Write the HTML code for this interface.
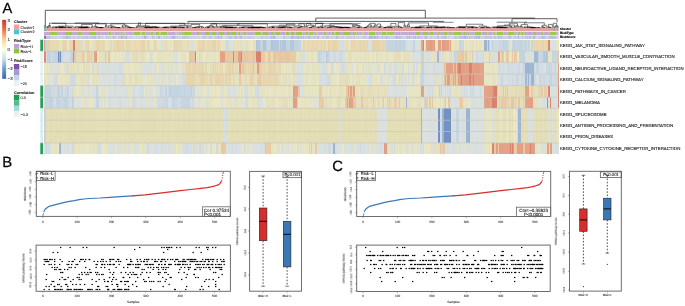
<!DOCTYPE html>
<html><head><meta charset="utf-8"><style>
html,body{margin:0;padding:0;background:#fff;width:685px;height:306px;overflow:hidden;}
svg{display:block;font-family:"Liberation Sans",sans-serif;}
text{will-change:transform;}
text.s{stroke-width:0.1px;stroke-linejoin:round;}
text{text-rendering:geometricPrecision;}
</style></head><body>
<svg width="685" height="306" viewBox="0 0 685 306">
<rect width="685" height="306" fill="#fff"/>
<defs><filter id="hb" x="0" y="0" width="1" height="1"><feGaussianBlur stdDeviation="0.55 0.25" edgeMode="duplicate"/></filter></defs>
<g filter="url(#hb)" shape-rendering="crispEdges"><g transform="translate(0 39.70)"><rect x="44" width="1.35" height="11.50" fill="#e3a286"/><rect x="45" width="1.35" height="11.50" fill="#c4d3e0"/><rect x="46" width="0.85" height="11.50" fill="#c5d4e1"/><rect x="46.5" width="2.35" height="11.50" fill="#e4d3ab"/><rect x="48.5" width="1.85" height="11.50" fill="#e5d4ac"/><rect x="50" width="4.35" height="11.50" fill="#e9d8b0"/><rect x="54" width="1.35" height="11.50" fill="#e6ddba"/><rect x="55" width="2.85" height="11.50" fill="#e9d8b0"/><rect x="57.5" width="1.35" height="11.50" fill="#e5dcb9"/><rect x="58.5" width="1.35" height="11.50" fill="#e7debb"/><rect x="59.5" width="0.85" height="11.50" fill="#e5dcb9"/><rect x="60" width="2.35" height="11.50" fill="#e7e4c3"/><rect x="62" width="1.35" height="11.50" fill="#e9d8b0"/><rect x="63" width="1.35" height="11.50" fill="#e4d3ab"/><rect x="64" width="1.85" height="11.50" fill="#e5d4ac"/><rect x="65.5" width="1.85" height="11.50" fill="#e7d6ae"/><rect x="67" width="2.35" height="11.50" fill="#e9e6c5"/><rect x="69" width="3.35" height="11.50" fill="#e7d6ae"/><rect x="72" width="1.35" height="11.50" fill="#e8d7af"/><rect x="73" width="2.35" height="11.50" fill="#d8816d"/><rect x="75" width="1.35" height="11.50" fill="#e8d7af"/><rect x="76" width="1.35" height="11.50" fill="#e9d8b0"/><rect x="77" width="3.35" height="11.50" fill="#e8d7af"/><rect x="80" width="1.35" height="11.50" fill="#ead9b1"/><rect x="81" width="0.85" height="11.50" fill="#e7d6ae"/><rect x="81.5" width="2.85" height="11.50" fill="#dbe1de"/><rect x="84" width="0.85" height="11.50" fill="#e4e1c0"/><rect x="84.5" width="2.85" height="11.50" fill="#ead9b1"/><rect x="87" width="2.35" height="11.50" fill="#e6d5ad"/><rect x="89" width="1.35" height="11.50" fill="#e4e1c0"/><rect x="90" width="1.85" height="11.50" fill="#e9e6c5"/><rect x="91.5" width="1.35" height="11.50" fill="#e4e1c0"/><rect x="92.5" width="0.85" height="11.50" fill="#e9e6c5"/><rect x="93" width="1.85" height="11.50" fill="#e8dfbc"/><rect x="94.5" width="1.35" height="11.50" fill="#ead9b1"/><rect x="95.5" width="3.35" height="11.50" fill="#e5d4ac"/><rect x="98.5" width="1.85" height="11.50" fill="#e6d5ad"/><rect x="100" width="2.85" height="11.50" fill="#e9d8b0"/><rect x="102.5" width="1.35" height="11.50" fill="#e5d4ac"/><rect x="103.5" width="1.85" height="11.50" fill="#e9d8b0"/><rect x="105" width="1.85" height="11.50" fill="#e7e4c3"/><rect x="106.5" width="2.35" height="11.50" fill="#e6e3c2"/><rect x="108.5" width="2.85" height="11.50" fill="#e5dcb9"/><rect x="111" width="1.35" height="11.50" fill="#e7d6ae"/><rect x="112" width="1.35" height="11.50" fill="#e6e3c2"/><rect x="113" width="1.85" height="11.50" fill="#e8d7af"/><rect x="114.5" width="1.35" height="11.50" fill="#e5dcb9"/><rect x="115.5" width="1.35" height="11.50" fill="#e6d5ad"/><rect x="116.5" width="1.85" height="11.50" fill="#e4d3ab"/><rect x="118" width="2.85" height="11.50" fill="#e6d5ad"/><rect x="120.5" width="2.85" height="11.50" fill="#e8d7af"/><rect x="123" width="1.35" height="11.50" fill="#e5d4ac"/><rect x="124" width="1.35" height="11.50" fill="#e8dfbc"/><rect x="125" width="1.35" height="11.50" fill="#e6ddba"/><rect x="126" width="2.85" height="11.50" fill="#e7d6ae"/><rect x="128.5" width="2.85" height="11.50" fill="#e4dbb8"/><rect x="131" width="1.85" height="11.50" fill="#e7debb"/><rect x="132.5" width="1.35" height="11.50" fill="#e8dfbc"/><rect x="133.5" width="1.35" height="11.50" fill="#e8d7af"/><rect x="134.5" width="1.35" height="11.50" fill="#e4dbb8"/><rect x="135.5" width="1.35" height="11.50" fill="#ead9b1"/><rect x="136.5" width="1.35" height="11.50" fill="#e5e2c1"/><rect x="137.5" width="1.35" height="11.50" fill="#e9d8b0"/><rect x="138.5" width="1.35" height="11.50" fill="#e4dbb8"/><rect x="139.5" width="1.35" height="11.50" fill="#e9d8b0"/><rect x="140.5" width="1.85" height="11.50" fill="#e7d6ae"/><rect x="142" width="3.35" height="11.50" fill="#e4d3ab"/><rect x="145" width="2.35" height="11.50" fill="#e9e0bd"/><rect x="147" width="2.85" height="11.50" fill="#e8d7af"/><rect x="149.5" width="2.85" height="11.50" fill="#e7e4c3"/><rect x="152" width="1.35" height="11.50" fill="#eae7c6"/><rect x="153" width="1.35" height="11.50" fill="#e8dfbc"/><rect x="154" width="2.35" height="11.50" fill="#e5d4ac"/><rect x="156" width="1.85" height="11.50" fill="#e4e1c0"/><rect x="157.5" width="2.85" height="11.50" fill="#e7e4c3"/><rect x="160" width="1.35" height="11.50" fill="#dae0dd"/><rect x="161" width="2.35" height="11.50" fill="#e5e2c1"/><rect x="163" width="1.35" height="11.50" fill="#d2dce2"/><rect x="164" width="1.35" height="11.50" fill="#e5e2c1"/><rect x="165" width="2.35" height="11.50" fill="#e4dbb8"/><rect x="167" width="1.35" height="11.50" fill="#e8dfbc"/><rect x="168" width="1.35" height="11.50" fill="#e7e4c3"/><rect x="169" width="1.85" height="11.50" fill="#e6e3c2"/><rect x="170.5" width="1.35" height="11.50" fill="#e7e4c3"/><rect x="171.5" width="1.35" height="11.50" fill="#e9e6c5"/><rect x="172.5" width="0.85" height="11.50" fill="#e3dab7"/><rect x="173" width="1.35" height="11.50" fill="#ead9b1"/><rect x="174" width="2.85" height="11.50" fill="#e7d6ae"/><rect x="176.5" width="1.35" height="11.50" fill="#e4d3ab"/><rect x="177.5" width="1.85" height="11.50" fill="#e5dcb9"/><rect x="179" width="1.35" height="11.50" fill="#e4dbb8"/><rect x="180" width="1.35" height="11.50" fill="#e3dab7"/><rect x="181" width="1.35" height="11.50" fill="#e7d6ae"/><rect x="182" width="2.85" height="11.50" fill="#e8dfbc"/><rect x="184.5" width="2.35" height="11.50" fill="#e7debb"/><rect x="186.5" width="2.35" height="11.50" fill="#ead9b1"/><rect x="188.5" width="1.85" height="11.50" fill="#d9dfdc"/><rect x="190" width="2.35" height="11.50" fill="#dae0dd"/><rect x="192" width="1.85" height="11.50" fill="#d9dfdc"/><rect x="193.5" width="1.35" height="11.50" fill="#e9e6c5"/><rect x="194.5" width="1.1" height="11.50" fill="#dbe1de"/><rect x="195.25" width="2.85" height="11.50" fill="#e8dfbc"/><rect x="197.75" width="2.85" height="11.50" fill="#e6d5ad"/><rect x="200.25" width="2.35" height="11.50" fill="#e8d7af"/><rect x="202.25" width="2.85" height="11.50" fill="#e5d4ac"/><rect x="204.75" width="2.35" height="11.50" fill="#e8dfbc"/><rect x="206.75" width="2.85" height="11.50" fill="#e8d7af"/><rect x="209.25" width="1.35" height="11.50" fill="#e9d8b0"/><rect x="210.25" width="1.35" height="11.50" fill="#e6ddba"/><rect x="211.25" width="1.35" height="11.50" fill="#e8d7af"/><rect x="212.25" width="2.35" height="11.50" fill="#e6d5ad"/><rect x="214.25" width="2.35" height="11.50" fill="#e4d3ab"/><rect x="216.25" width="1.35" height="11.50" fill="#e7debb"/><rect x="217.25" width="1.85" height="11.50" fill="#e8d7af"/><rect x="218.75" width="2.6" height="11.50" fill="#ead9b1"/><rect x="221" width="1.85" height="11.50" fill="#e9e6c5"/><rect x="222.5" width="1.35" height="11.50" fill="#e6e3c2"/><rect x="223.5" width="1.85" height="11.50" fill="#e9e6c5"/><rect x="225" width="4.35" height="11.50" fill="#d0dae0"/><rect x="229" width="4.35" height="11.50" fill="#dbe1de"/><rect x="233" width="1.35" height="11.50" fill="#e4dbb8"/><rect x="234" width="2.35" height="11.50" fill="#e9e0bd"/><rect x="236" width="4.85" height="11.50" fill="#e8dfbc"/><rect x="240.5" width="2.35" height="11.50" fill="#d9dfdc"/><rect x="242.5" width="1.35" height="11.50" fill="#e6e3c2"/><rect x="243.5" width="1.35" height="11.50" fill="#e5e2c1"/><rect x="244.5" width="1.85" height="11.50" fill="#e9e0bd"/><rect x="246" width="1.85" height="11.50" fill="#e6ddba"/><rect x="247.5" width="2.85" height="11.50" fill="#e7e4c3"/><rect x="250" width="2.85" height="11.50" fill="#eae7c6"/><rect x="252.5" width="2.85" height="11.50" fill="#e8dfbc"/><rect x="255" width="1.35" height="11.50" fill="#d9dfdc"/><rect x="256" width="0.6" height="11.50" fill="#e4dbb8"/><rect x="256.25" width="1.35" height="11.50" fill="#b1c5da"/><rect x="257.25" width="2.1" height="11.50" fill="#b4c8dd"/><rect x="259" width="1.35" height="11.50" fill="#b5c9de"/><rect x="260" width="1.35" height="11.50" fill="#c3d2df"/><rect x="261" width="1.35" height="11.50" fill="#c4d3e0"/><rect x="262" width="1.35" height="11.50" fill="#c5d4e1"/><rect x="263" width="2.85" height="11.50" fill="#b2c6db"/><rect x="265.5" width="1.85" height="11.50" fill="#c2d1de"/><rect x="267" width="2.85" height="11.50" fill="#c8d7e4"/><rect x="269.5" width="1.85" height="11.50" fill="#c4d3e0"/><rect x="271" width="1.35" height="11.50" fill="#b0c4d9"/><rect x="272" width="1.35" height="11.50" fill="#b1c5da"/><rect x="273" width="2.35" height="11.50" fill="#b6cadf"/><rect x="275" width="1.35" height="11.50" fill="#b3c7dc"/><rect x="276" width="2.85" height="11.50" fill="#b5c9de"/><rect x="278.5" width="1.35" height="11.50" fill="#c8d7e4"/><rect x="279.5" width="1.35" height="11.50" fill="#b1c5da"/><rect x="280.5" width="1.85" height="11.50" fill="#c2d1de"/><rect x="282" width="1.35" height="11.50" fill="#b1c5da"/><rect x="283" width="2.85" height="11.50" fill="#b2c6db"/><rect x="285.5" width="2.85" height="11.50" fill="#c3d2df"/><rect x="288" width="2.35" height="11.50" fill="#c4d3e0"/><rect x="290" width="2.85" height="11.50" fill="#b4c8dd"/><rect x="292.5" width="1.85" height="11.50" fill="#b3c7dc"/><rect x="294" width="2.85" height="11.50" fill="#c3d2df"/><rect x="296.5" width="1.85" height="11.50" fill="#c4d3e0"/><rect x="298" width="2.35" height="11.50" fill="#c6d5e2"/><rect x="300" width="1.1" height="11.50" fill="#c5d4e1"/><rect x="300.75" width="2.6" height="11.50" fill="#e6e3c2"/><rect x="303" width="1.35" height="11.50" fill="#e6d5ad"/><rect x="304" width="1.35" height="11.50" fill="#e7d6ae"/><rect x="305" width="1.35" height="11.50" fill="#e8dfbc"/><rect x="306" width="2.85" height="11.50" fill="#e9d8b0"/><rect x="308.5" width="1.35" height="11.50" fill="#e8d7af"/><rect x="309.5" width="2.85" height="11.50" fill="#e9d8b0"/><rect x="312" width="7.35" height="11.50" fill="#e8d7af"/><rect x="319" width="1.85" height="11.50" fill="#e4dbb8"/><rect x="320.5" width="1.35" height="11.50" fill="#e6d5ad"/><rect x="321.5" width="1.35" height="11.50" fill="#e9d8b0"/><rect x="322.5" width="1.85" height="11.50" fill="#e6ddba"/><rect x="324" width="2.35" height="11.50" fill="#e7d6ae"/><rect x="326" width="2.35" height="11.50" fill="#e8dfbc"/><rect x="328" width="1.85" height="11.50" fill="#e5d4ac"/><rect x="329.5" width="2.85" height="11.50" fill="#e9d8b0"/><rect x="332" width="5.35" height="11.50" fill="#e5d4ac"/><rect x="337" width="2.35" height="11.50" fill="#e9d8b0"/><rect x="339" width="0.85" height="11.50" fill="#e5dcb9"/><rect x="339.5" width="2.85" height="11.50" fill="#d4dee4"/><rect x="342" width="2.35" height="11.50" fill="#d3dde3"/><rect x="344" width="1.85" height="11.50" fill="#dae0dd"/><rect x="345.5" width="1.35" height="11.50" fill="#e9d8b0"/><rect x="346.5" width="2.85" height="11.50" fill="#e8dfbc"/><rect x="349" width="1.35" height="11.50" fill="#e6e3c2"/><rect x="350" width="1.35" height="11.50" fill="#e7e4c3"/><rect x="351" width="1.35" height="11.50" fill="#e5d4ac"/><rect x="352" width="1.35" height="11.50" fill="#e9d8b0"/><rect x="353" width="2.85" height="11.50" fill="#e7d6ae"/><rect x="355.5" width="2.85" height="11.50" fill="#e9d8b0"/><rect x="358" width="1.35" height="11.50" fill="#e6ddba"/><rect x="359" width="2.85" height="11.50" fill="#e5d4ac"/><rect x="361.5" width="1.35" height="11.50" fill="#e5dcb9"/><rect x="362.5" width="2.35" height="11.50" fill="#e6d5ad"/><rect x="364.5" width="1.35" height="11.50" fill="#e5dcb9"/><rect x="365.5" width="1.85" height="11.50" fill="#e5d4ac"/><rect x="367" width="1.35" height="11.50" fill="#e6d5ad"/><rect x="368" width="0.6" height="11.50" fill="#e7debb"/><rect x="368" width="1.85" height="11.50" fill="#dae0dd"/><rect x="369.5" width="1.35" height="11.50" fill="#dbe1de"/><rect x="370.5" width="1.85" height="11.50" fill="#dae0dd"/><rect x="372" width="7.35" height="11.50" fill="#e4d3ab"/><rect x="379" width="1.35" height="11.50" fill="#e5d4ac"/><rect x="380" width="1.85" height="11.50" fill="#e7d6ae"/><rect x="381.5" width="2.35" height="11.50" fill="#e6d5ad"/><rect x="383.5" width="1.35" height="11.50" fill="#e8d7af"/><rect x="384.5" width="2.1" height="11.50" fill="#e6d5ad"/><rect x="386.25" width="1.85" height="11.50" fill="#c7d6e3"/><rect x="387.75" width="1.35" height="11.50" fill="#c5d4e1"/><rect x="388.75" width="2.35" height="11.50" fill="#c4d3e0"/><rect x="390.75" width="1.35" height="11.50" fill="#c6d5e2"/><rect x="391.75" width="1.35" height="11.50" fill="#c4d3e0"/><rect x="392.75" width="2.35" height="11.50" fill="#c6d5e2"/><rect x="394.75" width="3.85" height="11.50" fill="#c3d2df"/><rect x="398.25" width="1.35" height="11.50" fill="#c5d4e1"/><rect x="399.25" width="1.85" height="11.50" fill="#c2d1de"/><rect x="400.75" width="2.85" height="11.50" fill="#c5d4e1"/><rect x="403.25" width="1.35" height="11.50" fill="#c3d2df"/><rect x="404.25" width="0.6" height="11.50" fill="#c4d3e0"/><rect x="404.5" width="1.85" height="11.50" fill="#cfd9df"/><rect x="406" width="1.35" height="11.50" fill="#d1dbe1"/><rect x="407" width="3.35" height="11.50" fill="#dae0dd"/><rect x="410" width="2.85" height="11.50" fill="#d4dee4"/><rect x="412.5" width="3.1" height="11.50" fill="#c4d3e0"/><rect x="415.25" width="2.85" height="11.50" fill="#dae0dd"/><rect x="417.75" width="1.85" height="11.50" fill="#dbe1de"/><rect x="419.25" width="2.1" height="11.50" fill="#dae0dd"/><rect x="421" width="2.35" height="11.50" fill="#e5a488"/><rect x="423" width="1.35" height="11.50" fill="#db8470"/><rect x="424" width="2.35" height="11.50" fill="#e9e6c5"/><rect x="426" width="2.85" height="11.50" fill="#e3a286"/><rect x="428.5" width="1.35" height="11.50" fill="#e09f83"/><rect x="429.5" width="2.85" height="11.50" fill="#df9e82"/><rect x="432" width="2.35" height="11.50" fill="#e4a387"/><rect x="434" width="1.35" height="11.50" fill="#e2a185"/><rect x="435" width="2.85" height="11.50" fill="#e8e5c4"/><rect x="437.5" width="0.6" height="11.50" fill="#e4e1c0"/><rect x="437.75" width="1.35" height="11.50" fill="#e5a488"/><rect x="438.75" width="1.35" height="11.50" fill="#e1a084"/><rect x="439.75" width="1.85" height="11.50" fill="#e3a286"/><rect x="441.25" width="1.35" height="11.50" fill="#eacca7"/><rect x="442.25" width="1.35" height="11.50" fill="#df9e82"/><rect x="443.25" width="1.35" height="11.50" fill="#e09f83"/><rect x="444.25" width="2.35" height="11.50" fill="#e2a185"/><rect x="446.25" width="2.35" height="11.50" fill="#e4a387"/><rect x="448.25" width="1.35" height="11.50" fill="#e3a286"/><rect x="449.25" width="1.35" height="11.50" fill="#e4c6a1"/><rect x="450.25" width="0.6" height="11.50" fill="#e4a387"/><rect x="450.5" width="1.85" height="11.50" fill="#d9dfdc"/><rect x="452" width="2.85" height="11.50" fill="#e8e5c4"/><rect x="454.5" width="2.85" height="11.50" fill="#e7debb"/><rect x="457" width="1.85" height="11.50" fill="#e9e0bd"/><rect x="458.5" width="0.85" height="11.50" fill="#e6ddba"/><rect x="459" width="1.85" height="11.50" fill="#c6d5e2"/><rect x="460.5" width="1.35" height="11.50" fill="#c5d4e1"/><rect x="461.5" width="1.35" height="11.50" fill="#d1dbe1"/><rect x="462.5" width="1.85" height="11.50" fill="#c5d4e1"/><rect x="464" width="1.35" height="11.50" fill="#eae7c6"/><rect x="465" width="1.35" height="11.50" fill="#e7e4c3"/><rect x="466" width="1.35" height="11.50" fill="#e5e2c1"/><rect x="467" width="1.35" height="11.50" fill="#e9e0bd"/><rect x="468" width="2.35" height="11.50" fill="#e8e5c4"/><rect x="470" width="1.85" height="11.50" fill="#e5e2c1"/><rect x="471.5" width="2.35" height="11.50" fill="#e8dfbc"/><rect x="473.5" width="1.85" height="11.50" fill="#e8e5c4"/><rect x="475" width="1.35" height="11.50" fill="#eae7c6"/><rect x="476" width="1.35" height="11.50" fill="#e4dbb8"/><rect x="477" width="2.35" height="11.50" fill="#e8e5c4"/><rect x="479" width="1.35" height="11.50" fill="#e5e2c1"/><rect x="480" width="1.85" height="11.50" fill="#e6e3c2"/><rect x="481.5" width="2.85" height="11.50" fill="#e9e6c5"/><rect x="484" width="1.35" height="11.50" fill="#9db5d2"/><rect x="485" width="1.85" height="11.50" fill="#9cb4d1"/><rect x="486.5" width="1.85" height="11.50" fill="#c8d7e4"/><rect x="488" width="1.35" height="11.50" fill="#9cb4d1"/><rect x="489" width="1.35" height="11.50" fill="#c8d7e4"/><rect x="490" width="1.35" height="11.50" fill="#d4dee4"/><rect x="491" width="1.35" height="11.50" fill="#d1dbe1"/><rect x="492" width="1.35" height="11.50" fill="#c3d2df"/><rect x="493" width="2.35" height="11.50" fill="#d0dae0"/><rect x="495" width="2.35" height="11.50" fill="#cfd9df"/><rect x="497" width="1.35" height="11.50" fill="#d5dfe5"/><rect x="498" width="1.85" height="11.50" fill="#c8d7e4"/><rect x="499.5" width="1.35" height="11.50" fill="#d0dae0"/><rect x="500.5" width="2.35" height="11.50" fill="#c7d6e3"/><rect x="502.5" width="1.85" height="11.50" fill="#c3d2df"/><rect x="504" width="1.85" height="11.50" fill="#c4d3e0"/><rect x="505.5" width="1.35" height="11.50" fill="#c2d1de"/><rect x="506.5" width="2.35" height="11.50" fill="#c7d6e3"/><rect x="508.5" width="2.35" height="11.50" fill="#e5e2c1"/><rect x="510.5" width="1.35" height="11.50" fill="#e8e5c4"/><rect x="511.5" width="1.85" height="11.50" fill="#c7d6e3"/><rect x="513" width="2.35" height="11.50" fill="#c2d1de"/><rect x="515" width="2.85" height="11.50" fill="#c6d5e2"/><rect x="517.5" width="2.35" height="11.50" fill="#c4d3e0"/><rect x="519.5" width="2.85" height="11.50" fill="#c3d2df"/><rect x="522" width="2.85" height="11.50" fill="#c7d6e3"/><rect x="524.5" width="2.85" height="11.50" fill="#c4d3e0"/><rect x="527" width="1.35" height="11.50" fill="#d1dbe1"/><rect x="528" width="2.35" height="11.50" fill="#c5d4e1"/><rect x="530" width="1.35" height="11.50" fill="#e8e5c4"/><rect x="531" width="1.35" height="11.50" fill="#c6d5e2"/><rect x="532" width="1.35" height="11.50" fill="#c4d3e0"/><rect x="533" width="0.85" height="11.50" fill="#d2dce2"/><rect x="533.5" width="1.35" height="11.50" fill="#e6d5ad"/><rect x="534.5" width="4.85" height="11.50" fill="#e7d6ae"/><rect x="539" width="1.35" height="11.50" fill="#ead9b1"/><rect x="540" width="1.35" height="11.50" fill="#e8d7af"/><rect x="541" width="1.85" height="11.50" fill="#e6d5ad"/><rect x="542.5" width="1.35" height="11.50" fill="#e5d4ac"/><rect x="543.5" width="1.35" height="11.50" fill="#ead9b1"/><rect x="544.5" width="1.35" height="11.50" fill="#e8d7af"/><rect x="545.5" width="2.35" height="11.50" fill="#e6d5ad"/><rect x="547.5" width="0.85" height="11.50" fill="#e7d6ae"/><rect x="548" width="1.85" height="11.50" fill="#dd8672"/><rect x="549.5" width="0.85" height="11.50" fill="#da836f"/><rect x="550" width="1.35" height="11.50" fill="#d9dfdc"/><rect x="551" width="3.85" height="11.50" fill="#dbe1de"/><rect x="554.5" width="2.85" height="11.50" fill="#e7e4c3"/><rect x="557" width="1.35" height="11.50" fill="#eae7c6"/><rect x="558" width="0.5" height="11.50" fill="#e8e5c4"/></g><g transform="translate(0 51.20)"><rect x="44" width="2.35" height="11.30" fill="#dd8672"/><rect x="46" width="1.35" height="11.30" fill="#dae0dd"/><rect x="47" width="1.35" height="11.30" fill="#c2d1de"/><rect x="48" width="2.85" height="11.30" fill="#c3d2df"/><rect x="50.5" width="1.35" height="11.30" fill="#d5dfe5"/><rect x="51.5" width="2.35" height="11.30" fill="#c7d6e3"/><rect x="53.5" width="1.85" height="11.30" fill="#c8d7e4"/><rect x="55" width="1.35" height="11.30" fill="#c3d2df"/><rect x="56" width="1.35" height="11.30" fill="#c4d3e0"/><rect x="57" width="0.85" height="11.30" fill="#c3d2df"/><rect x="57.5" width="1.35" height="11.30" fill="#708ec0"/><rect x="58.5" width="1.35" height="11.30" fill="#a0b8d5"/><rect x="59.5" width="1.35" height="11.30" fill="#6f8dbf"/><rect x="60.5" width="2.1" height="11.30" fill="#c5d4e1"/><rect x="62.25" width="1.85" height="11.30" fill="#d1dbe1"/><rect x="63.75" width="1.35" height="11.30" fill="#d4dee4"/><rect x="64.75" width="1.35" height="11.30" fill="#dbe1de"/><rect x="65.75" width="2.85" height="11.30" fill="#d5dfe5"/><rect x="68.25" width="1.35" height="11.30" fill="#d4dee4"/><rect x="69.25" width="1.1" height="11.30" fill="#d5dfe5"/><rect x="70" width="1.85" height="11.30" fill="#c6d5e2"/><rect x="71.5" width="1.85" height="11.30" fill="#c3d2df"/><rect x="73" width="1.35" height="11.30" fill="#dc8571"/><rect x="74" width="0.6" height="11.30" fill="#db8470"/><rect x="74.25" width="2.35" height="11.30" fill="#e7c9a4"/><rect x="76.25" width="2.35" height="11.30" fill="#e4dbb8"/><rect x="78.25" width="2.35" height="11.30" fill="#e6ddba"/><rect x="80.25" width="2.35" height="11.30" fill="#e5dcb9"/><rect x="82.25" width="1.35" height="11.30" fill="#e8caa5"/><rect x="83.25" width="1.35" height="11.30" fill="#e6c8a3"/><rect x="84.25" width="1.35" height="11.30" fill="#e4dbb8"/><rect x="85.25" width="2.35" height="11.30" fill="#e9e0bd"/><rect x="87.25" width="2.85" height="11.30" fill="#eacca7"/><rect x="89.75" width="1.85" height="11.30" fill="#e5dcb9"/><rect x="91.25" width="1.35" height="11.30" fill="#e7c9a4"/><rect x="92.25" width="2.1" height="11.30" fill="#e6ddba"/><rect x="94" width="2.35" height="11.30" fill="#e4a387"/><rect x="96" width="1.35" height="11.30" fill="#df9e82"/><rect x="97" width="1.85" height="11.30" fill="#eae7c6"/><rect x="98.5" width="1.35" height="11.30" fill="#e4e1c0"/><rect x="99.5" width="1.85" height="11.30" fill="#e8dfbc"/><rect x="101" width="2.85" height="11.30" fill="#e4e1c0"/><rect x="103.5" width="1.35" height="11.30" fill="#e6e3c2"/><rect x="104.5" width="1.35" height="11.30" fill="#e5c7a2"/><rect x="105.5" width="1.85" height="11.30" fill="#e5e2c1"/><rect x="107" width="1.35" height="11.30" fill="#e4e1c0"/><rect x="108" width="1.35" height="11.30" fill="#e5c7a2"/><rect x="109" width="1.35" height="11.30" fill="#e6c8a3"/><rect x="110" width="1.35" height="11.30" fill="#e4e1c0"/><rect x="111" width="2.85" height="11.30" fill="#eae7c6"/><rect x="113.5" width="2.35" height="11.30" fill="#e7e4c3"/><rect x="115.5" width="1.35" height="11.30" fill="#e9e6c5"/><rect x="116.5" width="1.35" height="11.30" fill="#e7e4c3"/><rect x="117.5" width="2.85" height="11.30" fill="#e8e5c4"/><rect x="120" width="2.35" height="11.30" fill="#e9e6c5"/><rect x="122" width="1.85" height="11.30" fill="#e5e2c1"/><rect x="123.5" width="1.35" height="11.30" fill="#e9e6c5"/><rect x="124.5" width="0.85" height="11.30" fill="#e7e4c3"/><rect x="125" width="3.35" height="11.30" fill="#d4dee4"/><rect x="128" width="1.35" height="11.30" fill="#cfd9df"/><rect x="129" width="1.35" height="11.30" fill="#e7e4c3"/><rect x="130" width="1.35" height="11.30" fill="#e5e2c1"/><rect x="131" width="1.35" height="11.30" fill="#e7e4c3"/><rect x="132" width="2.85" height="11.30" fill="#e5dcb9"/><rect x="134.5" width="2.85" height="11.30" fill="#e4dbb8"/><rect x="137" width="1.85" height="11.30" fill="#e5dcb9"/><rect x="138.5" width="1.35" height="11.30" fill="#e9e6c5"/><rect x="139.5" width="4.35" height="11.30" fill="#e5dcb9"/><rect x="143.5" width="2.85" height="11.30" fill="#e5e2c1"/><rect x="146" width="2.85" height="11.30" fill="#e9e6c5"/><rect x="148.5" width="1.35" height="11.30" fill="#e7e4c3"/><rect x="149.5" width="1.35" height="11.30" fill="#d0dae0"/><rect x="150.5" width="1.35" height="11.30" fill="#d4dee4"/><rect x="151.5" width="2.35" height="11.30" fill="#e6e3c2"/><rect x="153.5" width="3.85" height="11.30" fill="#eae7c6"/><rect x="157" width="1.35" height="11.30" fill="#e5e2c1"/><rect x="158" width="1.35" height="11.30" fill="#e6e3c2"/><rect x="159" width="2.35" height="11.30" fill="#e5e2c1"/><rect x="161" width="4.35" height="11.30" fill="#e6e3c2"/><rect x="165" width="2.35" height="11.30" fill="#e9e6c5"/><rect x="167" width="2.85" height="11.30" fill="#e7e4c3"/><rect x="169.5" width="1.85" height="11.30" fill="#e4e1c0"/><rect x="171" width="1.85" height="11.30" fill="#e9e6c5"/><rect x="172.5" width="0.85" height="11.30" fill="#e5e2c1"/><rect x="173" width="1.35" height="11.30" fill="#d9dfdc"/><rect x="174" width="1.85" height="11.30" fill="#dbe1de"/><rect x="175.5" width="1.85" height="11.30" fill="#d4dee4"/><rect x="177" width="1.35" height="11.30" fill="#e7e4c3"/><rect x="178" width="4.35" height="11.30" fill="#e9e6c5"/><rect x="182" width="1.35" height="11.30" fill="#e5e2c1"/><rect x="183" width="3.35" height="11.30" fill="#e6e3c2"/><rect x="186" width="2.85" height="11.30" fill="#eae7c6"/><rect x="188.5" width="2.85" height="11.30" fill="#e5c7a2"/><rect x="191" width="1.35" height="11.30" fill="#e6c8a3"/><rect x="192" width="2.35" height="11.30" fill="#e7c9a4"/><rect x="194" width="0.85" height="11.30" fill="#e5c7a2"/><rect x="194.5" width="1.85" height="11.30" fill="#d9826e"/><rect x="196" width="1.35" height="11.30" fill="#e9e6c5"/><rect x="197" width="1.85" height="11.30" fill="#e7e4c3"/><rect x="198.5" width="1.35" height="11.30" fill="#e3dab7"/><rect x="199.5" width="2.35" height="11.30" fill="#e6ddba"/><rect x="201.5" width="1.35" height="11.30" fill="#e7e4c3"/><rect x="202.5" width="1.85" height="11.30" fill="#e9e6c5"/><rect x="204" width="1.85" height="11.30" fill="#eae7c6"/><rect x="205.5" width="1.85" height="11.30" fill="#e6ddba"/><rect x="207" width="2.85" height="11.30" fill="#e6e3c2"/><rect x="209.5" width="1.35" height="11.30" fill="#e9e6c5"/><rect x="210.5" width="1.85" height="11.30" fill="#e9e0bd"/><rect x="212" width="1.35" height="11.30" fill="#e7e4c3"/><rect x="213" width="2.85" height="11.30" fill="#e5e2c1"/><rect x="215.5" width="2.35" height="11.30" fill="#e8e5c4"/><rect x="217.5" width="2.85" height="11.30" fill="#e9e0bd"/><rect x="220" width="2.85" height="11.30" fill="#e3a286"/><rect x="222.5" width="1.35" height="11.30" fill="#e2a185"/><rect x="223.5" width="1.85" height="11.30" fill="#e3a286"/><rect x="225" width="2.35" height="11.30" fill="#e7c9a4"/><rect x="227" width="1.35" height="11.30" fill="#e6c8a3"/><rect x="228" width="1.35" height="11.30" fill="#e7c9a4"/><rect x="229" width="1.85" height="11.30" fill="#e8caa5"/><rect x="230.5" width="1.35" height="11.30" fill="#e7c9a4"/><rect x="231.5" width="1.35" height="11.30" fill="#e9cba6"/><rect x="232.5" width="0.85" height="11.30" fill="#e5c7a2"/><rect x="233" width="1.6" height="11.30" fill="#da836f"/><rect x="234.25" width="1.85" height="11.30" fill="#e7c9a4"/><rect x="235.75" width="1.35" height="11.30" fill="#e5c7a2"/><rect x="236.75" width="1.35" height="11.30" fill="#e8caa5"/><rect x="237.75" width="0.6" height="11.30" fill="#e5c7a2"/><rect x="238" width="3.35" height="11.30" fill="#e2a185"/><rect x="241" width="1.35" height="11.30" fill="#da836f"/><rect x="242" width="2.85" height="11.30" fill="#e6c8a3"/><rect x="244.5" width="1.35" height="11.30" fill="#e5c7a2"/><rect x="245.5" width="1.35" height="11.30" fill="#e7c9a4"/><rect x="246.5" width="1.85" height="11.30" fill="#e5c7a2"/><rect x="248" width="1.35" height="11.30" fill="#eacca7"/><rect x="249" width="1.35" height="11.30" fill="#e6c8a3"/><rect x="250" width="2.35" height="11.30" fill="#eacca7"/><rect x="252" width="2.85" height="11.30" fill="#e5c7a2"/><rect x="254.5" width="1.35" height="11.30" fill="#e9cba6"/><rect x="255.5" width="1.1" height="11.30" fill="#e6c8a3"/><rect x="256.25" width="4.85" height="11.30" fill="#d8816d"/><rect x="260.75" width="0.6" height="11.30" fill="#d9826e"/><rect x="261" width="1.35" height="11.30" fill="#e9cba6"/><rect x="262" width="1.35" height="11.30" fill="#e7c9a4"/><rect x="263" width="2.35" height="11.30" fill="#e9cba6"/><rect x="265" width="1.85" height="11.30" fill="#e7debb"/><rect x="266.5" width="1.85" height="11.30" fill="#e5dcb9"/><rect x="268" width="1.35" height="11.30" fill="#e6c8a3"/><rect x="269" width="1.35" height="11.30" fill="#e7c9a4"/><rect x="270" width="1.35" height="11.30" fill="#e9cba6"/><rect x="271" width="2.35" height="11.30" fill="#e7debb"/><rect x="273" width="2.85" height="11.30" fill="#e4c6a1"/><rect x="275.5" width="2.35" height="11.30" fill="#eacca7"/><rect x="277.5" width="1.35" height="11.30" fill="#e5c7a2"/><rect x="278.5" width="1.35" height="11.30" fill="#e7c9a4"/><rect x="279.5" width="1.35" height="11.30" fill="#e5c7a2"/><rect x="280.5" width="2.35" height="11.30" fill="#e6c8a3"/><rect x="282.5" width="2.35" height="11.30" fill="#e8caa5"/><rect x="284.5" width="1.35" height="11.30" fill="#e5c7a2"/><rect x="285.5" width="2.35" height="11.30" fill="#e4c6a1"/><rect x="287.5" width="2.85" height="11.30" fill="#e5c7a2"/><rect x="290" width="1.35" height="11.30" fill="#e8caa5"/><rect x="291" width="2.85" height="11.30" fill="#e9cba6"/><rect x="293.5" width="1.85" height="11.30" fill="#e8caa5"/><rect x="295" width="1.35" height="11.30" fill="#eacca7"/><rect x="296" width="2.35" height="11.30" fill="#e5e2c1"/><rect x="298" width="1.35" height="11.30" fill="#e8e5c4"/><rect x="299" width="1.85" height="11.30" fill="#e4e1c0"/><rect x="300.5" width="2.35" height="11.30" fill="#dae0dd"/><rect x="302.5" width="0.85" height="11.30" fill="#dbe1de"/><rect x="303" width="1.85" height="11.30" fill="#d3dde3"/><rect x="304.5" width="1.85" height="11.30" fill="#e9e6c5"/><rect x="306" width="1.35" height="11.30" fill="#e5e2c1"/><rect x="307" width="1.85" height="11.30" fill="#e6e3c2"/><rect x="308.5" width="2.35" height="11.30" fill="#e8e5c4"/><rect x="310.5" width="1.35" height="11.30" fill="#e4e1c0"/><rect x="311.5" width="1.35" height="11.30" fill="#e5e2c1"/><rect x="312.5" width="1.85" height="11.30" fill="#e6e3c2"/><rect x="314" width="2.35" height="11.30" fill="#e9e6c5"/><rect x="316" width="1.35" height="11.30" fill="#e7e4c3"/><rect x="317" width="0.85" height="11.30" fill="#dae0dd"/><rect x="317.5" width="2.35" height="11.30" fill="#c3d2df"/><rect x="319.5" width="1.35" height="11.30" fill="#c8d7e4"/><rect x="320.5" width="1.35" height="11.30" fill="#d0dae0"/><rect x="321.5" width="2.35" height="11.30" fill="#d1dbe1"/><rect x="323.5" width="1.35" height="11.30" fill="#d2dce2"/><rect x="324.5" width="1.85" height="11.30" fill="#dbe1de"/><rect x="326" width="0.6" height="11.30" fill="#d2dce2"/><rect x="326" width="1.35" height="11.30" fill="#b3c7dc"/><rect x="327" width="1.85" height="11.30" fill="#c6d5e2"/><rect x="328.5" width="1.35" height="11.30" fill="#c7d6e3"/><rect x="329.5" width="0.85" height="11.30" fill="#b3c7dc"/><rect x="330" width="1.85" height="11.30" fill="#dbe1de"/><rect x="331.5" width="1.35" height="11.30" fill="#d0dae0"/><rect x="332.5" width="1.85" height="11.30" fill="#d4dee4"/><rect x="334" width="2.35" height="11.30" fill="#d0dae0"/><rect x="336" width="2.85" height="11.30" fill="#d4dee4"/><rect x="338.5" width="2.35" height="11.30" fill="#cfd9df"/><rect x="340.5" width="2.85" height="11.30" fill="#d0dae0"/><rect x="343" width="2.85" height="11.30" fill="#dae0dd"/><rect x="345.5" width="1.85" height="11.30" fill="#eae7c6"/><rect x="347" width="1.35" height="11.30" fill="#e8e5c4"/><rect x="348" width="1.35" height="11.30" fill="#e4dbb8"/><rect x="349" width="1.35" height="11.30" fill="#e9e0bd"/><rect x="350" width="1.85" height="11.30" fill="#e7debb"/><rect x="351.5" width="2.85" height="11.30" fill="#e8e5c4"/><rect x="354" width="2.35" height="11.30" fill="#e6e3c2"/><rect x="356" width="1.35" height="11.30" fill="#e5e2c1"/><rect x="357" width="2.35" height="11.30" fill="#e7e4c3"/><rect x="359" width="1.85" height="11.30" fill="#e6e3c2"/><rect x="360.5" width="1.85" height="11.30" fill="#e8dfbc"/><rect x="362" width="1.85" height="11.30" fill="#e8e5c4"/><rect x="363.5" width="1.35" height="11.30" fill="#e5e2c1"/><rect x="364.5" width="1.35" height="11.30" fill="#e5dcb9"/><rect x="365.5" width="1.35" height="11.30" fill="#e6e3c2"/><rect x="366.5" width="1.85" height="11.30" fill="#e7e4c3"/><rect x="368" width="1.35" height="11.30" fill="#e8dfbc"/><rect x="369" width="1.35" height="11.30" fill="#e8e5c4"/><rect x="370" width="2.85" height="11.30" fill="#e9e6c5"/><rect x="372.5" width="1.85" height="11.30" fill="#e4dbb8"/><rect x="374" width="2.35" height="11.30" fill="#eae7c6"/><rect x="376" width="2.35" height="11.30" fill="#e6ddba"/><rect x="378" width="1.35" height="11.30" fill="#e8e5c4"/><rect x="379" width="2.85" height="11.30" fill="#e6e3c2"/><rect x="381.5" width="1.85" height="11.30" fill="#e4e1c0"/><rect x="383" width="2.35" height="11.30" fill="#eae7c6"/><rect x="385" width="3.85" height="11.30" fill="#e5e2c1"/><rect x="388.5" width="2.35" height="11.30" fill="#e9e6c5"/><rect x="390.5" width="2.35" height="11.30" fill="#e8e5c4"/><rect x="392.5" width="1.35" height="11.30" fill="#e6e3c2"/><rect x="393.5" width="1.35" height="11.30" fill="#e8dfbc"/><rect x="394.5" width="1.35" height="11.30" fill="#e5dcb9"/><rect x="395.5" width="1.35" height="11.30" fill="#e8dfbc"/><rect x="396.5" width="4.35" height="11.30" fill="#e5dcb9"/><rect x="400.5" width="2.35" height="11.30" fill="#eae7c6"/><rect x="402.5" width="1.35" height="11.30" fill="#e5e2c1"/><rect x="403.5" width="1.85" height="11.30" fill="#e5dcb9"/><rect x="405" width="2.85" height="11.30" fill="#e7debb"/><rect x="407.5" width="2.35" height="11.30" fill="#e4e1c0"/><rect x="409.5" width="1.35" height="11.30" fill="#e5e2c1"/><rect x="410.5" width="1.35" height="11.30" fill="#e9e6c5"/><rect x="411.5" width="0.85" height="11.30" fill="#e6e3c2"/><rect x="412" width="5.85" height="11.30" fill="#dae0dd"/><rect x="417.5" width="2.35" height="11.30" fill="#dbe1de"/><rect x="419.5" width="1.85" height="11.30" fill="#d9dfdc"/><rect x="421" width="2.35" height="11.30" fill="#c5d4e1"/><rect x="423" width="1.35" height="11.30" fill="#c4d3e0"/><rect x="424" width="1.35" height="11.30" fill="#e7e4c3"/><rect x="425" width="2.35" height="11.30" fill="#dae0dd"/><rect x="427" width="2.85" height="11.30" fill="#d9dfdc"/><rect x="429.5" width="2.35" height="11.30" fill="#dbe1de"/><rect x="431.5" width="1.35" height="11.30" fill="#e6e3c2"/><rect x="432.5" width="1.35" height="11.30" fill="#dbe1de"/><rect x="433.5" width="1.35" height="11.30" fill="#e4e1c0"/><rect x="434.5" width="1.85" height="11.30" fill="#dae0dd"/><rect x="436" width="1.35" height="11.30" fill="#dbe1de"/><rect x="437" width="1.35" height="11.30" fill="#a1b9d6"/><rect x="438" width="1.35" height="11.30" fill="#9eb6d3"/><rect x="439" width="2.85" height="11.30" fill="#e4e1c0"/><rect x="441.5" width="2.35" height="11.30" fill="#d9dfdc"/><rect x="443.5" width="2.85" height="11.30" fill="#e5e2c1"/><rect x="446" width="2.85" height="11.30" fill="#e8e5c4"/><rect x="448.5" width="2.85" height="11.30" fill="#d9dfdc"/><rect x="451" width="1.35" height="11.30" fill="#d3dde3"/><rect x="452" width="1.35" height="11.30" fill="#e8e5c4"/><rect x="453" width="1.35" height="11.30" fill="#dae0dd"/><rect x="454" width="2.85" height="11.30" fill="#c6d5e2"/><rect x="456.5" width="1.35" height="11.30" fill="#c7d6e3"/><rect x="457.5" width="0.85" height="11.30" fill="#c2d1de"/><rect x="458" width="1.35" height="11.30" fill="#e6c8a3"/><rect x="459" width="1.85" height="11.30" fill="#e9cba6"/><rect x="460.5" width="2.35" height="11.30" fill="#e6c8a3"/><rect x="462.5" width="1.35" height="11.30" fill="#e4c6a1"/><rect x="463.5" width="1.85" height="11.30" fill="#e5dcb9"/><rect x="465" width="2.35" height="11.30" fill="#e5c7a2"/><rect x="467" width="1.35" height="11.30" fill="#e7debb"/><rect x="468" width="1.85" height="11.30" fill="#e6ddba"/><rect x="469.5" width="2.85" height="11.30" fill="#e8dfbc"/><rect x="472" width="0.85" height="11.30" fill="#e7c9a4"/><rect x="472.5" width="3.85" height="11.30" fill="#dbe1de"/><rect x="476" width="1.85" height="11.30" fill="#d0dae0"/><rect x="477.5" width="1.35" height="11.30" fill="#d4dee4"/><rect x="478.5" width="1.35" height="11.30" fill="#d9dfdc"/><rect x="479.5" width="1.35" height="11.30" fill="#d3dde3"/><rect x="480.5" width="1.35" height="11.30" fill="#dae0dd"/><rect x="481.5" width="2.35" height="11.30" fill="#d2dce2"/><rect x="483.5" width="0.85" height="11.30" fill="#dbe1de"/><rect x="484" width="2.85" height="11.30" fill="#e6e3c2"/><rect x="486.5" width="2.85" height="11.30" fill="#e7e4c3"/><rect x="489" width="1.35" height="11.30" fill="#e6c8a3"/><rect x="490" width="1.35" height="11.30" fill="#e4e1c0"/><rect x="491" width="5.85" height="11.30" fill="#d9dfdc"/><rect x="496.5" width="1.85" height="11.30" fill="#dae0dd"/><rect x="498" width="2.35" height="11.30" fill="#e3a286"/><rect x="500" width="1.35" height="11.30" fill="#e7e4c3"/><rect x="501" width="2.85" height="11.30" fill="#e6c8a3"/><rect x="503.5" width="1.35" height="11.30" fill="#e9e6c5"/><rect x="504.5" width="1.35" height="11.30" fill="#e5e2c1"/><rect x="505.5" width="1.85" height="11.30" fill="#e7c9a4"/><rect x="507" width="1.85" height="11.30" fill="#e8caa5"/><rect x="508.5" width="2.35" height="11.30" fill="#eae7c6"/><rect x="510.5" width="1.85" height="11.30" fill="#e5e2c1"/><rect x="512" width="1.35" height="11.30" fill="#e6c8a3"/><rect x="513" width="1.35" height="11.30" fill="#e9e6c5"/><rect x="514" width="1.35" height="11.30" fill="#e4c6a1"/><rect x="515" width="1.35" height="11.30" fill="#e9cba6"/><rect x="516" width="1.35" height="11.30" fill="#eacca7"/><rect x="517" width="2.35" height="11.30" fill="#eae7c6"/><rect x="519" width="1.35" height="11.30" fill="#c6d5e2"/><rect x="520" width="2.85" height="11.30" fill="#c4d3e0"/><rect x="522.5" width="1.35" height="11.30" fill="#c3d2df"/><rect x="523.5" width="1.85" height="11.30" fill="#c2d1de"/><rect x="525" width="3.85" height="11.30" fill="#d9dfdc"/><rect x="528.5" width="2.35" height="11.30" fill="#dbe1de"/><rect x="530.5" width="2.35" height="11.30" fill="#dae0dd"/><rect x="532.5" width="1.35" height="11.30" fill="#dbe1de"/><rect x="533.5" width="4.35" height="11.30" fill="#a0b8d5"/><rect x="537.5" width="1.85" height="11.30" fill="#c4d3e0"/><rect x="539" width="4.35" height="11.30" fill="#c7d6e3"/><rect x="543" width="2.85" height="11.30" fill="#b5c9de"/><rect x="545.5" width="2.35" height="11.30" fill="#b2c6db"/><rect x="547.5" width="0.85" height="11.30" fill="#c6d5e2"/><rect x="548" width="2.85" height="11.30" fill="#e8e5c4"/><rect x="550.5" width="1.35" height="11.30" fill="#e7e4c3"/><rect x="551.5" width="0.85" height="11.30" fill="#e9e6c5"/><rect x="552" width="1.35" height="11.30" fill="#c5d4e1"/><rect x="553" width="2.85" height="11.30" fill="#c7d6e3"/><rect x="555.5" width="1.35" height="11.30" fill="#c8d7e4"/><rect x="556.5" width="1.35" height="11.30" fill="#c5d4e1"/><rect x="557.5" width="0.6" height="11.30" fill="#c6d5e2"/><rect x="557.5" width="1" height="11.30" fill="#e6c8a3"/></g><g transform="translate(0 62.50)"><rect x="44" width="3.35" height="11.50" fill="#eae7c6"/><rect x="47" width="1.35" height="11.50" fill="#e5e2c1"/><rect x="48" width="2.35" height="11.50" fill="#e9e6c5"/><rect x="50" width="1.35" height="11.50" fill="#d4dee4"/><rect x="51" width="1.85" height="11.50" fill="#e5e2c1"/><rect x="52.5" width="2.85" height="11.50" fill="#dbe1de"/><rect x="55" width="1.35" height="11.50" fill="#e6e3c2"/><rect x="56" width="2.35" height="11.50" fill="#dae0dd"/><rect x="58" width="1.85" height="11.50" fill="#d9dfdc"/><rect x="59.5" width="1.35" height="11.50" fill="#e9e6c5"/><rect x="60.5" width="0.85" height="11.50" fill="#d0dae0"/><rect x="61" width="2.85" height="11.50" fill="#e9e6c5"/><rect x="63.5" width="1.35" height="11.50" fill="#e4e1c0"/><rect x="64.5" width="1.35" height="11.50" fill="#e6e3c2"/><rect x="65.5" width="2.85" height="11.50" fill="#d3dde3"/><rect x="68" width="1.35" height="11.50" fill="#e3dab7"/><rect x="69" width="2.35" height="11.50" fill="#e5e2c1"/><rect x="71" width="1.35" height="11.50" fill="#e5dcb9"/><rect x="72" width="2.35" height="11.50" fill="#e9e0bd"/><rect x="74" width="1.85" height="11.50" fill="#e5e2c1"/><rect x="75.5" width="1.35" height="11.50" fill="#e9e6c5"/><rect x="76.5" width="1.85" height="11.50" fill="#e4dbb8"/><rect x="78" width="1.35" height="11.50" fill="#e6e3c2"/><rect x="79" width="1.35" height="11.50" fill="#e5e2c1"/><rect x="80" width="2.85" height="11.50" fill="#e9e6c5"/><rect x="82.5" width="2.35" height="11.50" fill="#e4dbb8"/><rect x="84.5" width="1.85" height="11.50" fill="#e9e6c5"/><rect x="86" width="1.35" height="11.50" fill="#e5dcb9"/><rect x="87" width="2.85" height="11.50" fill="#e4e1c0"/><rect x="89.5" width="1.35" height="11.50" fill="#e8e5c4"/><rect x="90.5" width="1.85" height="11.50" fill="#e9e6c5"/><rect x="92" width="2.35" height="11.50" fill="#d2dce2"/><rect x="94" width="1.35" height="11.50" fill="#e7e4c3"/><rect x="95" width="2.35" height="11.50" fill="#e5e2c1"/><rect x="97" width="2.35" height="11.50" fill="#d0dae0"/><rect x="99" width="2.85" height="11.50" fill="#dbe1de"/><rect x="101.5" width="2.35" height="11.50" fill="#d9dfdc"/><rect x="103.5" width="1.35" height="11.50" fill="#dae0dd"/><rect x="104.5" width="3.35" height="11.50" fill="#d9dfdc"/><rect x="107.5" width="0.85" height="11.50" fill="#dae0dd"/><rect x="108" width="2.85" height="11.50" fill="#d9dfdc"/><rect x="110.5" width="1.85" height="11.50" fill="#dbe1de"/><rect x="112" width="1.35" height="11.50" fill="#dae0dd"/><rect x="113" width="2.35" height="11.50" fill="#dbe1de"/><rect x="115" width="2.35" height="11.50" fill="#d9dfdc"/><rect x="117" width="1.35" height="11.50" fill="#dbe1de"/><rect x="118" width="2.85" height="11.50" fill="#d3dde3"/><rect x="120.5" width="1.85" height="11.50" fill="#d1dbe1"/><rect x="122" width="0.85" height="11.50" fill="#d3dde3"/><rect x="122.5" width="3.35" height="11.50" fill="#e6e3c2"/><rect x="125.5" width="2.85" height="11.50" fill="#e8e5c4"/><rect x="128" width="1.35" height="11.50" fill="#e6e3c2"/><rect x="129" width="1.35" height="11.50" fill="#e8e5c4"/><rect x="130" width="1.35" height="11.50" fill="#e7e4c3"/><rect x="131" width="2.35" height="11.50" fill="#eae7c6"/><rect x="133" width="1.85" height="11.50" fill="#e6e3c2"/><rect x="134.5" width="1.35" height="11.50" fill="#e8e5c4"/><rect x="135.5" width="2.85" height="11.50" fill="#e7e4c3"/><rect x="138" width="1.35" height="11.50" fill="#e8e5c4"/><rect x="139" width="1.35" height="11.50" fill="#e5e2c1"/><rect x="140" width="1.35" height="11.50" fill="#e7e4c3"/><rect x="141" width="1.85" height="11.50" fill="#d9dfdc"/><rect x="142.5" width="2.85" height="11.50" fill="#dbe1de"/><rect x="145" width="2.85" height="11.50" fill="#d9dfdc"/><rect x="147.5" width="2.35" height="11.50" fill="#dbe1de"/><rect x="149.5" width="2.35" height="11.50" fill="#dae0dd"/><rect x="151.5" width="1.35" height="11.50" fill="#dbe1de"/><rect x="152.5" width="1.35" height="11.50" fill="#e9e6c5"/><rect x="153.5" width="2.35" height="11.50" fill="#d9dfdc"/><rect x="155.5" width="1.85" height="11.50" fill="#e6e3c2"/><rect x="157" width="1.85" height="11.50" fill="#eae7c6"/><rect x="158.5" width="3.85" height="11.50" fill="#dbe1de"/><rect x="162" width="2.35" height="11.50" fill="#d9dfdc"/><rect x="164" width="1.35" height="11.50" fill="#e5e2c1"/><rect x="165" width="2.85" height="11.50" fill="#e6e3c2"/><rect x="167.5" width="1.85" height="11.50" fill="#d9dfdc"/><rect x="169" width="1.85" height="11.50" fill="#e5e2c1"/><rect x="170.5" width="2.85" height="11.50" fill="#d9dfdc"/><rect x="173" width="2.35" height="11.50" fill="#e8e5c4"/><rect x="175" width="2.85" height="11.50" fill="#d9dfdc"/><rect x="177.5" width="3.85" height="11.50" fill="#e9e6c5"/><rect x="181" width="1.35" height="11.50" fill="#e8e5c4"/><rect x="182" width="2.35" height="11.50" fill="#d9dfdc"/><rect x="184" width="0.85" height="11.50" fill="#e6e3c2"/><rect x="184.5" width="1.35" height="11.50" fill="#ead9b1"/><rect x="185.5" width="2.35" height="11.50" fill="#e6d5ad"/><rect x="187.5" width="1.35" height="11.50" fill="#e7d6ae"/><rect x="188.5" width="1.35" height="11.50" fill="#e5d4ac"/><rect x="189.5" width="1.35" height="11.50" fill="#e6d5ad"/><rect x="190.5" width="1.85" height="11.50" fill="#e4dbb8"/><rect x="192" width="1.35" height="11.50" fill="#e7d6ae"/><rect x="193" width="2.85" height="11.50" fill="#e5d4ac"/><rect x="195.5" width="1.35" height="11.50" fill="#ead9b1"/><rect x="196.5" width="1.35" height="11.50" fill="#e6d5ad"/><rect x="197.5" width="1.35" height="11.50" fill="#e4dbb8"/><rect x="198.5" width="1.35" height="11.50" fill="#e5d4ac"/><rect x="199.5" width="1.35" height="11.50" fill="#e6d5ad"/><rect x="200.5" width="1.85" height="11.50" fill="#e7d6ae"/><rect x="202" width="1.85" height="11.50" fill="#e5d4ac"/><rect x="203.5" width="1.35" height="11.50" fill="#e6e3c2"/><rect x="204.5" width="2.85" height="11.50" fill="#e5d4ac"/><rect x="207" width="2.85" height="11.50" fill="#e7e4c3"/><rect x="209.5" width="2.85" height="11.50" fill="#e5dcb9"/><rect x="212" width="1.35" height="11.50" fill="#e4e1c0"/><rect x="213" width="1.35" height="11.50" fill="#e4d3ab"/><rect x="214" width="1.35" height="11.50" fill="#e6ddba"/><rect x="215" width="1.35" height="11.50" fill="#e6d5ad"/><rect x="216" width="2.35" height="11.50" fill="#ead9b1"/><rect x="218" width="1.35" height="11.50" fill="#e5e2c1"/><rect x="219" width="2.85" height="11.50" fill="#ead9b1"/><rect x="221.5" width="1.35" height="11.50" fill="#e6d5ad"/><rect x="222.5" width="1.35" height="11.50" fill="#e9e6c5"/><rect x="223.5" width="1.85" height="11.50" fill="#e8e5c4"/><rect x="225" width="1.35" height="11.50" fill="#e3dab7"/><rect x="226" width="2.35" height="11.50" fill="#e9d8b0"/><rect x="228" width="1.35" height="11.50" fill="#e6d5ad"/><rect x="229" width="2.35" height="11.50" fill="#e5d4ac"/><rect x="231" width="1.35" height="11.50" fill="#ead9b1"/><rect x="232" width="2.35" height="11.50" fill="#e5d4ac"/><rect x="234" width="1.35" height="11.50" fill="#e7debb"/><rect x="235" width="2.85" height="11.50" fill="#ead9b1"/><rect x="237.5" width="1.35" height="11.50" fill="#e7e4c3"/><rect x="238.5" width="0.85" height="11.50" fill="#e5dcb9"/><rect x="239" width="1.85" height="11.50" fill="#df9e82"/><rect x="240.5" width="1.35" height="11.50" fill="#e7d6ae"/><rect x="241.5" width="2.35" height="11.50" fill="#e5c7a2"/><rect x="243.5" width="2.35" height="11.50" fill="#e6d5ad"/><rect x="245.5" width="2.35" height="11.50" fill="#ead9b1"/><rect x="247.5" width="3.85" height="11.50" fill="#e6d5ad"/><rect x="251" width="1.35" height="11.50" fill="#e9d8b0"/><rect x="252" width="1.35" height="11.50" fill="#e4d3ab"/><rect x="253" width="1.35" height="11.50" fill="#e4c6a1"/><rect x="254" width="1.35" height="11.50" fill="#ead9b1"/><rect x="255" width="2.35" height="11.50" fill="#e5dcb9"/><rect x="257" width="2.35" height="11.50" fill="#df9e82"/><rect x="259" width="2.35" height="11.50" fill="#e8caa5"/><rect x="261" width="4.85" height="11.50" fill="#e8d7af"/><rect x="265.5" width="1.35" height="11.50" fill="#e7debb"/><rect x="266.5" width="1.35" height="11.50" fill="#e5dcb9"/><rect x="267.5" width="1.35" height="11.50" fill="#e7d6ae"/><rect x="268.5" width="3.35" height="11.50" fill="#e5d4ac"/><rect x="271.5" width="2.35" height="11.50" fill="#e7d6ae"/><rect x="273.5" width="1.35" height="11.50" fill="#e5d4ac"/><rect x="274.5" width="1.35" height="11.50" fill="#e6d5ad"/><rect x="275.5" width="1.35" height="11.50" fill="#e7debb"/><rect x="276.5" width="2.35" height="11.50" fill="#e6ddba"/><rect x="278.5" width="1.85" height="11.50" fill="#e7d6ae"/><rect x="280" width="1.35" height="11.50" fill="#e8d7af"/><rect x="281" width="1.35" height="11.50" fill="#e8e5c4"/><rect x="282" width="2.35" height="11.50" fill="#e7e4c3"/><rect x="284" width="2.35" height="11.50" fill="#e8e5c4"/><rect x="286" width="1.35" height="11.50" fill="#e4dbb8"/><rect x="287" width="1.35" height="11.50" fill="#e9e6c5"/><rect x="288" width="1.35" height="11.50" fill="#e6e3c2"/><rect x="289" width="1.35" height="11.50" fill="#e4e1c0"/><rect x="290" width="1.85" height="11.50" fill="#e8e5c4"/><rect x="291.5" width="3.35" height="11.50" fill="#e4dbb8"/><rect x="294.5" width="1.35" height="11.50" fill="#e7debb"/><rect x="295.5" width="0.85" height="11.50" fill="#e8e5c4"/><rect x="296" width="2.85" height="11.50" fill="#dbe1de"/><rect x="298.5" width="1.85" height="11.50" fill="#d9dfdc"/><rect x="300" width="1.35" height="11.50" fill="#dbe1de"/><rect x="301" width="2.35" height="11.50" fill="#dae0dd"/><rect x="303" width="3.35" height="11.50" fill="#e8e5c4"/><rect x="306" width="3.85" height="11.50" fill="#e5e2c1"/><rect x="309.5" width="2.85" height="11.50" fill="#e9e6c5"/><rect x="312" width="2.85" height="11.50" fill="#e5e2c1"/><rect x="314.5" width="2.35" height="11.50" fill="#e6e3c2"/><rect x="316.5" width="2.35" height="11.50" fill="#e7e4c3"/><rect x="318.5" width="3.85" height="11.50" fill="#dae0dd"/><rect x="322" width="1.85" height="11.50" fill="#d3dde3"/><rect x="323.5" width="1.35" height="11.50" fill="#d9dfdc"/><rect x="324.5" width="1.35" height="11.50" fill="#d2dce2"/><rect x="325.5" width="2.35" height="11.50" fill="#d9dfdc"/><rect x="327.5" width="0.85" height="11.50" fill="#dae0dd"/><rect x="328" width="1.85" height="11.50" fill="#e8e5c4"/><rect x="329.5" width="1.85" height="11.50" fill="#e9e6c5"/><rect x="331" width="1.85" height="11.50" fill="#d0dae0"/><rect x="332.5" width="1.85" height="11.50" fill="#d9dfdc"/><rect x="334" width="3.85" height="11.50" fill="#e9e6c5"/><rect x="337.5" width="1.35" height="11.50" fill="#dbe1de"/><rect x="338.5" width="1.35" height="11.50" fill="#e6e3c2"/><rect x="339.5" width="1.85" height="11.50" fill="#e4e1c0"/><rect x="341" width="1.35" height="11.50" fill="#d9dfdc"/><rect x="342" width="1.85" height="11.50" fill="#d0dae0"/><rect x="343.5" width="1.85" height="11.50" fill="#d3dde3"/><rect x="345" width="1.35" height="11.50" fill="#d4dee4"/><rect x="346" width="2.85" height="11.50" fill="#e4e1c0"/><rect x="348.5" width="1.35" height="11.50" fill="#e8e5c4"/><rect x="349.5" width="2.85" height="11.50" fill="#e6e3c2"/><rect x="352" width="1.35" height="11.50" fill="#d4dee4"/><rect x="353" width="2.85" height="11.50" fill="#eae7c6"/><rect x="355.5" width="1.35" height="11.50" fill="#e7e4c3"/><rect x="356.5" width="1.85" height="11.50" fill="#d3dde3"/><rect x="358" width="1.35" height="11.50" fill="#e6e3c2"/><rect x="359" width="2.85" height="11.50" fill="#e8e5c4"/><rect x="361.5" width="1.35" height="11.50" fill="#e6e3c2"/><rect x="362.5" width="1.35" height="11.50" fill="#d0dae0"/><rect x="363.5" width="2.35" height="11.50" fill="#e7e4c3"/><rect x="365.5" width="1.35" height="11.50" fill="#dae0dd"/><rect x="366.5" width="1.35" height="11.50" fill="#dbe1de"/><rect x="367.5" width="1.35" height="11.50" fill="#e4e1c0"/><rect x="368.5" width="1.35" height="11.50" fill="#d3dde3"/><rect x="369.5" width="2.35" height="11.50" fill="#e7e4c3"/><rect x="371.5" width="1.35" height="11.50" fill="#dbe1de"/><rect x="372.5" width="2.35" height="11.50" fill="#e9e6c5"/><rect x="374.5" width="2.85" height="11.50" fill="#e6e3c2"/><rect x="377" width="2.85" height="11.50" fill="#d4dee4"/><rect x="379.5" width="1.85" height="11.50" fill="#eae7c6"/><rect x="381" width="3.35" height="11.50" fill="#e9e6c5"/><rect x="384" width="1.35" height="11.50" fill="#cfd9df"/><rect x="385" width="1.35" height="11.50" fill="#e5e2c1"/><rect x="386" width="1.35" height="11.50" fill="#dae0dd"/><rect x="387" width="2.35" height="11.50" fill="#e7e4c3"/><rect x="389" width="1.85" height="11.50" fill="#d3dde3"/><rect x="390.5" width="1.35" height="11.50" fill="#e6e3c2"/><rect x="391.5" width="2.85" height="11.50" fill="#e7e4c3"/><rect x="394" width="2.35" height="11.50" fill="#d2dce2"/><rect x="396" width="2.35" height="11.50" fill="#d5dfe5"/><rect x="398" width="1.35" height="11.50" fill="#e6e3c2"/><rect x="399" width="2.35" height="11.50" fill="#e5e2c1"/><rect x="401" width="1.35" height="11.50" fill="#d3dde3"/><rect x="402" width="2.35" height="11.50" fill="#d2dce2"/><rect x="404" width="4.35" height="11.50" fill="#e9e6c5"/><rect x="408" width="1.35" height="11.50" fill="#d5dfe5"/><rect x="409" width="2.85" height="11.50" fill="#e7e4c3"/><rect x="411.5" width="1.35" height="11.50" fill="#e8e5c4"/><rect x="412.5" width="1.35" height="11.50" fill="#d2dce2"/><rect x="413.5" width="1.35" height="11.50" fill="#d1dbe1"/><rect x="414.5" width="1.35" height="11.50" fill="#e9e6c5"/><rect x="415.5" width="1.85" height="11.50" fill="#d3dde3"/><rect x="417" width="1.35" height="11.50" fill="#d4dee4"/><rect x="418" width="2.35" height="11.50" fill="#e7e4c3"/><rect x="420" width="1.35" height="11.50" fill="#e8e5c4"/><rect x="421" width="2.85" height="11.50" fill="#c4d3e0"/><rect x="423.5" width="0.85" height="11.50" fill="#c8d7e4"/><rect x="424" width="4.35" height="11.50" fill="#d9dfdc"/><rect x="428" width="1.35" height="11.50" fill="#dbe1de"/><rect x="429" width="1.35" height="11.50" fill="#d9dfdc"/><rect x="430" width="2.35" height="11.50" fill="#dae0dd"/><rect x="432" width="1.35" height="11.50" fill="#d9dfdc"/><rect x="433" width="2.85" height="11.50" fill="#d2dce2"/><rect x="435.5" width="1.35" height="11.50" fill="#d9dfdc"/><rect x="436.5" width="1.35" height="11.50" fill="#e7debb"/><rect x="437.5" width="1.85" height="11.50" fill="#d2dce2"/><rect x="439" width="4.35" height="11.50" fill="#dae0dd"/><rect x="443" width="0.85" height="11.50" fill="#d0dae0"/><rect x="443.5" width="1.35" height="11.50" fill="#e5c7a2"/><rect x="444.5" width="1.35" height="11.50" fill="#e7c9a4"/><rect x="445.5" width="3.35" height="11.50" fill="#e3a286"/><rect x="448.5" width="1.35" height="11.50" fill="#e4a387"/><rect x="449.5" width="3.35" height="11.50" fill="#e2a185"/><rect x="452.5" width="1.85" height="11.50" fill="#e4c6a1"/><rect x="454" width="1.85" height="11.50" fill="#e1a084"/><rect x="455.5" width="1.85" height="11.50" fill="#e6c8a3"/><rect x="457" width="1.35" height="11.50" fill="#e09f83"/><rect x="458" width="1.35" height="11.50" fill="#dc8571"/><rect x="459" width="2.35" height="11.50" fill="#d8816d"/><rect x="461" width="1.35" height="11.50" fill="#e4a387"/><rect x="462" width="3.35" height="11.50" fill="#e09f83"/><rect x="465" width="1.35" height="11.50" fill="#e5a488"/><rect x="466" width="1.85" height="11.50" fill="#e1a084"/><rect x="467.5" width="0.6" height="11.50" fill="#e5a488"/><rect x="467.75" width="1.35" height="11.50" fill="#e4a387"/><rect x="468.75" width="1.35" height="11.50" fill="#d9826e"/><rect x="469.75" width="2.35" height="11.50" fill="#da836f"/><rect x="471.75" width="2.1" height="11.50" fill="#e3a286"/><rect x="473.5" width="1.85" height="11.50" fill="#e1a084"/><rect x="475" width="3.85" height="11.50" fill="#e09f83"/><rect x="478.5" width="1.35" height="11.50" fill="#e1a084"/><rect x="479.5" width="2.35" height="11.50" fill="#e5a488"/><rect x="481.5" width="1.35" height="11.50" fill="#e2a185"/><rect x="482.5" width="1.85" height="11.50" fill="#e5a488"/><rect x="484" width="1.35" height="11.50" fill="#e9e6c5"/><rect x="485" width="1.35" height="11.50" fill="#e6e3c2"/><rect x="486" width="1.85" height="11.50" fill="#e8e5c4"/><rect x="487.5" width="2.35" height="11.50" fill="#e6e3c2"/><rect x="489.5" width="2.35" height="11.50" fill="#e8e5c4"/><rect x="491.5" width="2.85" height="11.50" fill="#e5e2c1"/><rect x="494" width="2.85" height="11.50" fill="#e8e5c4"/><rect x="496.5" width="1.85" height="11.50" fill="#e7e4c3"/><rect x="498" width="1.35" height="11.50" fill="#d2dce2"/><rect x="499" width="2.35" height="11.50" fill="#d1dbe1"/><rect x="501" width="1.85" height="11.50" fill="#dae0dd"/><rect x="502.5" width="1.85" height="11.50" fill="#d0dae0"/><rect x="504" width="1.35" height="11.50" fill="#d4dee4"/><rect x="505" width="1.85" height="11.50" fill="#dae0dd"/><rect x="506.5" width="1.35" height="11.50" fill="#d1dbe1"/><rect x="507.5" width="1.35" height="11.50" fill="#cfd9df"/><rect x="508.5" width="2.35" height="11.50" fill="#d2dce2"/><rect x="510.5" width="1.85" height="11.50" fill="#d3dde3"/><rect x="512" width="2.85" height="11.50" fill="#d2dce2"/><rect x="514.5" width="2.85" height="11.50" fill="#d4dee4"/><rect x="517" width="2.85" height="11.50" fill="#cfd9df"/><rect x="519.5" width="1.35" height="11.50" fill="#d4dee4"/><rect x="520.5" width="1.85" height="11.50" fill="#dbe1de"/><rect x="522" width="1.35" height="11.50" fill="#d3dde3"/><rect x="523" width="1.35" height="11.50" fill="#c6d5e2"/><rect x="524" width="1.35" height="11.50" fill="#c7d6e3"/><rect x="525" width="1.85" height="11.50" fill="#9cb4d1"/><rect x="526.5" width="2.85" height="11.50" fill="#9db5d2"/><rect x="529" width="1.35" height="11.50" fill="#9cb4d1"/><rect x="530" width="1.85" height="11.50" fill="#a1b9d6"/><rect x="531.5" width="2.35" height="11.50" fill="#9db5d2"/><rect x="533.5" width="0.6" height="11.50" fill="#9cb4d1"/><rect x="533.5" width="1.35" height="11.50" fill="#d0dae0"/><rect x="534.5" width="1.85" height="11.50" fill="#d2dce2"/><rect x="536" width="2.85" height="11.50" fill="#c7d6e3"/><rect x="538.5" width="1.85" height="11.50" fill="#dae0dd"/><rect x="540" width="1.35" height="11.50" fill="#d2dce2"/><rect x="541" width="1.35" height="11.50" fill="#d3dde3"/><rect x="542" width="1.35" height="11.50" fill="#d2dce2"/><rect x="543" width="2.85" height="11.50" fill="#dbe1de"/><rect x="545.5" width="1.35" height="11.50" fill="#c4d3e0"/><rect x="546.5" width="1.35" height="11.50" fill="#d0dae0"/><rect x="547.5" width="1.35" height="11.50" fill="#c7d6e3"/><rect x="548.5" width="1.35" height="11.50" fill="#c2d1de"/><rect x="549.5" width="1.35" height="11.50" fill="#d3dde3"/><rect x="550.5" width="1.35" height="11.50" fill="#c4d3e0"/><rect x="551.5" width="1.35" height="11.50" fill="#d2dce2"/><rect x="552.5" width="2.35" height="11.50" fill="#d1dbe1"/><rect x="554.5" width="1.35" height="11.50" fill="#c6d5e2"/><rect x="555.5" width="1.35" height="11.50" fill="#d3dde3"/><rect x="556.5" width="1.35" height="11.50" fill="#d9dfdc"/><rect x="557.5" width="1" height="11.50" fill="#e3a286"/></g><g transform="translate(0 74.00)"><rect x="44" width="1.35" height="11.50" fill="#e6e3c2"/><rect x="45" width="2.85" height="11.50" fill="#e8e5c4"/><rect x="47.5" width="1.35" height="11.50" fill="#dae0dd"/><rect x="48.5" width="1.35" height="11.50" fill="#dbe1de"/><rect x="49.5" width="2.35" height="11.50" fill="#e7e4c3"/><rect x="51.5" width="1.35" height="11.50" fill="#d9dfdc"/><rect x="52.5" width="1.85" height="11.50" fill="#e7e4c3"/><rect x="54" width="2.85" height="11.50" fill="#d1dbe1"/><rect x="56.5" width="1.85" height="11.50" fill="#e4e1c0"/><rect x="58" width="1.35" height="11.50" fill="#e7e4c3"/><rect x="59" width="1.35" height="11.50" fill="#e9e6c5"/><rect x="60" width="1.35" height="11.50" fill="#e8e5c4"/><rect x="61" width="1.85" height="11.50" fill="#e7e4c3"/><rect x="62.5" width="2.35" height="11.50" fill="#e8e5c4"/><rect x="64.5" width="1.35" height="11.50" fill="#e4e1c0"/><rect x="65.5" width="1.35" height="11.50" fill="#e6e3c2"/><rect x="66.5" width="1.35" height="11.50" fill="#e5e2c1"/><rect x="67.5" width="1.35" height="11.50" fill="#e6ddba"/><rect x="68.5" width="1.35" height="11.50" fill="#e7e4c3"/><rect x="69.5" width="2.85" height="11.50" fill="#d0dae0"/><rect x="72" width="2.85" height="11.50" fill="#cfd9df"/><rect x="74.5" width="1.35" height="11.50" fill="#d0dae0"/><rect x="75.5" width="1.35" height="11.50" fill="#eae7c6"/><rect x="76.5" width="1.35" height="11.50" fill="#e4e1c0"/><rect x="77.5" width="2.35" height="11.50" fill="#e8e5c4"/><rect x="79.5" width="1.35" height="11.50" fill="#e5e2c1"/><rect x="80.5" width="2.85" height="11.50" fill="#e7debb"/><rect x="83" width="2.85" height="11.50" fill="#e5e2c1"/><rect x="85.5" width="1.85" height="11.50" fill="#e6ddba"/><rect x="87" width="1.35" height="11.50" fill="#e6e3c2"/><rect x="88" width="1.35" height="11.50" fill="#d2dce2"/><rect x="89" width="2.35" height="11.50" fill="#e8e5c4"/><rect x="91" width="1.85" height="11.50" fill="#e9e6c5"/><rect x="92.5" width="2.35" height="11.50" fill="#e5dcb9"/><rect x="94.5" width="1.85" height="11.50" fill="#e8e5c4"/><rect x="96" width="2.35" height="11.50" fill="#e7debb"/><rect x="98" width="1.35" height="11.50" fill="#e6e3c2"/><rect x="99" width="3.85" height="11.50" fill="#dbe1de"/><rect x="102.5" width="2.35" height="11.50" fill="#d9dfdc"/><rect x="104.5" width="2.35" height="11.50" fill="#dae0dd"/><rect x="106.5" width="1.85" height="11.50" fill="#d9dfdc"/><rect x="108" width="1.35" height="11.50" fill="#dae0dd"/><rect x="109" width="2.35" height="11.50" fill="#d9dfdc"/><rect x="111" width="1.35" height="11.50" fill="#dae0dd"/><rect x="112" width="2.35" height="11.50" fill="#dbe1de"/><rect x="114" width="1.85" height="11.50" fill="#d0dae0"/><rect x="115.5" width="3.35" height="11.50" fill="#d9dfdc"/><rect x="118.5" width="1.35" height="11.50" fill="#d5dfe5"/><rect x="119.5" width="2.35" height="11.50" fill="#d9dfdc"/><rect x="121.5" width="1.35" height="11.50" fill="#d1dbe1"/><rect x="122.5" width="1.85" height="11.50" fill="#e4dbb8"/><rect x="124" width="2.35" height="11.50" fill="#e5dcb9"/><rect x="126" width="2.85" height="11.50" fill="#e8e5c4"/><rect x="128.5" width="2.85" height="11.50" fill="#e4dbb8"/><rect x="131" width="1.85" height="11.50" fill="#e6e3c2"/><rect x="132.5" width="1.85" height="11.50" fill="#e4e1c0"/><rect x="134" width="1.35" height="11.50" fill="#e9e6c5"/><rect x="135" width="1.85" height="11.50" fill="#e4dbb8"/><rect x="136.5" width="1.85" height="11.50" fill="#e4e1c0"/><rect x="138" width="2.35" height="11.50" fill="#e5e2c1"/><rect x="140" width="1.35" height="11.50" fill="#e6e3c2"/><rect x="141" width="1.35" height="11.50" fill="#d9dfdc"/><rect x="142" width="1.85" height="11.50" fill="#e6e3c2"/><rect x="143.5" width="1.35" height="11.50" fill="#dbe1de"/><rect x="144.5" width="1.35" height="11.50" fill="#eae7c6"/><rect x="145.5" width="1.35" height="11.50" fill="#e9e6c5"/><rect x="146.5" width="1.35" height="11.50" fill="#d9dfdc"/><rect x="147.5" width="1.85" height="11.50" fill="#e7e4c3"/><rect x="149" width="1.35" height="11.50" fill="#e5e2c1"/><rect x="150" width="1.35" height="11.50" fill="#e6e3c2"/><rect x="151" width="1.35" height="11.50" fill="#d9dfdc"/><rect x="152" width="1.85" height="11.50" fill="#e5e2c1"/><rect x="153.5" width="2.35" height="11.50" fill="#dae0dd"/><rect x="155.5" width="2.35" height="11.50" fill="#e6e3c2"/><rect x="157.5" width="2.85" height="11.50" fill="#dae0dd"/><rect x="160" width="1.35" height="11.50" fill="#e8e5c4"/><rect x="161" width="2.85" height="11.50" fill="#d9dfdc"/><rect x="163.5" width="2.35" height="11.50" fill="#dbe1de"/><rect x="165.5" width="1.35" height="11.50" fill="#e8e5c4"/><rect x="166.5" width="1.85" height="11.50" fill="#e9e6c5"/><rect x="168" width="2.85" height="11.50" fill="#d9dfdc"/><rect x="170.5" width="1.35" height="11.50" fill="#e7e4c3"/><rect x="171.5" width="1.85" height="11.50" fill="#e6e3c2"/><rect x="173" width="2.85" height="11.50" fill="#dae0dd"/><rect x="175.5" width="2.85" height="11.50" fill="#e9e6c5"/><rect x="178" width="1.85" height="11.50" fill="#dbe1de"/><rect x="179.5" width="3.85" height="11.50" fill="#dae0dd"/><rect x="183" width="1.85" height="11.50" fill="#d0dae0"/><rect x="184.5" width="2.85" height="11.50" fill="#e8d7af"/><rect x="187" width="2.35" height="11.50" fill="#e5d4ac"/><rect x="189" width="1.35" height="11.50" fill="#e4d3ab"/><rect x="190" width="1.35" height="11.50" fill="#e7d6ae"/><rect x="191" width="2.85" height="11.50" fill="#e5d4ac"/><rect x="193.5" width="2.35" height="11.50" fill="#e8d7af"/><rect x="195.5" width="2.85" height="11.50" fill="#e7debb"/><rect x="198" width="1.85" height="11.50" fill="#ead9b1"/><rect x="199.5" width="1.85" height="11.50" fill="#e7d6ae"/><rect x="201" width="2.85" height="11.50" fill="#e4d3ab"/><rect x="203.5" width="1.35" height="11.50" fill="#e7d6ae"/><rect x="204.5" width="3.85" height="11.50" fill="#e9d8b0"/><rect x="208" width="1.35" height="11.50" fill="#e5e2c1"/><rect x="209" width="3.35" height="11.50" fill="#e6d5ad"/><rect x="212" width="1.35" height="11.50" fill="#e4d3ab"/><rect x="213" width="1.85" height="11.50" fill="#e7debb"/><rect x="214.5" width="3.85" height="11.50" fill="#e5d4ac"/><rect x="218" width="2.35" height="11.50" fill="#e4d3ab"/><rect x="220" width="1.35" height="11.50" fill="#e8d7af"/><rect x="221" width="3.35" height="11.50" fill="#e7d6ae"/><rect x="224" width="1.35" height="11.50" fill="#e4e1c0"/><rect x="225" width="1.85" height="11.50" fill="#e5d4ac"/><rect x="226.5" width="1.35" height="11.50" fill="#ead9b1"/><rect x="227.5" width="1.35" height="11.50" fill="#e7d6ae"/><rect x="228.5" width="1.35" height="11.50" fill="#e8d7af"/><rect x="229.5" width="1.35" height="11.50" fill="#e4d3ab"/><rect x="230.5" width="2.85" height="11.50" fill="#e5e2c1"/><rect x="233" width="1.35" height="11.50" fill="#e8d7af"/><rect x="234" width="1.35" height="11.50" fill="#e6ddba"/><rect x="235" width="4.35" height="11.50" fill="#e5e2c1"/><rect x="239" width="1.85" height="11.50" fill="#e8caa5"/><rect x="240.5" width="1.35" height="11.50" fill="#e3dab7"/><rect x="241.5" width="2.85" height="11.50" fill="#e5e2c1"/><rect x="244" width="1.35" height="11.50" fill="#e7debb"/><rect x="245" width="1.85" height="11.50" fill="#e9d8b0"/><rect x="246.5" width="2.85" height="11.50" fill="#e6e3c2"/><rect x="249" width="1.35" height="11.50" fill="#ead9b1"/><rect x="250" width="3.85" height="11.50" fill="#e4d3ab"/><rect x="253.5" width="2.85" height="11.50" fill="#e7debb"/><rect x="256" width="1.35" height="11.50" fill="#e6e3c2"/><rect x="257" width="1.85" height="11.50" fill="#eacca7"/><rect x="258.5" width="1.35" height="11.50" fill="#e9cba6"/><rect x="259.5" width="1.35" height="11.50" fill="#e4c6a1"/><rect x="260.5" width="0.85" height="11.50" fill="#e5c7a2"/><rect x="261" width="2.35" height="11.50" fill="#e4dbb8"/><rect x="263" width="1.35" height="11.50" fill="#e4d3ab"/><rect x="264" width="1.35" height="11.50" fill="#e8d7af"/><rect x="265" width="6.35" height="11.50" fill="#e7d6ae"/><rect x="271" width="1.35" height="11.50" fill="#e8d7af"/><rect x="272" width="1.35" height="11.50" fill="#e9d8b0"/><rect x="273" width="4.85" height="11.50" fill="#e7d6ae"/><rect x="277.5" width="3.35" height="11.50" fill="#e6ddba"/><rect x="280.5" width="0.85" height="11.50" fill="#e6d5ad"/><rect x="281" width="1.85" height="11.50" fill="#e8e5c4"/><rect x="282.5" width="1.35" height="11.50" fill="#e3dab7"/><rect x="283.5" width="1.85" height="11.50" fill="#e9e6c5"/><rect x="285" width="1.35" height="11.50" fill="#e3dab7"/><rect x="286" width="1.35" height="11.50" fill="#e7e4c3"/><rect x="287" width="2.35" height="11.50" fill="#e5e2c1"/><rect x="289" width="1.35" height="11.50" fill="#e5dcb9"/><rect x="290" width="2.85" height="11.50" fill="#e7e4c3"/><rect x="292.5" width="1.35" height="11.50" fill="#e5e2c1"/><rect x="293.5" width="1.35" height="11.50" fill="#e4dbb8"/><rect x="294.5" width="1.85" height="11.50" fill="#e6e3c2"/><rect x="296" width="1.35" height="11.50" fill="#dbe1de"/><rect x="297" width="3.35" height="11.50" fill="#d9dfdc"/><rect x="300" width="3.35" height="11.50" fill="#dae0dd"/><rect x="303" width="1.85" height="11.50" fill="#e7e4c3"/><rect x="304.5" width="1.35" height="11.50" fill="#e6e3c2"/><rect x="305.5" width="2.35" height="11.50" fill="#e4e1c0"/><rect x="307.5" width="1.35" height="11.50" fill="#e7e4c3"/><rect x="308.5" width="2.85" height="11.50" fill="#e9e6c5"/><rect x="311" width="1.35" height="11.50" fill="#e4e1c0"/><rect x="312" width="2.35" height="11.50" fill="#e6e3c2"/><rect x="314" width="1.85" height="11.50" fill="#e4e1c0"/><rect x="315.5" width="1.35" height="11.50" fill="#e8e5c4"/><rect x="316.5" width="1.35" height="11.50" fill="#e5e2c1"/><rect x="317.5" width="1.35" height="11.50" fill="#e9e6c5"/><rect x="318.5" width="2.35" height="11.50" fill="#d3dde3"/><rect x="320.5" width="3.85" height="11.50" fill="#d9dfdc"/><rect x="324" width="1.35" height="11.50" fill="#dbe1de"/><rect x="325" width="2.85" height="11.50" fill="#d3dde3"/><rect x="327.5" width="0.85" height="11.50" fill="#d1dbe1"/><rect x="328" width="1.35" height="11.50" fill="#d0dae0"/><rect x="329" width="1.85" height="11.50" fill="#e4dbb8"/><rect x="330.5" width="1.35" height="11.50" fill="#e5e2c1"/><rect x="331.5" width="1.35" height="11.50" fill="#e9e6c5"/><rect x="332.5" width="2.35" height="11.50" fill="#e6e3c2"/><rect x="334.5" width="2.35" height="11.50" fill="#e8e5c4"/><rect x="336.5" width="2.85" height="11.50" fill="#e9e6c5"/><rect x="339" width="1.35" height="11.50" fill="#e4e1c0"/><rect x="340" width="2.35" height="11.50" fill="#e4dbb8"/><rect x="342" width="1.35" height="11.50" fill="#e6e3c2"/><rect x="343" width="1.35" height="11.50" fill="#e4dbb8"/><rect x="344" width="1.35" height="11.50" fill="#e5e2c1"/><rect x="345" width="2.35" height="11.50" fill="#e3dab7"/><rect x="347" width="2.85" height="11.50" fill="#e6ddba"/><rect x="349.5" width="2.35" height="11.50" fill="#e9e6c5"/><rect x="351.5" width="3.35" height="11.50" fill="#e5e2c1"/><rect x="354.5" width="1.35" height="11.50" fill="#e8e5c4"/><rect x="355.5" width="1.35" height="11.50" fill="#e4e1c0"/><rect x="356.5" width="1.35" height="11.50" fill="#e5dcb9"/><rect x="357.5" width="1.35" height="11.50" fill="#e9e6c5"/><rect x="358.5" width="1.35" height="11.50" fill="#d1dbe1"/><rect x="359.5" width="1.85" height="11.50" fill="#e9e6c5"/><rect x="361" width="1.35" height="11.50" fill="#e4e1c0"/><rect x="362" width="2.35" height="11.50" fill="#e9e6c5"/><rect x="364" width="1.35" height="11.50" fill="#e6e3c2"/><rect x="365" width="2.85" height="11.50" fill="#e7e4c3"/><rect x="367.5" width="1.35" height="11.50" fill="#d5dfe5"/><rect x="368.5" width="1.35" height="11.50" fill="#e6e3c2"/><rect x="369.5" width="2.35" height="11.50" fill="#d3dde3"/><rect x="371.5" width="2.35" height="11.50" fill="#e6e3c2"/><rect x="373.5" width="1.35" height="11.50" fill="#e7e4c3"/><rect x="374.5" width="1.35" height="11.50" fill="#e6e3c2"/><rect x="375.5" width="2.35" height="11.50" fill="#e5e2c1"/><rect x="377.5" width="2.35" height="11.50" fill="#eae7c6"/><rect x="379.5" width="1.35" height="11.50" fill="#e4dbb8"/><rect x="380.5" width="1.85" height="11.50" fill="#e4e1c0"/><rect x="382" width="1.35" height="11.50" fill="#d3dde3"/><rect x="383" width="2.35" height="11.50" fill="#e6e3c2"/><rect x="385" width="1.35" height="11.50" fill="#e4e1c0"/><rect x="386" width="1.35" height="11.50" fill="#eae7c6"/><rect x="387" width="1.35" height="11.50" fill="#e7e4c3"/><rect x="388" width="1.35" height="11.50" fill="#d1dbe1"/><rect x="389" width="1.35" height="11.50" fill="#e7e4c3"/><rect x="390" width="1.35" height="11.50" fill="#e8e5c4"/><rect x="391" width="1.35" height="11.50" fill="#e5e2c1"/><rect x="392" width="1.85" height="11.50" fill="#d3dde3"/><rect x="393.5" width="2.35" height="11.50" fill="#d0dae0"/><rect x="395.5" width="2.35" height="11.50" fill="#e6e3c2"/><rect x="397.5" width="1.85" height="11.50" fill="#e9e6c5"/><rect x="399" width="1.35" height="11.50" fill="#cfd9df"/><rect x="400" width="1.35" height="11.50" fill="#e5e2c1"/><rect x="401" width="1.35" height="11.50" fill="#d1dbe1"/><rect x="402" width="1.35" height="11.50" fill="#d3dde3"/><rect x="403" width="1.35" height="11.50" fill="#e8e5c4"/><rect x="404" width="1.35" height="11.50" fill="#d5dfe5"/><rect x="405" width="1.35" height="11.50" fill="#d2dce2"/><rect x="406" width="2.35" height="11.50" fill="#e7e4c3"/><rect x="408" width="1.35" height="11.50" fill="#d4dee4"/><rect x="409" width="1.35" height="11.50" fill="#e5e2c1"/><rect x="410" width="1.85" height="11.50" fill="#e8e5c4"/><rect x="411.5" width="2.85" height="11.50" fill="#d1dbe1"/><rect x="414" width="1.35" height="11.50" fill="#e8e5c4"/><rect x="415" width="1.35" height="11.50" fill="#e5e2c1"/><rect x="416" width="1.35" height="11.50" fill="#e6e3c2"/><rect x="417" width="2.85" height="11.50" fill="#e9e6c5"/><rect x="419.5" width="1.85" height="11.50" fill="#cfd9df"/><rect x="421" width="1.35" height="11.50" fill="#c4d3e0"/><rect x="422" width="2.35" height="11.50" fill="#c6d5e2"/><rect x="424" width="2.85" height="11.50" fill="#d9dfdc"/><rect x="426.5" width="4.85" height="11.50" fill="#dae0dd"/><rect x="431" width="2.35" height="11.50" fill="#dbe1de"/><rect x="433" width="2.85" height="11.50" fill="#d9dfdc"/><rect x="435.5" width="1.35" height="11.50" fill="#e5dcb9"/><rect x="436.5" width="2.35" height="11.50" fill="#dae0dd"/><rect x="438.5" width="2.85" height="11.50" fill="#e9e0bd"/><rect x="441" width="1.35" height="11.50" fill="#d9dfdc"/><rect x="442" width="1.35" height="11.50" fill="#d1dbe1"/><rect x="443" width="0.85" height="11.50" fill="#dae0dd"/><rect x="443.5" width="1.85" height="11.50" fill="#e4c6a1"/><rect x="445" width="1.35" height="11.50" fill="#e4a387"/><rect x="446" width="1.35" height="11.50" fill="#e9cba6"/><rect x="447" width="1.85" height="11.50" fill="#df9e82"/><rect x="448.5" width="1.85" height="11.50" fill="#e2a185"/><rect x="450" width="3.35" height="11.50" fill="#e7c9a4"/><rect x="453" width="1.35" height="11.50" fill="#e5a488"/><rect x="454" width="1.35" height="11.50" fill="#e5c7a2"/><rect x="455" width="1.35" height="11.50" fill="#e3a286"/><rect x="456" width="2.35" height="11.50" fill="#e8caa5"/><rect x="458" width="2.85" height="11.50" fill="#e3a286"/><rect x="460.5" width="1.85" height="11.50" fill="#d7806c"/><rect x="462" width="1.35" height="11.50" fill="#e1a084"/><rect x="463" width="1.35" height="11.50" fill="#e2a185"/><rect x="464" width="1.35" height="11.50" fill="#e1a084"/><rect x="465" width="1.85" height="11.50" fill="#df9e82"/><rect x="466.5" width="2.6" height="11.50" fill="#e1a084"/><rect x="468.75" width="1.35" height="11.50" fill="#dc8571"/><rect x="469.75" width="1.35" height="11.50" fill="#da836f"/><rect x="470.75" width="2.85" height="11.50" fill="#e1a084"/><rect x="473.25" width="0.6" height="11.50" fill="#db8470"/><rect x="473.5" width="1.35" height="11.50" fill="#e4a387"/><rect x="474.5" width="2.85" height="11.50" fill="#e2a185"/><rect x="477" width="2.35" height="11.50" fill="#e5a488"/><rect x="479" width="1.35" height="11.50" fill="#e1a084"/><rect x="480" width="3.85" height="11.50" fill="#e4a387"/><rect x="483.5" width="0.85" height="11.50" fill="#e1a084"/><rect x="484" width="4.35" height="11.50" fill="#e8e5c4"/><rect x="488" width="1.35" height="11.50" fill="#e9e6c5"/><rect x="489" width="2.35" height="11.50" fill="#e8e5c4"/><rect x="491" width="1.35" height="11.50" fill="#e9e6c5"/><rect x="492" width="4.35" height="11.50" fill="#e5e2c1"/><rect x="496" width="1.35" height="11.50" fill="#e8e5c4"/><rect x="497" width="1.35" height="11.50" fill="#e4e1c0"/><rect x="498" width="2.35" height="11.50" fill="#dae0dd"/><rect x="500" width="2.35" height="11.50" fill="#d0dae0"/><rect x="502" width="1.35" height="11.50" fill="#c5d4e1"/><rect x="503" width="2.85" height="11.50" fill="#dae0dd"/><rect x="505.5" width="1.35" height="11.50" fill="#d3dde3"/><rect x="506.5" width="1.35" height="11.50" fill="#dae0dd"/><rect x="507.5" width="1.35" height="11.50" fill="#d4dee4"/><rect x="508.5" width="2.85" height="11.50" fill="#d1dbe1"/><rect x="511" width="1.35" height="11.50" fill="#dae0dd"/><rect x="512" width="1.85" height="11.50" fill="#d0dae0"/><rect x="513.5" width="1.35" height="11.50" fill="#d9dfdc"/><rect x="514.5" width="2.85" height="11.50" fill="#d1dbe1"/><rect x="517" width="1.35" height="11.50" fill="#c3d2df"/><rect x="518" width="1.35" height="11.50" fill="#d3dde3"/><rect x="519" width="1.85" height="11.50" fill="#d4dee4"/><rect x="520.5" width="1.35" height="11.50" fill="#d1dbe1"/><rect x="521.5" width="2.85" height="11.50" fill="#cfd9df"/><rect x="524" width="1.35" height="11.50" fill="#d1dbe1"/><rect x="525" width="2.35" height="11.50" fill="#a0b8d5"/><rect x="527" width="1.35" height="11.50" fill="#c4d3e0"/><rect x="528" width="1.35" height="11.50" fill="#9bb3d0"/><rect x="529" width="1.85" height="11.50" fill="#c7d6e3"/><rect x="530.5" width="1.35" height="11.50" fill="#a0b8d5"/><rect x="531.5" width="2.35" height="11.50" fill="#9bb3d0"/><rect x="533.5" width="0.6" height="11.50" fill="#a0b8d5"/><rect x="533.5" width="2.85" height="11.50" fill="#d0dae0"/><rect x="536" width="1.35" height="11.50" fill="#dae0dd"/><rect x="537" width="2.35" height="11.50" fill="#dbe1de"/><rect x="539" width="1.85" height="11.50" fill="#c6d5e2"/><rect x="540.5" width="1.35" height="11.50" fill="#d0dae0"/><rect x="541.5" width="1.85" height="11.50" fill="#d4dee4"/><rect x="543" width="1.85" height="11.50" fill="#c8d7e4"/><rect x="544.5" width="2.35" height="11.50" fill="#d0dae0"/><rect x="546.5" width="2.35" height="11.50" fill="#d2dce2"/><rect x="548.5" width="2.35" height="11.50" fill="#c6d5e2"/><rect x="550.5" width="1.85" height="11.50" fill="#c3d2df"/><rect x="552" width="2.35" height="11.50" fill="#d1dbe1"/><rect x="554" width="2.85" height="11.50" fill="#d0dae0"/><rect x="556.5" width="1.35" height="11.50" fill="#c6d5e2"/><rect x="557.5" width="1" height="11.50" fill="#e1a084"/></g><g transform="translate(0 85.50)"><rect x="44" width="1.35" height="11.80" fill="#d9dfdc"/><rect x="45" width="1.35" height="11.80" fill="#c3d2df"/><rect x="46" width="1.35" height="11.80" fill="#c6d5e2"/><rect x="47" width="3.35" height="11.80" fill="#c5d4e1"/><rect x="50" width="1.35" height="11.80" fill="#c4d3e0"/><rect x="51" width="1.85" height="11.80" fill="#d1dbe1"/><rect x="52.5" width="1.35" height="11.80" fill="#c7d6e3"/><rect x="53.5" width="1.85" height="11.80" fill="#d1dbe1"/><rect x="55" width="2.35" height="11.80" fill="#d3dde3"/><rect x="57" width="3.35" height="11.80" fill="#c4d3e0"/><rect x="60" width="1.35" height="11.80" fill="#d2dce2"/><rect x="61" width="1.35" height="11.80" fill="#c4d3e0"/><rect x="62" width="1.35" height="11.80" fill="#c3d2df"/><rect x="63" width="1.85" height="11.80" fill="#d4dee4"/><rect x="64.5" width="1.35" height="11.80" fill="#c8d7e4"/><rect x="65.5" width="1.35" height="11.80" fill="#d3dde3"/><rect x="66.5" width="2.85" height="11.80" fill="#c5d4e1"/><rect x="69" width="2.85" height="11.80" fill="#d5dfe5"/><rect x="71.5" width="2.85" height="11.80" fill="#d1dbe1"/><rect x="74" width="1.35" height="11.80" fill="#e9e6c5"/><rect x="75" width="1.35" height="11.80" fill="#d9dfdc"/><rect x="76" width="3.35" height="11.80" fill="#e9e6c5"/><rect x="79" width="1.35" height="11.80" fill="#dbe1de"/><rect x="80" width="1.85" height="11.80" fill="#e5e2c1"/><rect x="81.5" width="1.35" height="11.80" fill="#dae0dd"/><rect x="82.5" width="1.35" height="11.80" fill="#d9dfdc"/><rect x="83.5" width="2.85" height="11.80" fill="#dbe1de"/><rect x="86" width="1.35" height="11.80" fill="#e9e6c5"/><rect x="87" width="3.35" height="11.80" fill="#d9dfdc"/><rect x="90" width="1.85" height="11.80" fill="#dbe1de"/><rect x="91.5" width="1.35" height="11.80" fill="#d9dfdc"/><rect x="92.5" width="1.35" height="11.80" fill="#dbe1de"/><rect x="93.5" width="2.35" height="11.80" fill="#dae0dd"/><rect x="95.5" width="0.85" height="11.80" fill="#e9e6c5"/><rect x="96" width="1.85" height="11.80" fill="#c5d4e1"/><rect x="97.5" width="0.85" height="11.80" fill="#c4d3e0"/><rect x="98" width="1.35" height="11.80" fill="#d9dfdc"/><rect x="99" width="1.85" height="11.80" fill="#e7e4c3"/><rect x="100.5" width="1.85" height="11.80" fill="#dbe1de"/><rect x="102" width="1.35" height="11.80" fill="#e6e3c2"/><rect x="103" width="1.35" height="11.80" fill="#dbe1de"/><rect x="104" width="1.35" height="11.80" fill="#d9dfdc"/><rect x="105" width="3.35" height="11.80" fill="#e7e4c3"/><rect x="108" width="2.85" height="11.80" fill="#d9dfdc"/><rect x="110.5" width="1.35" height="11.80" fill="#dae0dd"/><rect x="111.5" width="1.35" height="11.80" fill="#dbe1de"/><rect x="112.5" width="4.35" height="11.80" fill="#d9dfdc"/><rect x="116.5" width="1.35" height="11.80" fill="#dae0dd"/><rect x="117.5" width="1.85" height="11.80" fill="#dbe1de"/><rect x="119" width="2.85" height="11.80" fill="#dae0dd"/><rect x="121.5" width="1.85" height="11.80" fill="#dbe1de"/><rect x="123" width="2.35" height="11.80" fill="#d9dfdc"/><rect x="125" width="1.35" height="11.80" fill="#dbe1de"/><rect x="126" width="2.35" height="11.80" fill="#d9dfdc"/><rect x="128" width="2.85" height="11.80" fill="#e5e2c1"/><rect x="130.5" width="1.35" height="11.80" fill="#d9dfdc"/><rect x="131.5" width="1.35" height="11.80" fill="#dbe1de"/><rect x="132.5" width="2.85" height="11.80" fill="#d1dbe1"/><rect x="135" width="2.85" height="11.80" fill="#dbe1de"/><rect x="137.5" width="2.35" height="11.80" fill="#d4dee4"/><rect x="139.5" width="4.85" height="11.80" fill="#d1dbe1"/><rect x="144" width="1.35" height="11.80" fill="#e9e6c5"/><rect x="145" width="1.35" height="11.80" fill="#dae0dd"/><rect x="146" width="1.85" height="11.80" fill="#d9dfdc"/><rect x="147.5" width="1.35" height="11.80" fill="#e7e4c3"/><rect x="148.5" width="2.85" height="11.80" fill="#d9dfdc"/><rect x="151" width="1.35" height="11.80" fill="#dbe1de"/><rect x="152" width="1.35" height="11.80" fill="#dae0dd"/><rect x="153" width="1.85" height="11.80" fill="#eae7c6"/><rect x="154.5" width="2.35" height="11.80" fill="#dbe1de"/><rect x="156.5" width="2.35" height="11.80" fill="#dae0dd"/><rect x="158.5" width="1.35" height="11.80" fill="#d9dfdc"/><rect x="159.5" width="0.85" height="11.80" fill="#dae0dd"/><rect x="160" width="1.85" height="11.80" fill="#c7d6e3"/><rect x="161.5" width="2.35" height="11.80" fill="#d0dae0"/><rect x="163.5" width="1.85" height="11.80" fill="#d4dee4"/><rect x="165" width="1.85" height="11.80" fill="#c4d3e0"/><rect x="166.5" width="1.35" height="11.80" fill="#d4dee4"/><rect x="167.5" width="1.35" height="11.80" fill="#c8d7e4"/><rect x="168.5" width="2.35" height="11.80" fill="#c2d1de"/><rect x="170.5" width="1.35" height="11.80" fill="#c5d4e1"/><rect x="171.5" width="1.85" height="11.80" fill="#c6d5e2"/><rect x="173" width="1.35" height="11.80" fill="#c7d6e3"/><rect x="174" width="1.35" height="11.80" fill="#c3d2df"/><rect x="175" width="1.35" height="11.80" fill="#c6d5e2"/><rect x="176" width="1.35" height="11.80" fill="#c4d3e0"/><rect x="177" width="2.85" height="11.80" fill="#c5d4e1"/><rect x="179.5" width="1.85" height="11.80" fill="#c6d5e2"/><rect x="181" width="1.85" height="11.80" fill="#c8d7e4"/><rect x="182.5" width="1.35" height="11.80" fill="#c6d5e2"/><rect x="183.5" width="1.35" height="11.80" fill="#c3d2df"/><rect x="184.5" width="5.35" height="11.80" fill="#c7d6e3"/><rect x="189.5" width="2.85" height="11.80" fill="#c2d1de"/><rect x="192" width="1.35" height="11.80" fill="#d0dae0"/><rect x="193" width="2.35" height="11.80" fill="#c7d6e3"/><rect x="195" width="1.85" height="11.80" fill="#e7e4c3"/><rect x="196.5" width="1.35" height="11.80" fill="#e4e1c0"/><rect x="197.5" width="1.35" height="11.80" fill="#dbe1de"/><rect x="198.5" width="1.35" height="11.80" fill="#e8e5c4"/><rect x="199.5" width="2.35" height="11.80" fill="#e6e3c2"/><rect x="201.5" width="1.85" height="11.80" fill="#dbe1de"/><rect x="203" width="1.35" height="11.80" fill="#e8e5c4"/><rect x="204" width="2.85" height="11.80" fill="#e9e6c5"/><rect x="206.5" width="2.85" height="11.80" fill="#d9dfdc"/><rect x="209" width="1.35" height="11.80" fill="#e7e4c3"/><rect x="210" width="1.35" height="11.80" fill="#eae7c6"/><rect x="211" width="1.35" height="11.80" fill="#e8e5c4"/><rect x="212" width="1.35" height="11.80" fill="#e6e3c2"/><rect x="213" width="2.35" height="11.80" fill="#e9e6c5"/><rect x="215" width="1.35" height="11.80" fill="#dae0dd"/><rect x="216" width="1.35" height="11.80" fill="#e8e5c4"/><rect x="217" width="2.85" height="11.80" fill="#e9e6c5"/><rect x="219.5" width="1.35" height="11.80" fill="#e6e3c2"/><rect x="220.5" width="3.85" height="11.80" fill="#dae0dd"/><rect x="224" width="1.35" height="11.80" fill="#e8e5c4"/><rect x="225" width="1.35" height="11.80" fill="#e6e3c2"/><rect x="226" width="1.35" height="11.80" fill="#e9e6c5"/><rect x="227" width="2.85" height="11.80" fill="#d9dfdc"/><rect x="229.5" width="1.35" height="11.80" fill="#dbe1de"/><rect x="230.5" width="1.85" height="11.80" fill="#dae0dd"/><rect x="232" width="1.35" height="11.80" fill="#dbe1de"/><rect x="233" width="1.35" height="11.80" fill="#e4e1c0"/><rect x="234" width="2.85" height="11.80" fill="#dae0dd"/><rect x="236.5" width="1.85" height="11.80" fill="#e9e6c5"/><rect x="238" width="1.85" height="11.80" fill="#e5e2c1"/><rect x="239.5" width="1.35" height="11.80" fill="#e9e6c5"/><rect x="240.5" width="1.35" height="11.80" fill="#e4e1c0"/><rect x="241.5" width="1.85" height="11.80" fill="#e5e2c1"/><rect x="243" width="1.35" height="11.80" fill="#eae7c6"/><rect x="244" width="3.85" height="11.80" fill="#d3dde3"/><rect x="247.5" width="0.85" height="11.80" fill="#d2dce2"/><rect x="248" width="1.35" height="11.80" fill="#e7e4c3"/><rect x="249" width="1.85" height="11.80" fill="#e6e3c2"/><rect x="250.5" width="2.85" height="11.80" fill="#e5e2c1"/><rect x="253" width="1.35" height="11.80" fill="#eae7c6"/><rect x="254" width="1.35" height="11.80" fill="#e8e5c4"/><rect x="255" width="1.35" height="11.80" fill="#d1dbe1"/><rect x="256" width="1.35" height="11.80" fill="#d3dde3"/><rect x="257" width="1.35" height="11.80" fill="#d2dce2"/><rect x="258" width="1.35" height="11.80" fill="#d0dae0"/><rect x="259" width="1.85" height="11.80" fill="#e5e2c1"/><rect x="260.5" width="2.35" height="11.80" fill="#e4e1c0"/><rect x="262.5" width="2.35" height="11.80" fill="#e7e4c3"/><rect x="264.5" width="1.35" height="11.80" fill="#e8e5c4"/><rect x="265.5" width="1.35" height="11.80" fill="#e6e3c2"/><rect x="266.5" width="0.85" height="11.80" fill="#d9dfdc"/><rect x="267" width="1.35" height="11.80" fill="#e7e4c3"/><rect x="268" width="1.35" height="11.80" fill="#e6e3c2"/><rect x="269" width="1.35" height="11.80" fill="#eae7c6"/><rect x="270" width="1.35" height="11.80" fill="#e8e5c4"/><rect x="271" width="2.85" height="11.80" fill="#e7e4c3"/><rect x="273.5" width="2.85" height="11.80" fill="#e5e2c1"/><rect x="276" width="6.85" height="11.80" fill="#e8e5c4"/><rect x="282.5" width="1.35" height="11.80" fill="#e5e2c1"/><rect x="283.5" width="1.35" height="11.80" fill="#eae7c6"/><rect x="284.5" width="1.35" height="11.80" fill="#e5e2c1"/><rect x="285.5" width="1.35" height="11.80" fill="#e9e6c5"/><rect x="286.5" width="1.35" height="11.80" fill="#eae7c6"/><rect x="287.5" width="1.35" height="11.80" fill="#e5e2c1"/><rect x="288.5" width="2.35" height="11.80" fill="#e4e1c0"/><rect x="290.5" width="1.35" height="11.80" fill="#e9e6c5"/><rect x="291.5" width="1.35" height="11.80" fill="#e6e3c2"/><rect x="292.5" width="0.85" height="11.80" fill="#e9e6c5"/><rect x="293" width="1.85" height="11.80" fill="#df9e82"/><rect x="294.5" width="2.85" height="11.80" fill="#e2a185"/><rect x="297" width="1.35" height="11.80" fill="#e4a387"/><rect x="298" width="1.85" height="11.80" fill="#e7c9a4"/><rect x="299.5" width="0.85" height="11.80" fill="#e5a488"/><rect x="300" width="3.35" height="11.80" fill="#dbe1de"/><rect x="303" width="1.35" height="11.80" fill="#e4e1c0"/><rect x="304" width="2.35" height="11.80" fill="#e5e2c1"/><rect x="306" width="2.35" height="11.80" fill="#e8e5c4"/><rect x="308" width="2.35" height="11.80" fill="#e5e2c1"/><rect x="310" width="1.35" height="11.80" fill="#eae7c6"/><rect x="311" width="1.85" height="11.80" fill="#e5e2c1"/><rect x="312.5" width="1.35" height="11.80" fill="#e7e4c3"/><rect x="313.5" width="1.35" height="11.80" fill="#e8e5c4"/><rect x="314.5" width="1.35" height="11.80" fill="#e6e3c2"/><rect x="315.5" width="1.35" height="11.80" fill="#e7e4c3"/><rect x="316.5" width="1.85" height="11.80" fill="#eae7c6"/><rect x="318" width="0.85" height="11.80" fill="#e5e2c1"/><rect x="318.5" width="1.35" height="11.80" fill="#e9cba6"/><rect x="319.5" width="2.85" height="11.80" fill="#e8caa5"/><rect x="322" width="0.6" height="11.80" fill="#e7c9a4"/><rect x="322" width="1.35" height="11.80" fill="#e5e2c1"/><rect x="323" width="2.35" height="11.80" fill="#e8e5c4"/><rect x="325" width="1.35" height="11.80" fill="#e4e1c0"/><rect x="326" width="2.35" height="11.80" fill="#e6e3c2"/><rect x="328" width="1.35" height="11.80" fill="#eae7c6"/><rect x="329" width="1.35" height="11.80" fill="#e7debb"/><rect x="330" width="1.35" height="11.80" fill="#e6e3c2"/><rect x="331" width="1.35" height="11.80" fill="#e7debb"/><rect x="332" width="1.85" height="11.80" fill="#e7e4c3"/><rect x="333.5" width="2.85" height="11.80" fill="#e9e0bd"/><rect x="336" width="1.35" height="11.80" fill="#e9e6c5"/><rect x="337" width="1.35" height="11.80" fill="#e8e5c4"/><rect x="338" width="1.35" height="11.80" fill="#e5e2c1"/><rect x="339" width="2.85" height="11.80" fill="#e8dfbc"/><rect x="341.5" width="2.35" height="11.80" fill="#e4e1c0"/><rect x="343.5" width="2.35" height="11.80" fill="#e7e4c3"/><rect x="345.5" width="2.35" height="11.80" fill="#e7c9a4"/><rect x="347.5" width="1.85" height="11.80" fill="#e5a488"/><rect x="349" width="1.35" height="11.80" fill="#e6c8a3"/><rect x="350" width="1.85" height="11.80" fill="#e1a084"/><rect x="351.5" width="1.35" height="11.80" fill="#e5c7a2"/><rect x="352.5" width="2.35" height="11.80" fill="#e2a185"/><rect x="354.5" width="0.85" height="11.80" fill="#e5a488"/><rect x="355" width="1.85" height="11.80" fill="#e9e0bd"/><rect x="356.5" width="2.85" height="11.80" fill="#e8dfbc"/><rect x="359" width="1.35" height="11.80" fill="#e9e6c5"/><rect x="360" width="4.35" height="11.80" fill="#e5dcb9"/><rect x="364" width="1.35" height="11.80" fill="#e6ddba"/><rect x="365" width="1.35" height="11.80" fill="#e7e4c3"/><rect x="366" width="1.85" height="11.80" fill="#e8dfbc"/><rect x="367.5" width="1.85" height="11.80" fill="#e3dab7"/><rect x="369" width="2.35" height="11.80" fill="#e4dbb8"/><rect x="371" width="1.35" height="11.80" fill="#e8dfbc"/><rect x="372" width="2.85" height="11.80" fill="#e6ddba"/><rect x="374.5" width="1.35" height="11.80" fill="#e9e0bd"/><rect x="375.5" width="1.35" height="11.80" fill="#e6ddba"/><rect x="376.5" width="1.35" height="11.80" fill="#e5e2c1"/><rect x="377.5" width="1.35" height="11.80" fill="#e3dab7"/><rect x="378.5" width="1.35" height="11.80" fill="#e4e1c0"/><rect x="379.5" width="3.35" height="11.80" fill="#e8dfbc"/><rect x="382.5" width="1.35" height="11.80" fill="#e5e2c1"/><rect x="383.5" width="1.35" height="11.80" fill="#e4dbb8"/><rect x="384.5" width="1.35" height="11.80" fill="#e7e4c3"/><rect x="385.5" width="1.35" height="11.80" fill="#e4dbb8"/><rect x="386.5" width="0.85" height="11.80" fill="#e7e4c3"/><rect x="387" width="5.35" height="11.80" fill="#dbe1de"/><rect x="392" width="2.35" height="11.80" fill="#dae0dd"/><rect x="394" width="2.35" height="11.80" fill="#d9dfdc"/><rect x="396" width="1.35" height="11.80" fill="#dae0dd"/><rect x="397" width="1.85" height="11.80" fill="#d9dfdc"/><rect x="398.5" width="2.35" height="11.80" fill="#dbe1de"/><rect x="400.5" width="4.85" height="11.80" fill="#d9dfdc"/><rect x="405" width="1.85" height="11.80" fill="#dae0dd"/><rect x="406.5" width="1.35" height="11.80" fill="#e9e6c5"/><rect x="407.5" width="1.35" height="11.80" fill="#e7e4c3"/><rect x="408.5" width="2.85" height="11.80" fill="#e9e6c5"/><rect x="411" width="2.85" height="11.80" fill="#e8e5c4"/><rect x="413.5" width="1.85" height="11.80" fill="#e5e2c1"/><rect x="415" width="1.35" height="11.80" fill="#e9e6c5"/><rect x="416" width="2.35" height="11.80" fill="#e7e4c3"/><rect x="418" width="1.35" height="11.80" fill="#eae7c6"/><rect x="419" width="1.85" height="11.80" fill="#e5e2c1"/><rect x="420.5" width="0.85" height="11.80" fill="#e6e3c2"/><rect x="421" width="1.85" height="11.80" fill="#e2a185"/><rect x="422.5" width="1.35" height="11.80" fill="#e4a387"/><rect x="423.5" width="0.85" height="11.80" fill="#df9e82"/><rect x="424" width="2.35" height="11.80" fill="#dae0dd"/><rect x="426" width="1.85" height="11.80" fill="#d9dfdc"/><rect x="427.5" width="2.85" height="11.80" fill="#d3dde3"/><rect x="430" width="2.35" height="11.80" fill="#d9dfdc"/><rect x="432" width="1.35" height="11.80" fill="#cfd9df"/><rect x="433" width="1.35" height="11.80" fill="#e4e1c0"/><rect x="434" width="1.35" height="11.80" fill="#e5e2c1"/><rect x="435" width="4.35" height="11.80" fill="#e7e4c3"/><rect x="439" width="1.35" height="11.80" fill="#e7c9a4"/><rect x="440" width="1.35" height="11.80" fill="#d9dfdc"/><rect x="441" width="1.35" height="11.80" fill="#e8caa5"/><rect x="442" width="2.85" height="11.80" fill="#dbe1de"/><rect x="444.5" width="1.35" height="11.80" fill="#d1dbe1"/><rect x="445.5" width="1.35" height="11.80" fill="#dbe1de"/><rect x="446.5" width="1.85" height="11.80" fill="#d2dce2"/><rect x="448" width="1.35" height="11.80" fill="#d4dee4"/><rect x="449" width="2.85" height="11.80" fill="#d3dde3"/><rect x="451.5" width="0.85" height="11.80" fill="#d5dfe5"/><rect x="452" width="1.35" height="11.80" fill="#eae7c6"/><rect x="453" width="2.85" height="11.80" fill="#e6e3c2"/><rect x="455.5" width="1.35" height="11.80" fill="#e4e1c0"/><rect x="456.5" width="1.35" height="11.80" fill="#e8e5c4"/><rect x="457.5" width="1.35" height="11.80" fill="#e6e3c2"/><rect x="458.5" width="2.85" height="11.80" fill="#e5e2c1"/><rect x="461" width="1.35" height="11.80" fill="#e6e3c2"/><rect x="462" width="1.35" height="11.80" fill="#d3dde3"/><rect x="463" width="1.35" height="11.80" fill="#dbe1de"/><rect x="464" width="3.35" height="11.80" fill="#d2dce2"/><rect x="467" width="3.35" height="11.80" fill="#dbe1de"/><rect x="470" width="1.35" height="11.80" fill="#cfd9df"/><rect x="471" width="2.35" height="11.80" fill="#d1dbe1"/><rect x="473" width="1.35" height="11.80" fill="#cfd9df"/><rect x="474" width="2.35" height="11.80" fill="#d5dfe5"/><rect x="476" width="3.35" height="11.80" fill="#dbe1de"/><rect x="479" width="1.35" height="11.80" fill="#d9dfdc"/><rect x="480" width="1.35" height="11.80" fill="#d0dae0"/><rect x="481" width="1.35" height="11.80" fill="#dae0dd"/><rect x="482" width="2.35" height="11.80" fill="#dbe1de"/><rect x="484" width="1.35" height="11.80" fill="#e3a286"/><rect x="485" width="2.85" height="11.80" fill="#e5a488"/><rect x="487.5" width="1.35" height="11.80" fill="#e4a387"/><rect x="488.5" width="1.35" height="11.80" fill="#e09f83"/><rect x="489.5" width="2.85" height="11.80" fill="#e2a185"/><rect x="492" width="1.35" height="11.80" fill="#e09f83"/><rect x="493" width="1.85" height="11.80" fill="#dc8571"/><rect x="494.5" width="2.35" height="11.80" fill="#d7806c"/><rect x="496.5" width="1.35" height="11.80" fill="#e8caa5"/><rect x="497.5" width="2.85" height="11.80" fill="#e8dfbc"/><rect x="500" width="2.85" height="11.80" fill="#e5dcb9"/><rect x="502.5" width="1.35" height="11.80" fill="#e6c8a3"/><rect x="503.5" width="1.35" height="11.80" fill="#e8dfbc"/><rect x="504.5" width="1.35" height="11.80" fill="#e8caa5"/><rect x="505.5" width="1.85" height="11.80" fill="#e8dfbc"/><rect x="507" width="1.35" height="11.80" fill="#e5c7a2"/><rect x="508" width="2.85" height="11.80" fill="#e8dfbc"/><rect x="510.5" width="1.85" height="11.80" fill="#e5dcb9"/><rect x="512" width="2.85" height="11.80" fill="#e6ddba"/><rect x="514.5" width="3.85" height="11.80" fill="#e3dab7"/><rect x="518" width="1.35" height="11.80" fill="#e7debb"/><rect x="519" width="1.85" height="11.80" fill="#e3dab7"/><rect x="520.5" width="1.35" height="11.80" fill="#e4dbb8"/><rect x="521.5" width="1.35" height="11.80" fill="#e6ddba"/><rect x="522.5" width="1.35" height="11.80" fill="#eacca7"/><rect x="523.5" width="1.85" height="11.80" fill="#e7debb"/><rect x="525" width="1.35" height="11.80" fill="#e4a387"/><rect x="526" width="1.35" height="11.80" fill="#e1a084"/><rect x="527" width="1.35" height="11.80" fill="#e3a286"/><rect x="528" width="1.35" height="11.80" fill="#e1a084"/><rect x="529" width="1.85" height="11.80" fill="#e6ddba"/><rect x="530.5" width="2.35" height="11.80" fill="#e9cba6"/><rect x="532.5" width="2.85" height="11.80" fill="#e4dbb8"/><rect x="535" width="1.85" height="11.80" fill="#e8dfbc"/><rect x="536.5" width="1.85" height="11.80" fill="#e5dcb9"/><rect x="538" width="1.35" height="11.80" fill="#e4dbb8"/><rect x="539" width="1.35" height="11.80" fill="#e9cba6"/><rect x="540" width="1.35" height="11.80" fill="#e3dab7"/><rect x="541" width="1.85" height="11.80" fill="#e7c9a4"/><rect x="542.5" width="1.35" height="11.80" fill="#e8dfbc"/><rect x="543.5" width="2.35" height="11.80" fill="#e9cba6"/><rect x="545.5" width="1.85" height="11.80" fill="#e8caa5"/><rect x="547" width="0.85" height="11.80" fill="#e4dbb8"/><rect x="547.5" width="1.35" height="11.80" fill="#da836f"/><rect x="548.5" width="1.35" height="11.80" fill="#d9826e"/><rect x="549.5" width="1.35" height="11.80" fill="#dbe1de"/><rect x="550.5" width="2.85" height="11.80" fill="#dae0dd"/><rect x="553" width="2.85" height="11.80" fill="#dbe1de"/><rect x="555.5" width="2.35" height="11.80" fill="#d9dfdc"/><rect x="557.5" width="1" height="11.80" fill="#db8470"/></g><g transform="translate(0 97.30)"><rect x="44" width="1.35" height="11.10" fill="#d9dfdc"/><rect x="45" width="1.35" height="11.10" fill="#c5d4e1"/><rect x="46" width="1.35" height="11.10" fill="#c7d6e3"/><rect x="47" width="2.35" height="11.10" fill="#c6d5e2"/><rect x="49" width="1.35" height="11.10" fill="#c5d4e1"/><rect x="50" width="1.85" height="11.10" fill="#c2d1de"/><rect x="51.5" width="1.35" height="11.10" fill="#c3d2df"/><rect x="52.5" width="1.85" height="11.10" fill="#d1dbe1"/><rect x="54" width="1.85" height="11.10" fill="#d2dce2"/><rect x="55.5" width="2.85" height="11.10" fill="#c5d4e1"/><rect x="58" width="1.85" height="11.10" fill="#c6d5e2"/><rect x="59.5" width="1.35" height="11.10" fill="#c3d2df"/><rect x="60.5" width="1.85" height="11.10" fill="#d4dee4"/><rect x="62" width="1.85" height="11.10" fill="#c7d6e3"/><rect x="63.5" width="2.35" height="11.10" fill="#c4d3e0"/><rect x="65.5" width="1.35" height="11.10" fill="#c2d1de"/><rect x="66.5" width="2.85" height="11.10" fill="#c8d7e4"/><rect x="69" width="2.85" height="11.10" fill="#d2dce2"/><rect x="71.5" width="2.35" height="11.10" fill="#c3d2df"/><rect x="73.5" width="0.85" height="11.10" fill="#9fb7d4"/><rect x="74" width="1.35" height="11.10" fill="#dae0dd"/><rect x="75" width="1.35" height="11.10" fill="#e8e5c4"/><rect x="76" width="1.35" height="11.10" fill="#dae0dd"/><rect x="77" width="1.35" height="11.10" fill="#d9dfdc"/><rect x="78" width="2.85" height="11.10" fill="#dbe1de"/><rect x="80.5" width="2.85" height="11.10" fill="#e9e6c5"/><rect x="83" width="1.35" height="11.10" fill="#d9dfdc"/><rect x="84" width="1.35" height="11.10" fill="#e7e4c3"/><rect x="85" width="2.35" height="11.10" fill="#dae0dd"/><rect x="87" width="2.85" height="11.10" fill="#e7e4c3"/><rect x="89.5" width="1.85" height="11.10" fill="#eae7c6"/><rect x="91" width="2.85" height="11.10" fill="#e8e5c4"/><rect x="93.5" width="1.35" height="11.10" fill="#d9dfdc"/><rect x="94.5" width="1.85" height="11.10" fill="#dae0dd"/><rect x="96" width="1.35" height="11.10" fill="#c8d7e4"/><rect x="97" width="2.35" height="11.10" fill="#c6d5e2"/><rect x="99" width="2.85" height="11.10" fill="#dae0dd"/><rect x="101.5" width="1.35" height="11.10" fill="#e5e2c1"/><rect x="102.5" width="1.35" height="11.10" fill="#eae7c6"/><rect x="103.5" width="2.85" height="11.10" fill="#d9dfdc"/><rect x="106" width="2.35" height="11.10" fill="#e8e5c4"/><rect x="108" width="1.35" height="11.10" fill="#d9dfdc"/><rect x="109" width="2.35" height="11.10" fill="#d2dce2"/><rect x="111" width="1.35" height="11.10" fill="#dbe1de"/><rect x="112" width="2.35" height="11.10" fill="#dae0dd"/><rect x="114" width="2.85" height="11.10" fill="#dbe1de"/><rect x="116.5" width="3.85" height="11.10" fill="#d9dfdc"/><rect x="120" width="2.35" height="11.10" fill="#d3dde3"/><rect x="122" width="1.35" height="11.10" fill="#dae0dd"/><rect x="123" width="1.35" height="11.10" fill="#dbe1de"/><rect x="124" width="2.85" height="11.10" fill="#dae0dd"/><rect x="126.5" width="1.85" height="11.10" fill="#e6e3c2"/><rect x="128" width="2.35" height="11.10" fill="#d9dfdc"/><rect x="130" width="1.35" height="11.10" fill="#e9e6c5"/><rect x="131" width="2.35" height="11.10" fill="#d9dfdc"/><rect x="133" width="1.85" height="11.10" fill="#cfd9df"/><rect x="134.5" width="1.35" height="11.10" fill="#d4dee4"/><rect x="135.5" width="1.85" height="11.10" fill="#d9dfdc"/><rect x="137" width="1.85" height="11.10" fill="#dbe1de"/><rect x="138.5" width="1.35" height="11.10" fill="#d9dfdc"/><rect x="139.5" width="1.35" height="11.10" fill="#dbe1de"/><rect x="140.5" width="1.35" height="11.10" fill="#d4dee4"/><rect x="141.5" width="3.35" height="11.10" fill="#d9dfdc"/><rect x="144.5" width="1.35" height="11.10" fill="#dbe1de"/><rect x="145.5" width="1.35" height="11.10" fill="#d9dfdc"/><rect x="146.5" width="1.35" height="11.10" fill="#dbe1de"/><rect x="147.5" width="1.35" height="11.10" fill="#e4e1c0"/><rect x="148.5" width="1.35" height="11.10" fill="#dae0dd"/><rect x="149.5" width="1.35" height="11.10" fill="#dbe1de"/><rect x="150.5" width="2.85" height="11.10" fill="#dae0dd"/><rect x="153" width="1.35" height="11.10" fill="#d9dfdc"/><rect x="154" width="1.85" height="11.10" fill="#e7e4c3"/><rect x="155.5" width="1.85" height="11.10" fill="#dae0dd"/><rect x="157" width="2.85" height="11.10" fill="#d0dae0"/><rect x="159.5" width="0.85" height="11.10" fill="#eae7c6"/><rect x="160" width="2.35" height="11.10" fill="#d0dae0"/><rect x="162" width="1.35" height="11.10" fill="#d3dde3"/><rect x="163" width="1.35" height="11.10" fill="#c3d2df"/><rect x="164" width="1.35" height="11.10" fill="#d1dbe1"/><rect x="165" width="1.35" height="11.10" fill="#c8d7e4"/><rect x="166" width="1.85" height="11.10" fill="#c7d6e3"/><rect x="167.5" width="1.85" height="11.10" fill="#d5dfe5"/><rect x="169" width="2.85" height="11.10" fill="#d4dee4"/><rect x="171.5" width="2.85" height="11.10" fill="#c5d4e1"/><rect x="174" width="2.35" height="11.10" fill="#c8d7e4"/><rect x="176" width="1.35" height="11.10" fill="#c7d6e3"/><rect x="177" width="1.35" height="11.10" fill="#d2dce2"/><rect x="178" width="1.85" height="11.10" fill="#d0dae0"/><rect x="179.5" width="1.35" height="11.10" fill="#d2dce2"/><rect x="180.5" width="2.85" height="11.10" fill="#c6d5e2"/><rect x="183" width="2.85" height="11.10" fill="#c7d6e3"/><rect x="185.5" width="2.35" height="11.10" fill="#c4d3e0"/><rect x="187.5" width="1.35" height="11.10" fill="#c6d5e2"/><rect x="188.5" width="1.35" height="11.10" fill="#c7d6e3"/><rect x="189.5" width="1.35" height="11.10" fill="#cfd9df"/><rect x="190.5" width="1.35" height="11.10" fill="#d4dee4"/><rect x="191.5" width="2.85" height="11.10" fill="#cfd9df"/><rect x="194" width="1.35" height="11.10" fill="#d5dfe5"/><rect x="195" width="2.85" height="11.10" fill="#e7e4c3"/><rect x="197.5" width="3.85" height="11.10" fill="#dae0dd"/><rect x="201" width="1.35" height="11.10" fill="#eae7c6"/><rect x="202" width="1.35" height="11.10" fill="#e7debb"/><rect x="203" width="2.35" height="11.10" fill="#e9e6c5"/><rect x="205" width="1.35" height="11.10" fill="#e7debb"/><rect x="206" width="2.35" height="11.10" fill="#dae0dd"/><rect x="208" width="3.35" height="11.10" fill="#e5e2c1"/><rect x="211" width="2.85" height="11.10" fill="#e6e3c2"/><rect x="213.5" width="2.85" height="11.10" fill="#e9e6c5"/><rect x="216" width="2.35" height="11.10" fill="#eae7c6"/><rect x="218" width="1.35" height="11.10" fill="#e8e5c4"/><rect x="219" width="1.35" height="11.10" fill="#eae7c6"/><rect x="220" width="1.35" height="11.10" fill="#e7e4c3"/><rect x="221" width="1.85" height="11.10" fill="#dae0dd"/><rect x="222.5" width="1.35" height="11.10" fill="#e8e5c4"/><rect x="223.5" width="2.35" height="11.10" fill="#eae7c6"/><rect x="225.5" width="1.35" height="11.10" fill="#e6e3c2"/><rect x="226.5" width="1.35" height="11.10" fill="#e9e6c5"/><rect x="227.5" width="2.35" height="11.10" fill="#e5e2c1"/><rect x="229.5" width="1.85" height="11.10" fill="#e6e3c2"/><rect x="231" width="1.35" height="11.10" fill="#e4e1c0"/><rect x="232" width="2.35" height="11.10" fill="#e7e4c3"/><rect x="234" width="1.35" height="11.10" fill="#d9dfdc"/><rect x="235" width="2.35" height="11.10" fill="#e7debb"/><rect x="237" width="1.35" height="11.10" fill="#e8dfbc"/><rect x="238" width="2.85" height="11.10" fill="#e7e4c3"/><rect x="240.5" width="2.85" height="11.10" fill="#dbe1de"/><rect x="243" width="1.35" height="11.10" fill="#e7e4c3"/><rect x="244" width="1.35" height="11.10" fill="#e9e6c5"/><rect x="245" width="2.85" height="11.10" fill="#d2dce2"/><rect x="247.5" width="1.35" height="11.10" fill="#e6e3c2"/><rect x="248.5" width="4.35" height="11.10" fill="#e8e5c4"/><rect x="252.5" width="1.35" height="11.10" fill="#dae0dd"/><rect x="253.5" width="3.35" height="11.10" fill="#e7e4c3"/><rect x="256.5" width="1.85" height="11.10" fill="#d1dbe1"/><rect x="258" width="2.85" height="11.10" fill="#d9dfdc"/><rect x="260.5" width="2.85" height="11.10" fill="#dae0dd"/><rect x="263" width="3.35" height="11.10" fill="#e9e6c5"/><rect x="266" width="1.35" height="11.10" fill="#e4e1c0"/><rect x="267" width="1.35" height="11.10" fill="#e4dbb8"/><rect x="268" width="1.35" height="11.10" fill="#e8e5c4"/><rect x="269" width="1.35" height="11.10" fill="#e4dbb8"/><rect x="270" width="1.85" height="11.10" fill="#e6e3c2"/><rect x="271.5" width="2.85" height="11.10" fill="#e6ddba"/><rect x="274" width="1.85" height="11.10" fill="#e9e0bd"/><rect x="275.5" width="1.85" height="11.10" fill="#eae7c6"/><rect x="277" width="2.35" height="11.10" fill="#e9e6c5"/><rect x="279" width="1.85" height="11.10" fill="#e7debb"/><rect x="280.5" width="1.85" height="11.10" fill="#e7e4c3"/><rect x="282" width="4.35" height="11.10" fill="#e6ddba"/><rect x="286" width="2.35" height="11.10" fill="#e5dcb9"/><rect x="288" width="1.35" height="11.10" fill="#eae7c6"/><rect x="289" width="1.35" height="11.10" fill="#e6ddba"/><rect x="290" width="1.35" height="11.10" fill="#e8e5c4"/><rect x="291" width="2.35" height="11.10" fill="#e6e3c2"/><rect x="293" width="3.85" height="11.10" fill="#e09f83"/><rect x="296.5" width="1.35" height="11.10" fill="#eacca7"/><rect x="297.5" width="0.85" height="11.10" fill="#e8caa5"/><rect x="298" width="2.35" height="11.10" fill="#e7e4c3"/><rect x="300" width="1.85" height="11.10" fill="#e9e6c5"/><rect x="301.5" width="1.35" height="11.10" fill="#e5e2c1"/><rect x="302.5" width="1.35" height="11.10" fill="#e8e5c4"/><rect x="303.5" width="2.35" height="11.10" fill="#e5e2c1"/><rect x="305.5" width="2.35" height="11.10" fill="#e7e4c3"/><rect x="307.5" width="1.35" height="11.10" fill="#e8e5c4"/><rect x="308.5" width="1.85" height="11.10" fill="#e7e4c3"/><rect x="310" width="2.85" height="11.10" fill="#e6e3c2"/><rect x="312.5" width="2.85" height="11.10" fill="#dbe1de"/><rect x="315" width="1.35" height="11.10" fill="#e7e4c3"/><rect x="316" width="1.35" height="11.10" fill="#dae0dd"/><rect x="317" width="1.35" height="11.10" fill="#e6e3c2"/><rect x="318" width="0.85" height="11.10" fill="#e5e2c1"/><rect x="318.5" width="1.85" height="11.10" fill="#e8caa5"/><rect x="320" width="1.35" height="11.10" fill="#eacca7"/><rect x="321" width="2.85" height="11.10" fill="#e8caa5"/><rect x="323.5" width="1.1" height="11.10" fill="#e7c9a4"/><rect x="324.25" width="1.35" height="11.10" fill="#e9e6c5"/><rect x="325.25" width="1.85" height="11.10" fill="#e4dbb8"/><rect x="326.75" width="2.85" height="11.10" fill="#e5e2c1"/><rect x="329.25" width="2.35" height="11.10" fill="#e7debb"/><rect x="331.25" width="1.85" height="11.10" fill="#e5e2c1"/><rect x="332.75" width="4.35" height="11.10" fill="#e8e5c4"/><rect x="336.75" width="2.85" height="11.10" fill="#e4dbb8"/><rect x="339.25" width="1.85" height="11.10" fill="#e5dcb9"/><rect x="340.75" width="2.85" height="11.10" fill="#e8e5c4"/><rect x="343.25" width="1.35" height="11.10" fill="#e6e3c2"/><rect x="344.25" width="0.6" height="11.10" fill="#e7e4c3"/><rect x="344.5" width="1.85" height="11.10" fill="#e7c9a4"/><rect x="346" width="1.35" height="11.10" fill="#e4c6a1"/><rect x="347" width="1.35" height="11.10" fill="#e4a387"/><rect x="348" width="1.35" height="11.10" fill="#e6c8a3"/><rect x="349" width="2.35" height="11.10" fill="#e09f83"/><rect x="351" width="1.85" height="11.10" fill="#e3a286"/><rect x="352.5" width="2.35" height="11.10" fill="#e5c7a2"/><rect x="354.5" width="0.85" height="11.10" fill="#df9e82"/><rect x="355" width="1.35" height="11.10" fill="#e5c7a2"/><rect x="356" width="5.35" height="11.10" fill="#e7debb"/><rect x="361" width="2.35" height="11.10" fill="#e7c9a4"/><rect x="363" width="2.85" height="11.10" fill="#e5dcb9"/><rect x="365.5" width="1.85" height="11.10" fill="#e6ddba"/><rect x="367" width="1.35" height="11.10" fill="#e3dab7"/><rect x="368" width="2.85" height="11.10" fill="#e8dfbc"/><rect x="370.5" width="1.35" height="11.10" fill="#e5dcb9"/><rect x="371.5" width="1.35" height="11.10" fill="#e9e0bd"/><rect x="372.5" width="1.35" height="11.10" fill="#e5c7a2"/><rect x="373.5" width="1.35" height="11.10" fill="#e8dfbc"/><rect x="374.5" width="1.35" height="11.10" fill="#e6ddba"/><rect x="375.5" width="1.85" height="11.10" fill="#e9e6c5"/><rect x="377" width="2.35" height="11.10" fill="#e6ddba"/><rect x="379" width="1.35" height="11.10" fill="#e4dbb8"/><rect x="380" width="1.85" height="11.10" fill="#e7e4c3"/><rect x="381.5" width="1.35" height="11.10" fill="#e5dcb9"/><rect x="382.5" width="1.35" height="11.10" fill="#e7c9a4"/><rect x="383.5" width="2.35" height="11.10" fill="#e7e4c3"/><rect x="385.5" width="1.35" height="11.10" fill="#e8dfbc"/><rect x="386.5" width="1.35" height="11.10" fill="#e9cba6"/><rect x="387.5" width="1.35" height="11.10" fill="#e6ddba"/><rect x="388.5" width="1.85" height="11.10" fill="#e9cba6"/><rect x="390" width="1.85" height="11.10" fill="#e3dab7"/><rect x="391.5" width="2.85" height="11.10" fill="#e8dfbc"/><rect x="394" width="2.85" height="11.10" fill="#e9cba6"/><rect x="396.5" width="1.35" height="11.10" fill="#e8e5c4"/><rect x="397.5" width="1.35" height="11.10" fill="#e3dab7"/><rect x="398.5" width="1.35" height="11.10" fill="#e7c9a4"/><rect x="399.5" width="1.35" height="11.10" fill="#e7debb"/><rect x="400.5" width="2.85" height="11.10" fill="#e6e3c2"/><rect x="403" width="1.35" height="11.10" fill="#e7debb"/><rect x="404" width="1.35" height="11.10" fill="#e6ddba"/><rect x="405" width="0.85" height="11.10" fill="#e6e3c2"/><rect x="405.5" width="1.35" height="11.10" fill="#9db5d2"/><rect x="406.5" width="4.85" height="11.10" fill="#e4e1c0"/><rect x="411" width="3.35" height="11.10" fill="#e6e3c2"/><rect x="414" width="1.35" height="11.10" fill="#e9e6c5"/><rect x="415" width="1.35" height="11.10" fill="#e6e3c2"/><rect x="416" width="2.85" height="11.10" fill="#e4e1c0"/><rect x="418.5" width="1.35" height="11.10" fill="#e4dbb8"/><rect x="419.5" width="1.35" height="11.10" fill="#e8dfbc"/><rect x="420.5" width="1.35" height="11.10" fill="#e9e0bd"/><rect x="421.5" width="2.35" height="11.10" fill="#e7e4c3"/><rect x="423.5" width="0.85" height="11.10" fill="#e5e2c1"/><rect x="424" width="1.35" height="11.10" fill="#c7d6e3"/><rect x="425" width="1.35" height="11.10" fill="#c4d3e0"/><rect x="426" width="1.85" height="11.10" fill="#e8caa5"/><rect x="427.5" width="1.85" height="11.10" fill="#eae7c6"/><rect x="429" width="1.85" height="11.10" fill="#e6c8a3"/><rect x="430.5" width="1.85" height="11.10" fill="#e6e3c2"/><rect x="432" width="1.35" height="11.10" fill="#e6c8a3"/><rect x="433" width="3.35" height="11.10" fill="#e7e4c3"/><rect x="436" width="1.35" height="11.10" fill="#eae7c6"/><rect x="437" width="2.85" height="11.10" fill="#e9e6c5"/><rect x="439.5" width="1.35" height="11.10" fill="#e4e1c0"/><rect x="440.5" width="1.35" height="11.10" fill="#eae7c6"/><rect x="441.5" width="2.35" height="11.10" fill="#e6e3c2"/><rect x="443.5" width="1.85" height="11.10" fill="#e3dab7"/><rect x="445" width="1.35" height="11.10" fill="#e6c8a3"/><rect x="446" width="1.85" height="11.10" fill="#eae7c6"/><rect x="447.5" width="2.85" height="11.10" fill="#e5c7a2"/><rect x="450" width="1.35" height="11.10" fill="#d9dfdc"/><rect x="451" width="2.85" height="11.10" fill="#dae0dd"/><rect x="453.5" width="1.35" height="11.10" fill="#dbe1de"/><rect x="454.5" width="1.85" height="11.10" fill="#d9dfdc"/><rect x="456" width="2.35" height="11.10" fill="#dae0dd"/><rect x="458" width="1.35" height="11.10" fill="#e8e5c4"/><rect x="459" width="1.35" height="11.10" fill="#eacca7"/><rect x="460" width="2.85" height="11.10" fill="#e9cba6"/><rect x="462.5" width="1.85" height="11.10" fill="#e4e1c0"/><rect x="464" width="1.35" height="11.10" fill="#e8e5c4"/><rect x="465" width="1.35" height="11.10" fill="#e5e2c1"/><rect x="466" width="1.35" height="11.10" fill="#e4e1c0"/><rect x="467" width="2.35" height="11.10" fill="#e8e5c4"/><rect x="469" width="0.85" height="11.10" fill="#e9e6c5"/><rect x="469.5" width="3.35" height="11.10" fill="#dae0dd"/><rect x="472.5" width="1.35" height="11.10" fill="#d1dbe1"/><rect x="473.5" width="1.35" height="11.10" fill="#dbe1de"/><rect x="474.5" width="1.85" height="11.10" fill="#d4dee4"/><rect x="476" width="5.35" height="11.10" fill="#dae0dd"/><rect x="481" width="1.35" height="11.10" fill="#d9dfdc"/><rect x="482" width="2.35" height="11.10" fill="#dbe1de"/><rect x="484" width="2.35" height="11.10" fill="#e3a286"/><rect x="486" width="2.35" height="11.10" fill="#e09f83"/><rect x="488" width="2.35" height="11.10" fill="#e2a185"/><rect x="490" width="2.35" height="11.10" fill="#e5a488"/><rect x="492" width="2.85" height="11.10" fill="#d8816d"/><rect x="494.5" width="2.35" height="11.10" fill="#d9826e"/><rect x="496.5" width="1.35" height="11.10" fill="#e7debb"/><rect x="497.5" width="1.35" height="11.10" fill="#e3dab7"/><rect x="498.5" width="1.35" height="11.10" fill="#e7c9a4"/><rect x="499.5" width="1.35" height="11.10" fill="#e5dcb9"/><rect x="500.5" width="2.85" height="11.10" fill="#e7c9a4"/><rect x="503" width="2.35" height="11.10" fill="#e8caa5"/><rect x="505" width="2.35" height="11.10" fill="#e7c9a4"/><rect x="507" width="1.35" height="11.10" fill="#e6ddba"/><rect x="508" width="1.35" height="11.10" fill="#e8caa5"/><rect x="509" width="2.35" height="11.10" fill="#e4dbb8"/><rect x="511" width="2.85" height="11.10" fill="#e5c7a2"/><rect x="513.5" width="1.35" height="11.10" fill="#e8dfbc"/><rect x="514.5" width="1.35" height="11.10" fill="#e8caa5"/><rect x="515.5" width="1.35" height="11.10" fill="#e5dcb9"/><rect x="516.5" width="1.35" height="11.10" fill="#e7debb"/><rect x="517.5" width="2.85" height="11.10" fill="#e6c8a3"/><rect x="520" width="1.85" height="11.10" fill="#e6ddba"/><rect x="521.5" width="1.35" height="11.10" fill="#e9e0bd"/><rect x="522.5" width="1.85" height="11.10" fill="#e7c9a4"/><rect x="524" width="1.35" height="11.10" fill="#e5dcb9"/><rect x="525" width="2.85" height="11.10" fill="#e4a387"/><rect x="527.5" width="1.85" height="11.10" fill="#e3a286"/><rect x="529" width="1.35" height="11.10" fill="#e2a185"/><rect x="530" width="2.85" height="11.10" fill="#e1a084"/><rect x="532.5" width="2.35" height="11.10" fill="#e6ddba"/><rect x="534.5" width="1.85" height="11.10" fill="#e9e0bd"/><rect x="536" width="1.85" height="11.10" fill="#e8dfbc"/><rect x="537.5" width="2.85" height="11.10" fill="#dbe1de"/><rect x="540" width="2.35" height="11.10" fill="#e8e5c4"/><rect x="542" width="2.85" height="11.10" fill="#d9dfdc"/><rect x="544.5" width="1.35" height="11.10" fill="#dae0dd"/><rect x="545.5" width="1.35" height="11.10" fill="#dbe1de"/><rect x="546.5" width="0.6" height="11.10" fill="#d9dfdc"/><rect x="546.75" width="1.85" height="11.10" fill="#d8816d"/><rect x="548.25" width="1.85" height="11.10" fill="#d9dfdc"/><rect x="549.75" width="1.6" height="11.10" fill="#db8470"/><rect x="551" width="3.35" height="11.10" fill="#d9dfdc"/><rect x="554" width="3.85" height="11.10" fill="#dae0dd"/><rect x="557.5" width="0.6" height="11.10" fill="#d9dfdc"/><rect x="557.5" width="1" height="11.10" fill="#dc8571"/></g><g transform="translate(0 108.40)"><rect x="44" width="1.85" height="34.50" fill="#cfcfd7"/><rect x="45.5" width="0.6" height="34.50" fill="#cacad2"/><rect x="45.5" width="2.35" height="34.50" fill="#e3deb5"/><rect x="47.5" width="2.35" height="34.50" fill="#e4dfb6"/><rect x="49.5" width="3.85" height="34.50" fill="#e2ddb4"/><rect x="53" width="2.35" height="34.50" fill="#e4dfb6"/><rect x="55" width="1.85" height="34.50" fill="#e2ddb4"/><rect x="56.5" width="4.35" height="34.50" fill="#e3deb5"/><rect x="60.5" width="1.85" height="34.50" fill="#e2ddb4"/><rect x="62" width="3.35" height="34.50" fill="#e4dfb6"/><rect x="65" width="2.35" height="34.50" fill="#e3deb5"/><rect x="67" width="5.85" height="34.50" fill="#e2ddb4"/><rect x="72.5" width="0.85" height="34.50" fill="#e3deb5"/><rect x="73" width="1.6" height="34.50" fill="#d2dce2"/><rect x="74.25" width="3.35" height="34.50" fill="#e2ddb4"/><rect x="77.25" width="2.35" height="34.50" fill="#e4dfb6"/><rect x="79.25" width="1.35" height="34.50" fill="#e3deb5"/><rect x="80.25" width="3.35" height="34.50" fill="#e2ddb4"/><rect x="83.25" width="1.35" height="34.50" fill="#e4dfb6"/><rect x="84.25" width="10.35" height="34.50" fill="#e3deb5"/><rect x="94.25" width="1.35" height="34.50" fill="#e4dfb6"/><rect x="95.25" width="2.35" height="34.50" fill="#e3deb5"/><rect x="97.25" width="8.85" height="34.50" fill="#e4dfb6"/><rect x="105.75" width="2.85" height="34.50" fill="#e2ddb4"/><rect x="108.25" width="1.35" height="34.50" fill="#e3deb5"/><rect x="109.25" width="9.35" height="34.50" fill="#e4dfb6"/><rect x="118.25" width="1.85" height="34.50" fill="#e3deb5"/><rect x="119.75" width="1.85" height="34.50" fill="#e2ddb4"/><rect x="121.25" width="6.85" height="34.50" fill="#e4dfb6"/><rect x="127.75" width="5.35" height="34.50" fill="#e2ddb4"/><rect x="132.75" width="3.35" height="34.50" fill="#e3deb5"/><rect x="135.75" width="3.85" height="34.50" fill="#e4dfb6"/><rect x="139.25" width="2.85" height="34.50" fill="#e3deb5"/><rect x="141.75" width="1.85" height="34.50" fill="#e2ddb4"/><rect x="143.25" width="1.35" height="34.50" fill="#e3deb5"/><rect x="144.25" width="4.85" height="34.50" fill="#e2ddb4"/><rect x="148.75" width="2.85" height="34.50" fill="#e3deb5"/><rect x="151.25" width="3.85" height="34.50" fill="#e2ddb4"/><rect x="154.75" width="3.85" height="34.50" fill="#e3deb5"/><rect x="158.25" width="1.35" height="34.50" fill="#e4dfb6"/><rect x="159.25" width="1.35" height="34.50" fill="#e2ddb4"/><rect x="160.25" width="1.35" height="34.50" fill="#e4dfb6"/><rect x="161.25" width="1.35" height="34.50" fill="#e3deb5"/><rect x="162.25" width="3.35" height="34.50" fill="#e2ddb4"/><rect x="165.25" width="2.35" height="34.50" fill="#e4dfb6"/><rect x="167.25" width="2.85" height="34.50" fill="#e2ddb4"/><rect x="169.75" width="1.35" height="34.50" fill="#e4dfb6"/><rect x="170.75" width="1.35" height="34.50" fill="#e2ddb4"/><rect x="171.75" width="3.85" height="34.50" fill="#e4dfb6"/><rect x="175.25" width="1.35" height="34.50" fill="#e2ddb4"/><rect x="176.25" width="1.35" height="34.50" fill="#e3deb5"/><rect x="177.25" width="3.35" height="34.50" fill="#e2ddb4"/><rect x="180.25" width="1.35" height="34.50" fill="#e4dfb6"/><rect x="181.25" width="1.35" height="34.50" fill="#e2ddb4"/><rect x="182.25" width="1.35" height="34.50" fill="#e3deb5"/><rect x="183.25" width="2.35" height="34.50" fill="#e2ddb4"/><rect x="185.25" width="1.85" height="34.50" fill="#e3deb5"/><rect x="186.75" width="1.35" height="34.50" fill="#e4dfb6"/><rect x="187.75" width="2.85" height="34.50" fill="#e2ddb4"/><rect x="190.25" width="1.35" height="34.50" fill="#e3deb5"/><rect x="191.25" width="2.85" height="34.50" fill="#e2ddb4"/><rect x="193.75" width="1.35" height="34.50" fill="#e3deb5"/><rect x="194.75" width="1.35" height="34.50" fill="#e2ddb4"/><rect x="195.75" width="1.35" height="34.50" fill="#e3deb5"/><rect x="196.75" width="1.35" height="34.50" fill="#e4dfb6"/><rect x="197.75" width="1.35" height="34.50" fill="#e3deb5"/><rect x="198.75" width="2.35" height="34.50" fill="#e4dfb6"/><rect x="200.75" width="3.35" height="34.50" fill="#e2ddb4"/><rect x="203.75" width="2.85" height="34.50" fill="#e4dfb6"/><rect x="206.25" width="4.85" height="34.50" fill="#e2ddb4"/><rect x="210.75" width="1.35" height="34.50" fill="#e4dfb6"/><rect x="211.75" width="1.35" height="34.50" fill="#e3deb5"/><rect x="212.75" width="1.35" height="34.50" fill="#e2ddb4"/><rect x="213.75" width="1.35" height="34.50" fill="#e3deb5"/><rect x="214.75" width="3.35" height="34.50" fill="#e4dfb6"/><rect x="217.75" width="2.35" height="34.50" fill="#e2ddb4"/><rect x="219.75" width="2.85" height="34.50" fill="#e3deb5"/><rect x="222.25" width="1.35" height="34.50" fill="#e4dfb6"/><rect x="223.25" width="1.1" height="34.50" fill="#e2ddb4"/><rect x="224" width="1.35" height="34.50" fill="#d5dfe5"/><rect x="225" width="2.35" height="34.50" fill="#d3dde3"/><rect x="227" width="1.35" height="34.50" fill="#e3deb5"/><rect x="228" width="2.85" height="34.50" fill="#e4dfb6"/><rect x="230.5" width="1.85" height="34.50" fill="#e2ddb4"/><rect x="232" width="3.35" height="34.50" fill="#e3deb5"/><rect x="235" width="1.35" height="34.50" fill="#e4dfb6"/><rect x="236" width="1.85" height="34.50" fill="#e2ddb4"/><rect x="237.5" width="2.35" height="34.50" fill="#e3deb5"/><rect x="239.5" width="2.85" height="34.50" fill="#e4dfb6"/><rect x="242" width="1.85" height="34.50" fill="#e2ddb4"/><rect x="243.5" width="1.35" height="34.50" fill="#e4dfb6"/><rect x="244.5" width="1.35" height="34.50" fill="#e2ddb4"/><rect x="245.5" width="2.35" height="34.50" fill="#e4dfb6"/><rect x="247.5" width="3.35" height="34.50" fill="#e2ddb4"/><rect x="250.5" width="2.35" height="34.50" fill="#e4dfb6"/><rect x="252.5" width="1.85" height="34.50" fill="#e3deb5"/><rect x="254" width="1.85" height="34.50" fill="#e4dfb6"/><rect x="255.5" width="1.35" height="34.50" fill="#e3deb5"/><rect x="256.5" width="1.35" height="34.50" fill="#e4dfb6"/><rect x="257.5" width="1.85" height="34.50" fill="#e3deb5"/><rect x="259" width="1.35" height="34.50" fill="#e2ddb4"/><rect x="260" width="3.35" height="34.50" fill="#e4dfb6"/><rect x="263" width="3.35" height="34.50" fill="#e2ddb4"/><rect x="266" width="2.85" height="34.50" fill="#e3deb5"/><rect x="268.5" width="2.35" height="34.50" fill="#e2ddb4"/><rect x="270.5" width="2.85" height="34.50" fill="#e3deb5"/><rect x="273" width="2.85" height="34.50" fill="#e2ddb4"/><rect x="275.5" width="4.85" height="34.50" fill="#e4dfb6"/><rect x="280" width="2.85" height="34.50" fill="#e2ddb4"/><rect x="282.5" width="1.35" height="34.50" fill="#e4dfb6"/><rect x="283.5" width="4.35" height="34.50" fill="#e3deb5"/><rect x="287.5" width="2.35" height="34.50" fill="#e2ddb4"/><rect x="289.5" width="1.35" height="34.50" fill="#e4dfb6"/><rect x="290.5" width="4.85" height="34.50" fill="#e3deb5"/><rect x="295" width="1.85" height="34.50" fill="#e4dfb6"/><rect x="296.5" width="3.85" height="34.50" fill="#e3deb5"/><rect x="300" width="2.35" height="34.50" fill="#e2ddb4"/><rect x="302" width="2.35" height="34.50" fill="#e4dfb6"/><rect x="304" width="2.85" height="34.50" fill="#e3deb5"/><rect x="306.5" width="1.35" height="34.50" fill="#e4dfb6"/><rect x="307.5" width="2.35" height="34.50" fill="#e2ddb4"/><rect x="309.5" width="3.85" height="34.50" fill="#e3deb5"/><rect x="313" width="1.35" height="34.50" fill="#e4dfb6"/><rect x="314" width="1.35" height="34.50" fill="#e2ddb4"/><rect x="315" width="4.35" height="34.50" fill="#e3deb5"/><rect x="319" width="5.35" height="34.50" fill="#e2ddb4"/><rect x="324" width="1.35" height="34.50" fill="#e3deb5"/><rect x="325" width="4.35" height="34.50" fill="#e2ddb4"/><rect x="329" width="1.35" height="34.50" fill="#e3deb5"/><rect x="330" width="1.35" height="34.50" fill="#e2ddb4"/><rect x="331" width="1.35" height="34.50" fill="#e3deb5"/><rect x="332" width="1.85" height="34.50" fill="#e2ddb4"/><rect x="333.5" width="1.35" height="34.50" fill="#e4dfb6"/><rect x="334.5" width="1.35" height="34.50" fill="#e2ddb4"/><rect x="335.5" width="1.85" height="34.50" fill="#e3deb5"/><rect x="337" width="2.35" height="34.50" fill="#e2ddb4"/><rect x="339" width="1.85" height="34.50" fill="#d9dfdc"/><rect x="340.5" width="5.35" height="34.50" fill="#e2ddb4"/><rect x="345.5" width="1.35" height="34.50" fill="#e4dfb6"/><rect x="346.5" width="2.85" height="34.50" fill="#e2ddb4"/><rect x="349" width="2.85" height="34.50" fill="#e3deb5"/><rect x="351.5" width="2.35" height="34.50" fill="#e2ddb4"/><rect x="353.5" width="7.85" height="34.50" fill="#e3deb5"/><rect x="361" width="3.35" height="34.50" fill="#e4dfb6"/><rect x="364" width="2.85" height="34.50" fill="#e2ddb4"/><rect x="366.5" width="1.35" height="34.50" fill="#e3deb5"/><rect x="367.5" width="2.85" height="34.50" fill="#e4dfb6"/><rect x="370" width="2.85" height="34.50" fill="#e3deb5"/><rect x="372.5" width="1.35" height="34.50" fill="#e4dfb6"/><rect x="373.5" width="1.35" height="34.50" fill="#e2ddb4"/><rect x="374.5" width="2.35" height="34.50" fill="#e3deb5"/><rect x="376.5" width="0.6" height="34.50" fill="#e2ddb4"/><rect x="376.75" width="3.35" height="34.50" fill="#dae0dd"/><rect x="379.75" width="1.35" height="34.50" fill="#dbe1de"/><rect x="380.75" width="1.35" height="34.50" fill="#dae0dd"/><rect x="381.75" width="4.35" height="34.50" fill="#dbe1de"/><rect x="385.75" width="2.85" height="34.50" fill="#d9dfdc"/><rect x="388.25" width="0.6" height="34.50" fill="#dae0dd"/><rect x="388.25" width="1.85" height="34.50" fill="#e2ddb4"/><rect x="389.75" width="2.35" height="34.50" fill="#e3deb5"/><rect x="391.75" width="1.35" height="34.50" fill="#e4dfb6"/><rect x="392.75" width="1.85" height="34.50" fill="#e2ddb4"/><rect x="394.25" width="7.85" height="34.50" fill="#e3deb5"/><rect x="401.75" width="1.85" height="34.50" fill="#e4dfb6"/><rect x="403.25" width="3.35" height="34.50" fill="#e2ddb4"/><rect x="406.25" width="2.85" height="34.50" fill="#e3deb5"/><rect x="408.75" width="1.35" height="34.50" fill="#e2ddb4"/><rect x="409.75" width="2.85" height="34.50" fill="#e4dfb6"/><rect x="412.25" width="1.35" height="34.50" fill="#e2ddb4"/><rect x="413.25" width="4.35" height="34.50" fill="#e3deb5"/><rect x="417.25" width="1.35" height="34.50" fill="#e4dfb6"/><rect x="418.25" width="1.85" height="34.50" fill="#e3deb5"/><rect x="419.75" width="1.6" height="34.50" fill="#e2ddb4"/><rect x="421" width="1.35" height="34.50" fill="#9eb6d3"/><rect x="422" width="0.6" height="34.50" fill="#a0b8d5"/><rect x="422.25" width="1.35" height="34.50" fill="#dae0dd"/><rect x="423.25" width="1.35" height="34.50" fill="#d9dfdc"/><rect x="424.25" width="3.85" height="34.50" fill="#dbe1de"/><rect x="427.75" width="1.85" height="34.50" fill="#d9dfdc"/><rect x="429.25" width="4.85" height="34.50" fill="#dae0dd"/><rect x="433.75" width="1.35" height="34.50" fill="#d9dfdc"/><rect x="434.75" width="2.35" height="34.50" fill="#dbe1de"/><rect x="436.75" width="1.35" height="34.50" fill="#d9dfdc"/><rect x="437.75" width="2.35" height="34.50" fill="#7391c3"/><rect x="439.75" width="1.35" height="34.50" fill="#d4dee4"/><rect x="440.75" width="1.35" height="34.50" fill="#d2dce2"/><rect x="441.75" width="1.35" height="34.50" fill="#9db5d2"/><rect x="442.75" width="1.1" height="34.50" fill="#9cb4d1"/><rect x="443.5" width="1.35" height="34.50" fill="#7391c3"/><rect x="444.5" width="2.35" height="34.50" fill="#7290c2"/><rect x="446.5" width="2.35" height="34.50" fill="#7492c4"/><rect x="448.5" width="1.35" height="34.50" fill="#7290c2"/><rect x="449.5" width="1.35" height="34.50" fill="#718fc1"/><rect x="450.5" width="1.1" height="34.50" fill="#7492c4"/><rect x="451.25" width="2.85" height="34.50" fill="#d9dfdc"/><rect x="453.75" width="1.85" height="34.50" fill="#dae0dd"/><rect x="455.25" width="1.1" height="34.50" fill="#dbe1de"/><rect x="456" width="1.35" height="34.50" fill="#c7d6e3"/><rect x="457" width="2.35" height="34.50" fill="#c6d5e2"/><rect x="459" width="2.85" height="34.50" fill="#dbe1de"/><rect x="461.5" width="3.35" height="34.50" fill="#d9dfdc"/><rect x="464.5" width="1.35" height="34.50" fill="#dbe1de"/><rect x="465.5" width="0.6" height="34.50" fill="#dae0dd"/><rect x="465.75" width="3.85" height="34.50" fill="#9cb4d1"/><rect x="469.25" width="0.6" height="34.50" fill="#9bb3d0"/><rect x="469.5" width="2.85" height="34.50" fill="#dae0dd"/><rect x="472" width="1.35" height="34.50" fill="#d9dfdc"/><rect x="473" width="3.85" height="34.50" fill="#dbe1de"/><rect x="476.5" width="2.35" height="34.50" fill="#d9dfdc"/><rect x="478.5" width="1.35" height="34.50" fill="#dbe1de"/><rect x="479.5" width="2.35" height="34.50" fill="#dae0dd"/><rect x="481.5" width="1.85" height="34.50" fill="#dbe1de"/><rect x="483" width="1.35" height="34.50" fill="#d9dfdc"/><rect x="484" width="2.35" height="34.50" fill="#e5e2c1"/><rect x="486" width="5.35" height="34.50" fill="#e7e4c3"/><rect x="491" width="1.35" height="34.50" fill="#e5e2c1"/><rect x="492" width="1.35" height="34.50" fill="#dae0dd"/><rect x="493" width="2.85" height="34.50" fill="#e4e1c0"/><rect x="495.5" width="2.85" height="34.50" fill="#e4dfb6"/><rect x="498" width="1.35" height="34.50" fill="#e3deb5"/><rect x="499" width="2.35" height="34.50" fill="#e7e4c3"/><rect x="501" width="2.35" height="34.50" fill="#e6e3c2"/><rect x="503" width="2.85" height="34.50" fill="#e4dfb6"/><rect x="505.5" width="1.35" height="34.50" fill="#e5e2c1"/><rect x="506.5" width="1.85" height="34.50" fill="#e9e6c5"/><rect x="508" width="1.35" height="34.50" fill="#e5e2c1"/><rect x="509" width="1.85" height="34.50" fill="#e2ddb4"/><rect x="510.5" width="1.35" height="34.50" fill="#e7e4c3"/><rect x="511.5" width="1.35" height="34.50" fill="#e3deb5"/><rect x="512.5" width="2.85" height="34.50" fill="#eae7c6"/><rect x="515" width="1.85" height="34.50" fill="#e9e6c5"/><rect x="516.5" width="1.35" height="34.50" fill="#e2ddb4"/><rect x="517.5" width="0.85" height="34.50" fill="#e9e6c5"/><rect x="518" width="1.85" height="34.50" fill="#9eb6d3"/><rect x="519.5" width="1.35" height="34.50" fill="#9db5d2"/><rect x="520.5" width="0.85" height="34.50" fill="#a0b8d5"/><rect x="521" width="1.35" height="34.50" fill="#e3deb5"/><rect x="522" width="1.85" height="34.50" fill="#e2ddb4"/><rect x="523.5" width="2.35" height="34.50" fill="#e4dfb6"/><rect x="525.5" width="2.85" height="34.50" fill="#e3deb5"/><rect x="528" width="3.85" height="34.50" fill="#dae0dd"/><rect x="531.5" width="2.35" height="34.50" fill="#d9dfdc"/><rect x="533.5" width="1.35" height="34.50" fill="#e2ddb4"/><rect x="534.5" width="1.35" height="34.50" fill="#e4dfb6"/><rect x="535.5" width="2.35" height="34.50" fill="#e2ddb4"/><rect x="537.5" width="1.85" height="34.50" fill="#e3deb5"/><rect x="539" width="1.35" height="34.50" fill="#e4dfb6"/><rect x="540" width="1.35" height="34.50" fill="#e2ddb4"/><rect x="541" width="1.35" height="34.50" fill="#e3deb5"/><rect x="542" width="1.35" height="34.50" fill="#e4dfb6"/><rect x="543" width="2.85" height="34.50" fill="#e3deb5"/><rect x="545.5" width="1.35" height="34.50" fill="#e4dfb6"/><rect x="546.5" width="1.35" height="34.50" fill="#e2ddb4"/><rect x="547.5" width="0.6" height="34.50" fill="#e4dfb6"/><rect x="547.75" width="2.35" height="34.50" fill="#dae0dd"/><rect x="549.75" width="1.35" height="34.50" fill="#e3deb5"/><rect x="550.75" width="1.35" height="34.50" fill="#e4dfb6"/><rect x="551.75" width="2.1" height="34.50" fill="#dae0dd"/><rect x="553.5" width="2.35" height="34.50" fill="#e4dfb6"/><rect x="555.5" width="0.85" height="34.50" fill="#e3deb5"/><rect x="556" width="1.35" height="34.50" fill="#e5e2c1"/><rect x="557" width="1.35" height="34.50" fill="#e9e6c5"/><rect x="558" width="0.5" height="34.50" fill="#e4e1c0"/></g><g transform="translate(0 142.90)"><rect x="44" width="1.35" height="11.30" fill="#dbe1de"/><rect x="45" width="1.85" height="11.30" fill="#cfd9df"/><rect x="46.5" width="1.35" height="11.30" fill="#d3dde3"/><rect x="47.5" width="1.35" height="11.30" fill="#d0dae0"/><rect x="48.5" width="1.35" height="11.30" fill="#dae0dd"/><rect x="49.5" width="1.6" height="11.30" fill="#d2dce2"/><rect x="50.75" width="1.35" height="11.30" fill="#e8e5c4"/><rect x="51.75" width="2.85" height="11.30" fill="#e7e4c3"/><rect x="54.25" width="1.35" height="11.30" fill="#e6e3c2"/><rect x="55.25" width="1.85" height="11.30" fill="#e5e2c1"/><rect x="56.75" width="2.1" height="11.30" fill="#eae7c6"/><rect x="58.5" width="2.35" height="11.30" fill="#a0b8d5"/><rect x="60.5" width="1.35" height="11.30" fill="#d9dfdc"/><rect x="61.5" width="1.35" height="11.30" fill="#dae0dd"/><rect x="62.5" width="1.85" height="11.30" fill="#dbe1de"/><rect x="64" width="1.35" height="11.30" fill="#dae0dd"/><rect x="65" width="1.35" height="11.30" fill="#dbe1de"/><rect x="66" width="1.35" height="11.30" fill="#d9dfdc"/><rect x="67" width="1.35" height="11.30" fill="#d3dde3"/><rect x="68" width="3.85" height="11.30" fill="#dbe1de"/><rect x="71.5" width="1.35" height="11.30" fill="#cfd9df"/><rect x="72.5" width="1.85" height="11.30" fill="#d1dbe1"/><rect x="74" width="2.35" height="11.30" fill="#e5e2c1"/><rect x="76" width="1.35" height="11.30" fill="#eae7c6"/><rect x="77" width="1.85" height="11.30" fill="#e6e3c2"/><rect x="78.5" width="2.85" height="11.30" fill="#e7e4c3"/><rect x="81" width="2.35" height="11.30" fill="#e8e5c4"/><rect x="83" width="1.35" height="11.30" fill="#e5e2c1"/><rect x="84" width="2.85" height="11.30" fill="#e9e6c5"/><rect x="86.5" width="2.35" height="11.30" fill="#eae7c6"/><rect x="88.5" width="1.35" height="11.30" fill="#e5e2c1"/><rect x="89.5" width="1.35" height="11.30" fill="#e6e3c2"/><rect x="90.5" width="1.85" height="11.30" fill="#e7e4c3"/><rect x="92" width="1.35" height="11.30" fill="#e5e2c1"/><rect x="93" width="1.35" height="11.30" fill="#e4e1c0"/><rect x="94" width="3.35" height="11.30" fill="#e6e3c2"/><rect x="97" width="4.35" height="11.30" fill="#d2dce2"/><rect x="101" width="1.35" height="11.30" fill="#e6e3c2"/><rect x="102" width="2.35" height="11.30" fill="#eae7c6"/><rect x="104" width="1.35" height="11.30" fill="#e9e6c5"/><rect x="105" width="1.35" height="11.30" fill="#e8e5c4"/><rect x="106" width="2.35" height="11.30" fill="#e7e4c3"/><rect x="108" width="2.85" height="11.30" fill="#dae0dd"/><rect x="110.5" width="2.35" height="11.30" fill="#d9dfdc"/><rect x="112.5" width="2.35" height="11.30" fill="#dae0dd"/><rect x="114.5" width="2.35" height="11.30" fill="#e8e5c4"/><rect x="116.5" width="1.35" height="11.30" fill="#d9dfdc"/><rect x="117.5" width="0.85" height="11.30" fill="#e8e5c4"/><rect x="118" width="2.85" height="11.30" fill="#dae0dd"/><rect x="120.5" width="2.35" height="11.30" fill="#e7e4c3"/><rect x="122.5" width="1.85" height="11.30" fill="#e5e2c1"/><rect x="124" width="2.35" height="11.30" fill="#e4e1c0"/><rect x="126" width="1.85" height="11.30" fill="#dbe1de"/><rect x="127.5" width="1.35" height="11.30" fill="#dae0dd"/><rect x="128.5" width="2.85" height="11.30" fill="#e6e3c2"/><rect x="131" width="2.35" height="11.30" fill="#e7e4c3"/><rect x="133" width="1.35" height="11.30" fill="#e9e6c5"/><rect x="134" width="2.35" height="11.30" fill="#d9dfdc"/><rect x="136" width="2.85" height="11.30" fill="#dae0dd"/><rect x="138.5" width="1.85" height="11.30" fill="#e7e4c3"/><rect x="140" width="2.35" height="11.30" fill="#e9e6c5"/><rect x="142" width="1.35" height="11.30" fill="#e6e3c2"/><rect x="143" width="1.85" height="11.30" fill="#e5e2c1"/><rect x="144.5" width="1.85" height="11.30" fill="#e8e5c4"/><rect x="146" width="0.85" height="11.30" fill="#d9dfdc"/><rect x="146.5" width="2.85" height="11.30" fill="#d0dae0"/><rect x="149" width="1.35" height="11.30" fill="#dae0dd"/><rect x="150" width="1.35" height="11.30" fill="#dbe1de"/><rect x="151" width="3.35" height="11.30" fill="#dae0dd"/><rect x="154" width="1.35" height="11.30" fill="#dbe1de"/><rect x="155" width="1.35" height="11.30" fill="#d1dbe1"/><rect x="156" width="2.85" height="11.30" fill="#d5dfe5"/><rect x="158.5" width="1.35" height="11.30" fill="#dbe1de"/><rect x="159.5" width="1.35" height="11.30" fill="#dae0dd"/><rect x="160.5" width="1.35" height="11.30" fill="#d0dae0"/><rect x="161.5" width="5.35" height="11.30" fill="#d9dfdc"/><rect x="166.5" width="1.35" height="11.30" fill="#dbe1de"/><rect x="167.5" width="1.85" height="11.30" fill="#d9dfdc"/><rect x="169" width="1.35" height="11.30" fill="#d2dce2"/><rect x="170" width="2.85" height="11.30" fill="#dae0dd"/><rect x="172.5" width="0.85" height="11.30" fill="#d9dfdc"/><rect x="173" width="1.35" height="11.30" fill="#dae0dd"/><rect x="174" width="2.35" height="11.30" fill="#e5e2c1"/><rect x="176" width="2.35" height="11.30" fill="#e9e6c5"/><rect x="178" width="2.35" height="11.30" fill="#e4e1c0"/><rect x="180" width="1.85" height="11.30" fill="#e6e3c2"/><rect x="181.5" width="1.35" height="11.30" fill="#dbe1de"/><rect x="182.5" width="1.35" height="11.30" fill="#d1dbe1"/><rect x="183.5" width="1.35" height="11.30" fill="#d3dde3"/><rect x="184.5" width="2.35" height="11.30" fill="#d2dce2"/><rect x="186.5" width="1.85" height="11.30" fill="#d3dde3"/><rect x="188" width="0.85" height="11.30" fill="#d0dae0"/><rect x="188.5" width="1.35" height="11.30" fill="#e7e4c3"/><rect x="189.5" width="1.35" height="11.30" fill="#d0dae0"/><rect x="190.5" width="1.35" height="11.30" fill="#e4e1c0"/><rect x="191.5" width="1.35" height="11.30" fill="#e7e4c3"/><rect x="192.5" width="2.85" height="11.30" fill="#d1dbe1"/><rect x="195" width="2.35" height="11.30" fill="#d4dee4"/><rect x="197" width="1.35" height="11.30" fill="#d5dfe5"/><rect x="198" width="1.35" height="11.30" fill="#e5e2c1"/><rect x="199" width="2.35" height="11.30" fill="#d0dae0"/><rect x="201" width="2.85" height="11.30" fill="#d4dee4"/><rect x="203.5" width="1.35" height="11.30" fill="#e5e2c1"/><rect x="204.5" width="1.35" height="11.30" fill="#eae7c6"/><rect x="205.5" width="1.35" height="11.30" fill="#d0dae0"/><rect x="206.5" width="1.35" height="11.30" fill="#e7e4c3"/><rect x="207.5" width="2.35" height="11.30" fill="#e9e6c5"/><rect x="209.5" width="1.35" height="11.30" fill="#d0dae0"/><rect x="210.5" width="1.35" height="11.30" fill="#d2dce2"/><rect x="211.5" width="1.35" height="11.30" fill="#e8e5c4"/><rect x="212.5" width="3.35" height="11.30" fill="#e9e6c5"/><rect x="215.5" width="2.35" height="11.30" fill="#d0dae0"/><rect x="217.5" width="1.85" height="11.30" fill="#e6e3c2"/><rect x="219" width="1.35" height="11.30" fill="#e8e5c4"/><rect x="220" width="1.35" height="11.30" fill="#e5e2c1"/><rect x="221" width="0.6" height="11.30" fill="#e9e6c5"/><rect x="221" width="1.35" height="11.30" fill="#e7c9a4"/><rect x="222" width="2.35" height="11.30" fill="#e6c8a3"/><rect x="224" width="1.85" height="11.30" fill="#e9cba6"/><rect x="225.5" width="0.85" height="11.30" fill="#eacca7"/><rect x="226" width="1.35" height="11.30" fill="#d9dfdc"/><rect x="227" width="1.85" height="11.30" fill="#dbe1de"/><rect x="228.5" width="2.85" height="11.30" fill="#dae0dd"/><rect x="231" width="1.35" height="11.30" fill="#d9dfdc"/><rect x="232" width="2.35" height="11.30" fill="#d3dde3"/><rect x="234" width="2.35" height="11.30" fill="#d9dfdc"/><rect x="236" width="1.35" height="11.30" fill="#d3dde3"/><rect x="237" width="1.35" height="11.30" fill="#d9dfdc"/><rect x="238" width="1.35" height="11.30" fill="#dae0dd"/><rect x="239" width="1.85" height="11.30" fill="#d9dfdc"/><rect x="240.5" width="1.35" height="11.30" fill="#eae7c6"/><rect x="241.5" width="2.35" height="11.30" fill="#e9e6c5"/><rect x="243.5" width="1.85" height="11.30" fill="#d1dbe1"/><rect x="245" width="2.85" height="11.30" fill="#e6e3c2"/><rect x="247.5" width="1.85" height="11.30" fill="#d9dfdc"/><rect x="249" width="1.35" height="11.30" fill="#e9e6c5"/><rect x="250" width="2.35" height="11.30" fill="#e7e4c3"/><rect x="252" width="2.35" height="11.30" fill="#dbe1de"/><rect x="254" width="2.35" height="11.30" fill="#dae0dd"/><rect x="256" width="4.35" height="11.30" fill="#dbe1de"/><rect x="260" width="1.85" height="11.30" fill="#d5dfe5"/><rect x="261.5" width="1.35" height="11.30" fill="#dae0dd"/><rect x="262.5" width="1.35" height="11.30" fill="#d9dfdc"/><rect x="263.5" width="1.35" height="11.30" fill="#d1dbe1"/><rect x="264.5" width="0.85" height="11.30" fill="#dae0dd"/><rect x="265" width="1.35" height="11.30" fill="#e6c8a3"/><rect x="266" width="4.35" height="11.30" fill="#e9cba6"/><rect x="270" width="1.1" height="11.30" fill="#e6c8a3"/><rect x="270.75" width="2.85" height="11.30" fill="#e7e4c3"/><rect x="273.25" width="2.35" height="11.30" fill="#e8e5c4"/><rect x="275.25" width="2.35" height="11.30" fill="#eae7c6"/><rect x="277.25" width="1.35" height="11.30" fill="#dae0dd"/><rect x="278.25" width="1.35" height="11.30" fill="#dbe1de"/><rect x="279.25" width="1.35" height="11.30" fill="#e5e2c1"/><rect x="280.25" width="1.35" height="11.30" fill="#eae7c6"/><rect x="281.25" width="2.85" height="11.30" fill="#d9dfdc"/><rect x="283.75" width="2.85" height="11.30" fill="#e8e5c4"/><rect x="286.25" width="1.35" height="11.30" fill="#dae0dd"/><rect x="287.25" width="1.35" height="11.30" fill="#e7e4c3"/><rect x="288.25" width="1.35" height="11.30" fill="#dae0dd"/><rect x="289.25" width="1.85" height="11.30" fill="#e9e6c5"/><rect x="290.75" width="2.85" height="11.30" fill="#dbe1de"/><rect x="293.25" width="2.85" height="11.30" fill="#e8e5c4"/><rect x="295.75" width="1.35" height="11.30" fill="#eae7c6"/><rect x="296.75" width="1.85" height="11.30" fill="#dae0dd"/><rect x="298.25" width="2.35" height="11.30" fill="#e5e2c1"/><rect x="300.25" width="2.35" height="11.30" fill="#dbe1de"/><rect x="302.25" width="3.1" height="11.30" fill="#e7e4c3"/><rect x="305" width="1.35" height="11.30" fill="#e8e5c4"/><rect x="306" width="1.35" height="11.30" fill="#e9e6c5"/><rect x="307" width="1.35" height="11.30" fill="#e5e2c1"/><rect x="308" width="1.35" height="11.30" fill="#eae7c6"/><rect x="309" width="1.35" height="11.30" fill="#eacca7"/><rect x="310" width="1.35" height="11.30" fill="#e8e5c4"/><rect x="311" width="1.35" height="11.30" fill="#e6c8a3"/><rect x="312" width="2.85" height="11.30" fill="#e5e2c1"/><rect x="314.5" width="2.35" height="11.30" fill="#e8caa5"/><rect x="316.5" width="4.35" height="11.30" fill="#dae0dd"/><rect x="320.5" width="1.35" height="11.30" fill="#d9dfdc"/><rect x="321.5" width="1.35" height="11.30" fill="#dbe1de"/><rect x="322.5" width="2.35" height="11.30" fill="#d9dfdc"/><rect x="324.5" width="1.85" height="11.30" fill="#d1dbe1"/><rect x="326" width="2.35" height="11.30" fill="#dae0dd"/><rect x="328" width="2.85" height="11.30" fill="#d0dae0"/><rect x="330.5" width="2.85" height="11.30" fill="#dae0dd"/><rect x="333" width="2.35" height="11.30" fill="#9cb4d1"/><rect x="335" width="1.85" height="11.30" fill="#d4dee4"/><rect x="336.5" width="1.35" height="11.30" fill="#d9dfdc"/><rect x="337.5" width="4.35" height="11.30" fill="#dbe1de"/><rect x="341.5" width="2.85" height="11.30" fill="#e9e6c5"/><rect x="344" width="1.85" height="11.30" fill="#d9dfdc"/><rect x="345.5" width="1.85" height="11.30" fill="#dae0dd"/><rect x="347" width="2.85" height="11.30" fill="#dbe1de"/><rect x="349.5" width="1.35" height="11.30" fill="#dae0dd"/><rect x="350.5" width="2.85" height="11.30" fill="#d9dfdc"/><rect x="353" width="1.85" height="11.30" fill="#e6e3c2"/><rect x="354.5" width="3.85" height="11.30" fill="#dbe1de"/><rect x="358" width="1.35" height="11.30" fill="#d2dce2"/><rect x="359" width="1.35" height="11.30" fill="#d5dfe5"/><rect x="360" width="1.85" height="11.30" fill="#d2dce2"/><rect x="361.5" width="2.85" height="11.30" fill="#dbe1de"/><rect x="364" width="1.35" height="11.30" fill="#d2dce2"/><rect x="365" width="1.85" height="11.30" fill="#dbe1de"/><rect x="366.5" width="2.35" height="11.30" fill="#d9dfdc"/><rect x="368.5" width="3.85" height="11.30" fill="#e6e3c2"/><rect x="372" width="2.35" height="11.30" fill="#d9dfdc"/><rect x="374" width="1.35" height="11.30" fill="#e8e5c4"/><rect x="375" width="1.35" height="11.30" fill="#dae0dd"/><rect x="376" width="2.85" height="11.30" fill="#d9dfdc"/><rect x="378.5" width="1.35" height="11.30" fill="#e5e2c1"/><rect x="379.5" width="2.35" height="11.30" fill="#d3dde3"/><rect x="381.5" width="1.35" height="11.30" fill="#d9dfdc"/><rect x="382.5" width="1.35" height="11.30" fill="#dbe1de"/><rect x="383.5" width="2.85" height="11.30" fill="#df9e82"/><rect x="386" width="1.6" height="11.30" fill="#e09f83"/><rect x="387.25" width="1.35" height="11.30" fill="#d2dce2"/><rect x="388.25" width="1.35" height="11.30" fill="#dae0dd"/><rect x="389.25" width="1.35" height="11.30" fill="#e7e4c3"/><rect x="390.25" width="1.35" height="11.30" fill="#e4e1c0"/><rect x="391.25" width="2.35" height="11.30" fill="#dbe1de"/><rect x="393.25" width="2.35" height="11.30" fill="#d2dce2"/><rect x="395.25" width="2.85" height="11.30" fill="#e6e3c2"/><rect x="397.75" width="1.85" height="11.30" fill="#e9e6c5"/><rect x="399.25" width="1.35" height="11.30" fill="#dae0dd"/><rect x="400.25" width="2.35" height="11.30" fill="#e5e2c1"/><rect x="402.25" width="2.85" height="11.30" fill="#e7e4c3"/><rect x="404.75" width="1.85" height="11.30" fill="#e6e3c2"/><rect x="406.25" width="1.85" height="11.30" fill="#d4dee4"/><rect x="407.75" width="1.35" height="11.30" fill="#e5e2c1"/><rect x="408.75" width="2.85" height="11.30" fill="#e9e6c5"/><rect x="411.25" width="1.85" height="11.30" fill="#dae0dd"/><rect x="412.75" width="1.35" height="11.30" fill="#d9dfdc"/><rect x="413.75" width="3.85" height="11.30" fill="#e8e5c4"/><rect x="417.25" width="1.85" height="11.30" fill="#dae0dd"/><rect x="418.75" width="1.35" height="11.30" fill="#e7e4c3"/><rect x="419.75" width="1.35" height="11.30" fill="#d9dfdc"/><rect x="420.75" width="1.35" height="11.30" fill="#d1dbe1"/><rect x="421.75" width="1.35" height="11.30" fill="#dbe1de"/><rect x="422.75" width="1.35" height="11.30" fill="#d2dce2"/><rect x="423.75" width="4.35" height="11.30" fill="#e9e6c5"/><rect x="427.75" width="2.35" height="11.30" fill="#eae7c6"/><rect x="429.75" width="1.35" height="11.30" fill="#e5e2c1"/><rect x="430.75" width="2.35" height="11.30" fill="#dae0dd"/><rect x="432.75" width="0.6" height="11.30" fill="#d3dde3"/><rect x="433" width="1.35" height="11.30" fill="#e4dbb8"/><rect x="434" width="2.85" height="11.30" fill="#e6ddba"/><rect x="436.5" width="2.35" height="11.30" fill="#e8dfbc"/><rect x="438.5" width="1.35" height="11.30" fill="#e4dbb8"/><rect x="439.5" width="1.85" height="11.30" fill="#e4c6a1"/><rect x="441" width="2.35" height="11.30" fill="#eacca7"/><rect x="443" width="1.85" height="11.30" fill="#e5c7a2"/><rect x="444.5" width="0.6" height="11.30" fill="#e6ddba"/><rect x="444.5" width="1.35" height="11.30" fill="#d9dfdc"/><rect x="445.5" width="1.35" height="11.30" fill="#dae0dd"/><rect x="446.5" width="1.85" height="11.30" fill="#d9dfdc"/><rect x="448" width="1.85" height="11.30" fill="#dae0dd"/><rect x="449.5" width="2.85" height="11.30" fill="#dbe1de"/><rect x="452" width="3.85" height="11.30" fill="#d9dfdc"/><rect x="455.5" width="2.35" height="11.30" fill="#dbe1de"/><rect x="457.5" width="1.35" height="11.30" fill="#e5e2c1"/><rect x="458.5" width="2.85" height="11.30" fill="#d9dfdc"/><rect x="461" width="1.35" height="11.30" fill="#e4e1c0"/><rect x="462" width="2.85" height="11.30" fill="#dbe1de"/><rect x="464.5" width="1.35" height="11.30" fill="#e8e5c4"/><rect x="465.5" width="1.35" height="11.30" fill="#e5e2c1"/><rect x="466.5" width="2.85" height="11.30" fill="#d9dfdc"/><rect x="469" width="3.35" height="11.30" fill="#dbe1de"/><rect x="472" width="2.35" height="11.30" fill="#dae0dd"/><rect x="474" width="1.35" height="11.30" fill="#dbe1de"/><rect x="475" width="2.85" height="11.30" fill="#d9dfdc"/><rect x="477.5" width="1.35" height="11.30" fill="#dae0dd"/><rect x="478.5" width="2.85" height="11.30" fill="#d9dfdc"/><rect x="481" width="1.85" height="11.30" fill="#dbe1de"/><rect x="482.5" width="1.35" height="11.30" fill="#dae0dd"/><rect x="483.5" width="0.85" height="11.30" fill="#d9dfdc"/><rect x="484" width="1.35" height="11.30" fill="#e6e3c2"/><rect x="485" width="1.35" height="11.30" fill="#e8e5c4"/><rect x="486" width="1.35" height="11.30" fill="#e7e4c3"/><rect x="487" width="2.35" height="11.30" fill="#e8e5c4"/><rect x="489" width="1.35" height="11.30" fill="#e5e2c1"/><rect x="490" width="2.35" height="11.30" fill="#e8e5c4"/><rect x="492" width="1.35" height="11.30" fill="#dc8571"/><rect x="493" width="1.35" height="11.30" fill="#d9826e"/><rect x="494" width="1.85" height="11.30" fill="#e7c9a4"/><rect x="495.5" width="0.85" height="11.30" fill="#e8caa5"/><rect x="496" width="2.35" height="11.30" fill="#e09f83"/><rect x="498" width="1.35" height="11.30" fill="#e9cba6"/><rect x="499" width="2.85" height="11.30" fill="#e3a286"/><rect x="501.5" width="0.85" height="11.30" fill="#e5c7a2"/><rect x="502" width="2.85" height="11.30" fill="#e3a286"/><rect x="504.5" width="4.35" height="11.30" fill="#e4a387"/><rect x="508.5" width="1.35" height="11.30" fill="#e1a084"/><rect x="509.5" width="1.35" height="11.30" fill="#da836f"/><rect x="510.5" width="1.35" height="11.30" fill="#e4a387"/><rect x="511.5" width="1.35" height="11.30" fill="#d7806c"/><rect x="512.5" width="1.35" height="11.30" fill="#e09f83"/><rect x="513.5" width="1.35" height="11.30" fill="#e8caa5"/><rect x="514.5" width="1.85" height="11.30" fill="#eacca7"/><rect x="516" width="1.35" height="11.30" fill="#e6c8a3"/><rect x="517" width="0.6" height="11.30" fill="#e7c9a4"/><rect x="517" width="1.35" height="11.30" fill="#e09f83"/><rect x="518" width="1.35" height="11.30" fill="#e4a387"/><rect x="519" width="1.35" height="11.30" fill="#e09f83"/><rect x="520" width="1.35" height="11.30" fill="#e5a488"/><rect x="521" width="2.35" height="11.30" fill="#e09f83"/><rect x="523" width="1.35" height="11.30" fill="#e4c6a1"/><rect x="524" width="1.35" height="11.30" fill="#e7c9a4"/><rect x="525" width="1.35" height="11.30" fill="#e3a286"/><rect x="526" width="2.85" height="11.30" fill="#e5a488"/><rect x="528.5" width="1.85" height="11.30" fill="#e1a084"/><rect x="530" width="1.35" height="11.30" fill="#d9826e"/><rect x="531" width="2.85" height="11.30" fill="#e09f83"/><rect x="533.5" width="1.35" height="11.30" fill="#e2a185"/><rect x="534.5" width="1.35" height="11.30" fill="#e6e3c2"/><rect x="535.5" width="1.35" height="11.30" fill="#dbe1de"/><rect x="536.5" width="2.35" height="11.30" fill="#e6e3c2"/><rect x="538.5" width="1.85" height="11.30" fill="#eae7c6"/><rect x="540" width="1.35" height="11.30" fill="#e6e3c2"/><rect x="541" width="2.35" height="11.30" fill="#d9dfdc"/><rect x="543" width="1.35" height="11.30" fill="#dae0dd"/><rect x="544" width="1.35" height="11.30" fill="#d9dfdc"/><rect x="545" width="2.1" height="11.30" fill="#e4e1c0"/><rect x="546.75" width="1.35" height="11.30" fill="#e09f83"/><rect x="547.75" width="1.35" height="11.30" fill="#e3a286"/><rect x="548.75" width="1.35" height="11.30" fill="#dae0dd"/><rect x="549.75" width="2.35" height="11.30" fill="#e2a185"/><rect x="551.75" width="1.35" height="11.30" fill="#dae0dd"/><rect x="552.75" width="2.85" height="11.30" fill="#dbe1de"/><rect x="555.25" width="1.35" height="11.30" fill="#d9dfdc"/><rect x="556.25" width="2.25" height="11.30" fill="#dae0dd"/></g></g><line x1="44.0" y1="51.20" x2="558.4" y2="51.20" stroke="#c8c8c4" stroke-width="0.65"/><line x1="44.0" y1="62.50" x2="558.4" y2="62.50" stroke="#c8c8c4" stroke-width="0.65"/><line x1="44.0" y1="74.00" x2="558.4" y2="74.00" stroke="#c8c8c4" stroke-width="0.65"/><line x1="44.0" y1="85.50" x2="558.4" y2="85.50" stroke="#c8c8c4" stroke-width="0.65"/><line x1="44.0" y1="97.30" x2="558.4" y2="97.30" stroke="#c8c8c4" stroke-width="0.65"/><line x1="44.0" y1="108.40" x2="558.4" y2="108.40" stroke="#c8c8c4" stroke-width="0.65"/><line x1="44.0" y1="120.20" x2="558.4" y2="120.20" stroke="#c8c8c4" stroke-width="0.65"/><line x1="44.0" y1="131.50" x2="558.4" y2="131.50" stroke="#c8c8c4" stroke-width="0.65"/><line x1="44.0" y1="142.90" x2="558.4" y2="142.90" stroke="#c8c8c4" stroke-width="0.65"/>
<rect x="40.3" y="39.70" width="2.8" height="11.50" fill="#23a05c"/>
<rect x="40.3" y="51.20" width="2.8" height="11.30" fill="#e8f3f3"/>
<rect x="40.3" y="62.50" width="2.8" height="11.50" fill="#e8f3f3"/>
<rect x="40.3" y="74.00" width="2.8" height="11.50" fill="#e8f3f3"/>
<rect x="40.3" y="85.50" width="2.8" height="11.80" fill="#23a05c"/>
<rect x="40.3" y="97.30" width="2.8" height="11.10" fill="#23a05c"/>
<rect x="40.3" y="108.40" width="2.8" height="11.80" fill="#d6eeee"/>
<rect x="40.3" y="120.20" width="2.8" height="11.30" fill="#d6eeee"/>
<rect x="40.3" y="131.50" width="2.8" height="11.40" fill="#d6eeee"/>
<rect x="40.3" y="142.90" width="2.8" height="11.30" fill="#23a05c"/>
<line x1="40.3" y1="51.20" x2="43.1" y2="51.20" stroke="#d0d0d0" stroke-width="0.5"/>
<line x1="40.3" y1="62.50" x2="43.1" y2="62.50" stroke="#d0d0d0" stroke-width="0.5"/>
<line x1="40.3" y1="74.00" x2="43.1" y2="74.00" stroke="#d0d0d0" stroke-width="0.5"/>
<line x1="40.3" y1="85.50" x2="43.1" y2="85.50" stroke="#d0d0d0" stroke-width="0.5"/>
<line x1="40.3" y1="97.30" x2="43.1" y2="97.30" stroke="#d0d0d0" stroke-width="0.5"/>
<line x1="40.3" y1="108.40" x2="43.1" y2="108.40" stroke="#d0d0d0" stroke-width="0.5"/>
<line x1="40.3" y1="120.20" x2="43.1" y2="120.20" stroke="#d0d0d0" stroke-width="0.5"/>
<line x1="40.3" y1="131.50" x2="43.1" y2="131.50" stroke="#d0d0d0" stroke-width="0.5"/>
<line x1="40.3" y1="142.90" x2="43.1" y2="142.90" stroke="#d0d0d0" stroke-width="0.5"/>
<rect x="44" y="27.6" width="514.4" height="3.4" fill="#e2a29e"/>
<rect x="44.0" y="27.6" width="2.0" height="3.4" fill="#5fc5cc"/>
<rect x="553.2" y="27.6" width="1.6" height="3.4" fill="#5fc5cc"/>
<rect x="557.0" y="27.6" width="1.4" height="3.4" fill="#5fc5cc"/>
<rect x="44.00" y="31.7" width="6.05" height="3.4" fill="#c8a8d8"/><rect x="50.00" y="31.7" width="7.05" height="3.4" fill="#9cc84c"/><rect x="57.00" y="31.7" width="8.05" height="3.4" fill="#c8a8d8"/><rect x="65.00" y="31.7" width="7.05" height="3.4" fill="#9cc84c"/><rect x="72.00" y="31.7" width="6.05" height="3.4" fill="#c8a8d8"/><rect x="78.00" y="31.7" width="3.05" height="3.4" fill="#9cc84c"/><rect x="81.00" y="31.7" width="8.05" height="3.4" fill="#c8a8d8"/><rect x="89.00" y="31.7" width="7.05" height="3.4" fill="#9cc84c"/><rect x="96.00" y="31.7" width="3.05" height="3.4" fill="#c8a8d8"/><rect x="99.00" y="31.7" width="1.55" height="3.4" fill="#9cc84c"/><rect x="100.50" y="31.7" width="8.05" height="3.4" fill="#c8a8d8"/><rect x="108.50" y="31.7" width="3.05" height="3.4" fill="#9cc84c"/><rect x="111.50" y="31.7" width="2.05" height="3.4" fill="#c8a8d8"/><rect x="113.50" y="31.7" width="1.05" height="3.4" fill="#9cc84c"/><rect x="114.50" y="31.7" width="6.05" height="3.4" fill="#c8a8d8"/><rect x="120.50" y="31.7" width="2.05" height="3.4" fill="#9cc84c"/><rect x="122.50" y="31.7" width="2.05" height="3.4" fill="#c8a8d8"/><rect x="124.50" y="31.7" width="1.05" height="3.4" fill="#9cc84c"/><rect x="125.50" y="31.7" width="8.05" height="3.4" fill="#c8a8d8"/><rect x="133.50" y="31.7" width="7.05" height="3.4" fill="#9cc84c"/><rect x="140.50" y="31.7" width="1.05" height="3.4" fill="#c8a8d8"/><rect x="141.50" y="31.7" width="4.05" height="3.4" fill="#9cc84c"/><rect x="145.50" y="31.7" width="5.05" height="3.4" fill="#c8a8d8"/><rect x="150.50" y="31.7" width="3.05" height="3.4" fill="#9cc84c"/><rect x="153.50" y="31.7" width="2.05" height="3.4" fill="#c8a8d8"/><rect x="155.50" y="31.7" width="4.05" height="3.4" fill="#9cc84c"/><rect x="159.50" y="31.7" width="1.05" height="3.4" fill="#c8a8d8"/><rect x="160.50" y="31.7" width="7.05" height="3.4" fill="#9cc84c"/><rect x="167.50" y="31.7" width="8.05" height="3.4" fill="#c8a8d8"/><rect x="175.50" y="31.7" width="1.05" height="3.4" fill="#9cc84c"/><rect x="176.50" y="31.7" width="1.05" height="3.4" fill="#c8a8d8"/><rect x="177.50" y="31.7" width="1.05" height="3.4" fill="#9cc84c"/><rect x="178.50" y="31.7" width="3.05" height="3.4" fill="#c8a8d8"/><rect x="181.50" y="31.7" width="1.55" height="3.4" fill="#9cc84c"/><rect x="183.00" y="31.7" width="1.05" height="3.4" fill="#c8a8d8"/><rect x="184.00" y="31.7" width="7.05" height="3.4" fill="#9cc84c"/><rect x="191.00" y="31.7" width="6.05" height="3.4" fill="#c8a8d8"/><rect x="197.00" y="31.7" width="2.05" height="3.4" fill="#9cc84c"/><rect x="199.00" y="31.7" width="6.05" height="3.4" fill="#c8a8d8"/><rect x="205.00" y="31.7" width="4.05" height="3.4" fill="#9cc84c"/><rect x="209.00" y="31.7" width="3.05" height="3.4" fill="#c8a8d8"/><rect x="212.00" y="31.7" width="4.05" height="3.4" fill="#9cc84c"/><rect x="216.00" y="31.7" width="3.05" height="3.4" fill="#c8a8d8"/><rect x="219.00" y="31.7" width="5.05" height="3.4" fill="#9cc84c"/><rect x="224.00" y="31.7" width="3.05" height="3.4" fill="#c8a8d8"/><rect x="227.00" y="31.7" width="3.05" height="3.4" fill="#9cc84c"/><rect x="230.00" y="31.7" width="1.05" height="3.4" fill="#c8a8d8"/><rect x="231.00" y="31.7" width="5.05" height="3.4" fill="#9cc84c"/><rect x="236.00" y="31.7" width="1.55" height="3.4" fill="#c8a8d8"/><rect x="237.50" y="31.7" width="3.05" height="3.4" fill="#9cc84c"/><rect x="240.50" y="31.7" width="3.05" height="3.4" fill="#c8a8d8"/><rect x="243.50" y="31.7" width="3.05" height="3.4" fill="#9cc84c"/><rect x="246.50" y="31.7" width="8.05" height="3.4" fill="#c8a8d8"/><rect x="254.50" y="31.7" width="7.05" height="3.4" fill="#9cc84c"/><rect x="261.50" y="31.7" width="1.55" height="3.4" fill="#c8a8d8"/><rect x="263.00" y="31.7" width="5.05" height="3.4" fill="#9cc84c"/><rect x="268.00" y="31.7" width="3.05" height="3.4" fill="#c8a8d8"/><rect x="271.00" y="31.7" width="2.05" height="3.4" fill="#9cc84c"/><rect x="273.00" y="31.7" width="3.05" height="3.4" fill="#c8a8d8"/><rect x="276.00" y="31.7" width="4.05" height="3.4" fill="#9cc84c"/><rect x="280.00" y="31.7" width="3.05" height="3.4" fill="#c8a8d8"/><rect x="283.00" y="31.7" width="1.05" height="3.4" fill="#9cc84c"/><rect x="284.00" y="31.7" width="1.55" height="3.4" fill="#c8a8d8"/><rect x="285.50" y="31.7" width="4.05" height="3.4" fill="#9cc84c"/><rect x="289.50" y="31.7" width="1.55" height="3.4" fill="#c8a8d8"/><rect x="291.00" y="31.7" width="3.05" height="3.4" fill="#9cc84c"/><rect x="294.00" y="31.7" width="1.55" height="3.4" fill="#c8a8d8"/><rect x="295.50" y="31.7" width="7.05" height="3.4" fill="#9cc84c"/><rect x="302.50" y="31.7" width="3.05" height="3.4" fill="#c8a8d8"/><rect x="305.50" y="31.7" width="3.05" height="3.4" fill="#9cc84c"/><rect x="308.50" y="31.7" width="1.55" height="3.4" fill="#c8a8d8"/><rect x="310.00" y="31.7" width="1.05" height="3.4" fill="#9cc84c"/><rect x="311.00" y="31.7" width="1.05" height="3.4" fill="#c8a8d8"/><rect x="312.00" y="31.7" width="1.55" height="3.4" fill="#9cc84c"/><rect x="313.50" y="31.7" width="3.05" height="3.4" fill="#c8a8d8"/><rect x="316.50" y="31.7" width="1.05" height="3.4" fill="#9cc84c"/><rect x="317.50" y="31.7" width="6.05" height="3.4" fill="#c8a8d8"/><rect x="323.50" y="31.7" width="3.05" height="3.4" fill="#9cc84c"/><rect x="326.50" y="31.7" width="5.05" height="3.4" fill="#c8a8d8"/><rect x="331.50" y="31.7" width="3.05" height="3.4" fill="#9cc84c"/><rect x="334.50" y="31.7" width="1.55" height="3.4" fill="#c8a8d8"/><rect x="336.00" y="31.7" width="4.05" height="3.4" fill="#9cc84c"/><rect x="340.00" y="31.7" width="3.05" height="3.4" fill="#c8a8d8"/><rect x="343.00" y="31.7" width="7.05" height="3.4" fill="#9cc84c"/><rect x="350.00" y="31.7" width="3.05" height="3.4" fill="#c8a8d8"/><rect x="353.00" y="31.7" width="2.05" height="3.4" fill="#9cc84c"/><rect x="355.00" y="31.7" width="1.55" height="3.4" fill="#c8a8d8"/><rect x="356.50" y="31.7" width="2.05" height="3.4" fill="#9cc84c"/><rect x="358.50" y="31.7" width="4.05" height="3.4" fill="#c8a8d8"/><rect x="362.50" y="31.7" width="1.05" height="3.4" fill="#9cc84c"/><rect x="363.50" y="31.7" width="5.05" height="3.4" fill="#c8a8d8"/><rect x="368.50" y="31.7" width="7.05" height="3.4" fill="#9cc84c"/><rect x="375.50" y="31.7" width="1.55" height="3.4" fill="#c8a8d8"/><rect x="377.00" y="31.7" width="1.55" height="3.4" fill="#9cc84c"/><rect x="378.50" y="31.7" width="3.05" height="3.4" fill="#c8a8d8"/><rect x="381.50" y="31.7" width="5.05" height="3.4" fill="#9cc84c"/><rect x="386.50" y="31.7" width="1.55" height="3.4" fill="#c8a8d8"/><rect x="388.00" y="31.7" width="1.05" height="3.4" fill="#9cc84c"/><rect x="389.00" y="31.7" width="1.05" height="3.4" fill="#c8a8d8"/><rect x="390.00" y="31.7" width="3.05" height="3.4" fill="#9cc84c"/><rect x="393.00" y="31.7" width="6.05" height="3.4" fill="#c8a8d8"/><rect x="399.00" y="31.7" width="1.55" height="3.4" fill="#9cc84c"/><rect x="400.50" y="31.7" width="8.05" height="3.4" fill="#c8a8d8"/><rect x="408.50" y="31.7" width="1.55" height="3.4" fill="#9cc84c"/><rect x="410.00" y="31.7" width="6.05" height="3.4" fill="#c8a8d8"/><rect x="416.00" y="31.7" width="4.05" height="3.4" fill="#9cc84c"/><rect x="420.00" y="31.7" width="3.05" height="3.4" fill="#c8a8d8"/><rect x="423.00" y="31.7" width="5.05" height="3.4" fill="#9cc84c"/><rect x="428.00" y="31.7" width="2.05" height="3.4" fill="#c8a8d8"/><rect x="430.00" y="31.7" width="3.05" height="3.4" fill="#9cc84c"/><rect x="433.00" y="31.7" width="5.05" height="3.4" fill="#c8a8d8"/><rect x="438.00" y="31.7" width="1.05" height="3.4" fill="#9cc84c"/><rect x="439.00" y="31.7" width="5.05" height="3.4" fill="#c8a8d8"/><rect x="444.00" y="31.7" width="3.05" height="3.4" fill="#9cc84c"/><rect x="447.00" y="31.7" width="3.05" height="3.4" fill="#c8a8d8"/><rect x="450.00" y="31.7" width="1.05" height="3.4" fill="#9cc84c"/><rect x="451.00" y="31.7" width="3.05" height="3.4" fill="#c8a8d8"/><rect x="454.00" y="31.7" width="7.05" height="3.4" fill="#9cc84c"/><rect x="461.00" y="31.7" width="3.05" height="3.4" fill="#c8a8d8"/><rect x="464.00" y="31.7" width="1.05" height="3.4" fill="#9cc84c"/><rect x="465.00" y="31.7" width="3.05" height="3.4" fill="#c8a8d8"/><rect x="468.00" y="31.7" width="1.55" height="3.4" fill="#9cc84c"/><rect x="469.50" y="31.7" width="5.05" height="3.4" fill="#c8a8d8"/><rect x="474.50" y="31.7" width="7.05" height="3.4" fill="#9cc84c"/><rect x="481.50" y="31.7" width="1.55" height="3.4" fill="#c8a8d8"/><rect x="483.00" y="31.7" width="1.05" height="3.4" fill="#9cc84c"/><rect x="484.00" y="31.7" width="2.05" height="3.4" fill="#c8a8d8"/><rect x="486.00" y="31.7" width="1.55" height="3.4" fill="#9cc84c"/><rect x="487.50" y="31.7" width="6.05" height="3.4" fill="#c8a8d8"/><rect x="493.50" y="31.7" width="2.05" height="3.4" fill="#9cc84c"/><rect x="495.50" y="31.7" width="1.05" height="3.4" fill="#c8a8d8"/><rect x="496.50" y="31.7" width="7.05" height="3.4" fill="#9cc84c"/><rect x="503.50" y="31.7" width="4.05" height="3.4" fill="#c8a8d8"/><rect x="507.50" y="31.7" width="7.05" height="3.4" fill="#9cc84c"/><rect x="514.50" y="31.7" width="3.05" height="3.4" fill="#c8a8d8"/><rect x="517.50" y="31.7" width="3.05" height="3.4" fill="#9cc84c"/><rect x="520.50" y="31.7" width="1.55" height="3.4" fill="#c8a8d8"/><rect x="522.00" y="31.7" width="1.05" height="3.4" fill="#9cc84c"/><rect x="523.00" y="31.7" width="1.55" height="3.4" fill="#c8a8d8"/><rect x="524.50" y="31.7" width="1.55" height="3.4" fill="#9cc84c"/><rect x="526.00" y="31.7" width="3.05" height="3.4" fill="#c8a8d8"/><rect x="529.00" y="31.7" width="1.05" height="3.4" fill="#9cc84c"/><rect x="530.00" y="31.7" width="4.05" height="3.4" fill="#c8a8d8"/><rect x="534.00" y="31.7" width="2.05" height="3.4" fill="#9cc84c"/><rect x="536.00" y="31.7" width="6.05" height="3.4" fill="#c8a8d8"/><rect x="542.00" y="31.7" width="1.55" height="3.4" fill="#9cc84c"/><rect x="543.50" y="31.7" width="6.05" height="3.4" fill="#c8a8d8"/><rect x="549.50" y="31.7" width="7.05" height="3.4" fill="#9cc84c"/><rect x="556.50" y="31.7" width="1.95" height="3.4" fill="#c8a8d8"/>
<rect x="44.00" y="35.6" width="3.05" height="3.4" fill="#c4cee0"/><rect x="47.00" y="35.6" width="1.55" height="3.4" fill="#bcc6dc"/><rect x="48.50" y="35.6" width="1.55" height="3.4" fill="#b4b8dc"/><rect x="50.00" y="35.6" width="1.55" height="3.4" fill="#ccd4e4"/><rect x="51.50" y="35.6" width="1.55" height="3.4" fill="#c4cee0"/><rect x="53.00" y="35.6" width="1.55" height="3.4" fill="#ccd4e4"/><rect x="54.50" y="35.6" width="3.05" height="3.4" fill="#c8d2e2"/><rect x="57.50" y="35.6" width="1.05" height="3.4" fill="#c8d2e2"/><rect x="58.50" y="35.6" width="1.05" height="3.4" fill="#c0cce0"/><rect x="59.50" y="35.6" width="1.05" height="3.4" fill="#c0cce0"/><rect x="60.50" y="35.6" width="2.05" height="3.4" fill="#c4cee0"/><rect x="62.50" y="35.6" width="3.05" height="3.4" fill="#bcc6dc"/><rect x="65.50" y="35.6" width="3.05" height="3.4" fill="#b4b8dc"/><rect x="68.50" y="35.6" width="3.05" height="3.4" fill="#bcc6dc"/><rect x="71.50" y="35.6" width="1.55" height="3.4" fill="#ccd4e4"/><rect x="73.00" y="35.6" width="1.05" height="3.4" fill="#c4cee0"/><rect x="74.00" y="35.6" width="1.55" height="3.4" fill="#c8d2e2"/><rect x="75.50" y="35.6" width="1.05" height="3.4" fill="#bcc6dc"/><rect x="76.50" y="35.6" width="1.55" height="3.4" fill="#c4cee0"/><rect x="78.00" y="35.6" width="1.05" height="3.4" fill="#c0cce0"/><rect x="79.00" y="35.6" width="2.05" height="3.4" fill="#c8d2e2"/><rect x="81.00" y="35.6" width="3.05" height="3.4" fill="#c4cee0"/><rect x="84.00" y="35.6" width="1.05" height="3.4" fill="#c0cce0"/><rect x="85.00" y="35.6" width="1.55" height="3.4" fill="#bcc6dc"/><rect x="86.50" y="35.6" width="2.05" height="3.4" fill="#b8c0dc"/><rect x="88.50" y="35.6" width="1.55" height="3.4" fill="#c0cce0"/><rect x="90.00" y="35.6" width="2.05" height="3.4" fill="#c4cee0"/><rect x="92.00" y="35.6" width="3.05" height="3.4" fill="#bcc6dc"/><rect x="95.00" y="35.6" width="1.55" height="3.4" fill="#b8c0dc"/><rect x="96.50" y="35.6" width="1.05" height="3.4" fill="#c0cce0"/><rect x="97.50" y="35.6" width="3.05" height="3.4" fill="#bcc6dc"/><rect x="100.50" y="35.6" width="2.05" height="3.4" fill="#c0cce0"/><rect x="102.50" y="35.6" width="1.05" height="3.4" fill="#b8c0dc"/><rect x="103.50" y="35.6" width="1.05" height="3.4" fill="#c8d2e2"/><rect x="104.50" y="35.6" width="1.05" height="3.4" fill="#ccd4e4"/><rect x="105.50" y="35.6" width="2.05" height="3.4" fill="#bcc6dc"/><rect x="107.50" y="35.6" width="1.55" height="3.4" fill="#c0cce0"/><rect x="109.00" y="35.6" width="1.05" height="3.4" fill="#c8d2e2"/><rect x="110.00" y="35.6" width="2.05" height="3.4" fill="#ccd4e4"/><rect x="112.00" y="35.6" width="1.05" height="3.4" fill="#ccd4e4"/><rect x="113.00" y="35.6" width="1.55" height="3.4" fill="#b4b8dc"/><rect x="114.50" y="35.6" width="2.05" height="3.4" fill="#bcc6dc"/><rect x="116.50" y="35.6" width="1.05" height="3.4" fill="#ccd4e4"/><rect x="117.50" y="35.6" width="3.05" height="3.4" fill="#c0cce0"/><rect x="120.50" y="35.6" width="3.05" height="3.4" fill="#b4b8dc"/><rect x="123.50" y="35.6" width="1.05" height="3.4" fill="#b4b8dc"/><rect x="124.50" y="35.6" width="3.05" height="3.4" fill="#b8c0dc"/><rect x="127.50" y="35.6" width="1.05" height="3.4" fill="#b8c0dc"/><rect x="128.50" y="35.6" width="3.05" height="3.4" fill="#c8d2e2"/><rect x="131.50" y="35.6" width="1.05" height="3.4" fill="#b8c0dc"/><rect x="132.50" y="35.6" width="1.05" height="3.4" fill="#c0cce0"/><rect x="133.50" y="35.6" width="1.05" height="3.4" fill="#ccd4e4"/><rect x="134.50" y="35.6" width="1.05" height="3.4" fill="#bcc6dc"/><rect x="135.50" y="35.6" width="3.05" height="3.4" fill="#ccd4e4"/><rect x="138.50" y="35.6" width="2.05" height="3.4" fill="#c8d2e2"/><rect x="140.50" y="35.6" width="3.05" height="3.4" fill="#c8d2e2"/><rect x="143.50" y="35.6" width="3.05" height="3.4" fill="#b4b8dc"/><rect x="146.50" y="35.6" width="1.05" height="3.4" fill="#b8c0dc"/><rect x="147.50" y="35.6" width="1.05" height="3.4" fill="#bcc6dc"/><rect x="148.50" y="35.6" width="1.05" height="3.4" fill="#c8d2e2"/><rect x="149.50" y="35.6" width="1.05" height="3.4" fill="#c4cee0"/><rect x="150.50" y="35.6" width="1.05" height="3.4" fill="#c8d2e2"/><rect x="151.50" y="35.6" width="3.05" height="3.4" fill="#bcc6dc"/><rect x="154.50" y="35.6" width="1.05" height="3.4" fill="#bcc6dc"/><rect x="155.50" y="35.6" width="2.05" height="3.4" fill="#c4cee0"/><rect x="157.50" y="35.6" width="1.55" height="3.4" fill="#b8c0dc"/><rect x="159.00" y="35.6" width="1.55" height="3.4" fill="#b4b8dc"/><rect x="160.50" y="35.6" width="2.05" height="3.4" fill="#ccd4e4"/><rect x="162.50" y="35.6" width="3.05" height="3.4" fill="#c8d2e2"/><rect x="165.50" y="35.6" width="1.55" height="3.4" fill="#bcc6dc"/><rect x="167.00" y="35.6" width="3.05" height="3.4" fill="#ccd4e4"/><rect x="170.00" y="35.6" width="2.05" height="3.4" fill="#c4cee0"/><rect x="172.00" y="35.6" width="3.05" height="3.4" fill="#b4b8dc"/><rect x="175.00" y="35.6" width="1.55" height="3.4" fill="#c4cee0"/><rect x="176.50" y="35.6" width="3.05" height="3.4" fill="#c4cee0"/><rect x="179.50" y="35.6" width="2.05" height="3.4" fill="#c4cee0"/><rect x="181.50" y="35.6" width="1.55" height="3.4" fill="#c4cee0"/><rect x="183.00" y="35.6" width="3.05" height="3.4" fill="#bcc6dc"/><rect x="186.00" y="35.6" width="1.05" height="3.4" fill="#ccd4e4"/><rect x="187.00" y="35.6" width="1.05" height="3.4" fill="#bcc6dc"/><rect x="188.00" y="35.6" width="1.55" height="3.4" fill="#c0cce0"/><rect x="189.50" y="35.6" width="3.05" height="3.4" fill="#c8d2e2"/><rect x="192.50" y="35.6" width="2.05" height="3.4" fill="#c4cee0"/><rect x="194.50" y="35.6" width="3.05" height="3.4" fill="#c8d2e2"/><rect x="197.50" y="35.6" width="3.05" height="3.4" fill="#ccd4e4"/><rect x="200.50" y="35.6" width="2.05" height="3.4" fill="#ccd4e4"/><rect x="202.50" y="35.6" width="3.05" height="3.4" fill="#bcc6dc"/><rect x="205.50" y="35.6" width="1.05" height="3.4" fill="#b4b8dc"/><rect x="206.50" y="35.6" width="1.05" height="3.4" fill="#bcc6dc"/><rect x="207.50" y="35.6" width="1.05" height="3.4" fill="#ccd4e4"/><rect x="208.50" y="35.6" width="2.05" height="3.4" fill="#b8c0dc"/><rect x="210.50" y="35.6" width="2.05" height="3.4" fill="#bcc6dc"/><rect x="212.50" y="35.6" width="1.05" height="3.4" fill="#ccd4e4"/><rect x="213.50" y="35.6" width="1.55" height="3.4" fill="#c8d2e2"/><rect x="215.00" y="35.6" width="3.05" height="3.4" fill="#c4cee0"/><rect x="218.00" y="35.6" width="1.05" height="3.4" fill="#b4b8dc"/><rect x="219.00" y="35.6" width="2.05" height="3.4" fill="#c4cee0"/><rect x="221.00" y="35.6" width="1.55" height="3.4" fill="#b4b8dc"/><rect x="222.50" y="35.6" width="1.05" height="3.4" fill="#ccd4e4"/><rect x="223.50" y="35.6" width="1.05" height="3.4" fill="#c8d2e2"/><rect x="224.50" y="35.6" width="1.05" height="3.4" fill="#ccd4e4"/><rect x="225.50" y="35.6" width="2.05" height="3.4" fill="#c0cce0"/><rect x="227.50" y="35.6" width="1.55" height="3.4" fill="#c4cee0"/><rect x="229.00" y="35.6" width="3.05" height="3.4" fill="#bcc6dc"/><rect x="232.00" y="35.6" width="1.55" height="3.4" fill="#ccd4e4"/><rect x="233.50" y="35.6" width="1.05" height="3.4" fill="#b4b8dc"/><rect x="234.50" y="35.6" width="3.05" height="3.4" fill="#b8c0dc"/><rect x="237.50" y="35.6" width="1.05" height="3.4" fill="#c4cee0"/><rect x="238.50" y="35.6" width="1.55" height="3.4" fill="#bcc6dc"/><rect x="240.00" y="35.6" width="2.05" height="3.4" fill="#b8c0dc"/><rect x="242.00" y="35.6" width="1.55" height="3.4" fill="#c8d2e2"/><rect x="243.50" y="35.6" width="1.55" height="3.4" fill="#c0cce0"/><rect x="245.00" y="35.6" width="3.05" height="3.4" fill="#ccd4e4"/><rect x="248.00" y="35.6" width="3.05" height="3.4" fill="#c4cee0"/><rect x="251.00" y="35.6" width="3.05" height="3.4" fill="#c8d2e2"/><rect x="254.00" y="35.6" width="1.55" height="3.4" fill="#ccd4e4"/><rect x="255.50" y="35.6" width="1.05" height="3.4" fill="#c8d2e2"/><rect x="256.50" y="35.6" width="2.05" height="3.4" fill="#c8d2e2"/><rect x="258.50" y="35.6" width="2.05" height="3.4" fill="#ccd4e4"/><rect x="260.50" y="35.6" width="1.55" height="3.4" fill="#c0cce0"/><rect x="262.00" y="35.6" width="1.05" height="3.4" fill="#c4cee0"/><rect x="263.00" y="35.6" width="1.55" height="3.4" fill="#c8d2e2"/><rect x="264.50" y="35.6" width="1.05" height="3.4" fill="#bcc6dc"/><rect x="265.50" y="35.6" width="2.05" height="3.4" fill="#bcc6dc"/><rect x="267.50" y="35.6" width="1.05" height="3.4" fill="#bcc6dc"/><rect x="268.50" y="35.6" width="1.05" height="3.4" fill="#c0cce0"/><rect x="269.50" y="35.6" width="3.05" height="3.4" fill="#bcc6dc"/><rect x="272.50" y="35.6" width="3.05" height="3.4" fill="#b4b8dc"/><rect x="275.50" y="35.6" width="2.05" height="3.4" fill="#c8d2e2"/><rect x="277.50" y="35.6" width="1.05" height="3.4" fill="#c4cee0"/><rect x="278.50" y="35.6" width="1.05" height="3.4" fill="#c8d2e2"/><rect x="279.50" y="35.6" width="1.05" height="3.4" fill="#c4cee0"/><rect x="280.50" y="35.6" width="2.05" height="3.4" fill="#ccd4e4"/><rect x="282.50" y="35.6" width="1.55" height="3.4" fill="#c8d2e2"/><rect x="284.00" y="35.6" width="1.55" height="3.4" fill="#b8c0dc"/><rect x="285.50" y="35.6" width="3.05" height="3.4" fill="#c8d2e2"/><rect x="288.50" y="35.6" width="1.05" height="3.4" fill="#b4b8dc"/><rect x="289.50" y="35.6" width="1.55" height="3.4" fill="#c8d2e2"/><rect x="291.00" y="35.6" width="2.05" height="3.4" fill="#b4b8dc"/><rect x="293.00" y="35.6" width="1.55" height="3.4" fill="#b8c0dc"/><rect x="294.50" y="35.6" width="2.05" height="3.4" fill="#bcc6dc"/><rect x="296.50" y="35.6" width="3.05" height="3.4" fill="#b4b8dc"/><rect x="299.50" y="35.6" width="1.55" height="3.4" fill="#bcc6dc"/><rect x="301.00" y="35.6" width="1.55" height="3.4" fill="#b8c0dc"/><rect x="302.50" y="35.6" width="2.05" height="3.4" fill="#b8c0dc"/><rect x="304.50" y="35.6" width="3.05" height="3.4" fill="#c4cee0"/><rect x="307.50" y="35.6" width="3.05" height="3.4" fill="#b8c0dc"/><rect x="310.50" y="35.6" width="1.05" height="3.4" fill="#b8c0dc"/><rect x="311.50" y="35.6" width="1.05" height="3.4" fill="#b8c0dc"/><rect x="312.50" y="35.6" width="3.05" height="3.4" fill="#c0cce0"/><rect x="315.50" y="35.6" width="1.05" height="3.4" fill="#b8c0dc"/><rect x="316.50" y="35.6" width="3.05" height="3.4" fill="#b8c0dc"/><rect x="319.50" y="35.6" width="1.05" height="3.4" fill="#c8d2e2"/><rect x="320.50" y="35.6" width="1.05" height="3.4" fill="#ccd4e4"/><rect x="321.50" y="35.6" width="1.55" height="3.4" fill="#c0cce0"/><rect x="323.00" y="35.6" width="3.05" height="3.4" fill="#c8d2e2"/><rect x="326.00" y="35.6" width="3.05" height="3.4" fill="#bcc6dc"/><rect x="329.00" y="35.6" width="1.55" height="3.4" fill="#c8d2e2"/><rect x="330.50" y="35.6" width="3.05" height="3.4" fill="#c4cee0"/><rect x="333.50" y="35.6" width="2.05" height="3.4" fill="#c8d2e2"/><rect x="335.50" y="35.6" width="3.05" height="3.4" fill="#b8c0dc"/><rect x="338.50" y="35.6" width="2.05" height="3.4" fill="#c0cce0"/><rect x="340.50" y="35.6" width="1.55" height="3.4" fill="#c8d2e2"/><rect x="342.00" y="35.6" width="1.05" height="3.4" fill="#bcc6dc"/><rect x="343.00" y="35.6" width="1.55" height="3.4" fill="#ccd4e4"/><rect x="344.50" y="35.6" width="1.05" height="3.4" fill="#c0cce0"/><rect x="345.50" y="35.6" width="1.55" height="3.4" fill="#c4cee0"/><rect x="347.00" y="35.6" width="1.55" height="3.4" fill="#c0cce0"/><rect x="348.50" y="35.6" width="2.05" height="3.4" fill="#bcc6dc"/><rect x="350.50" y="35.6" width="2.05" height="3.4" fill="#c4cee0"/><rect x="352.50" y="35.6" width="3.05" height="3.4" fill="#c0cce0"/><rect x="355.50" y="35.6" width="3.05" height="3.4" fill="#ccd4e4"/><rect x="358.50" y="35.6" width="1.05" height="3.4" fill="#b4b8dc"/><rect x="359.50" y="35.6" width="2.05" height="3.4" fill="#ccd4e4"/><rect x="361.50" y="35.6" width="1.55" height="3.4" fill="#ccd4e4"/><rect x="363.00" y="35.6" width="3.05" height="3.4" fill="#c0cce0"/><rect x="366.00" y="35.6" width="3.05" height="3.4" fill="#ccd4e4"/><rect x="369.00" y="35.6" width="3.05" height="3.4" fill="#b4b8dc"/><rect x="372.00" y="35.6" width="1.55" height="3.4" fill="#b8c0dc"/><rect x="373.50" y="35.6" width="1.55" height="3.4" fill="#b4b8dc"/><rect x="375.00" y="35.6" width="1.55" height="3.4" fill="#b8c0dc"/><rect x="376.50" y="35.6" width="1.55" height="3.4" fill="#b4b8dc"/><rect x="378.00" y="35.6" width="1.55" height="3.4" fill="#c4cee0"/><rect x="379.50" y="35.6" width="2.05" height="3.4" fill="#c4cee0"/><rect x="381.50" y="35.6" width="2.05" height="3.4" fill="#b8c0dc"/><rect x="383.50" y="35.6" width="2.05" height="3.4" fill="#c4cee0"/><rect x="385.50" y="35.6" width="1.55" height="3.4" fill="#b4b8dc"/><rect x="387.00" y="35.6" width="1.55" height="3.4" fill="#c0cce0"/><rect x="388.50" y="35.6" width="1.55" height="3.4" fill="#c4cee0"/><rect x="390.00" y="35.6" width="1.55" height="3.4" fill="#ccd4e4"/><rect x="391.50" y="35.6" width="1.05" height="3.4" fill="#bcc6dc"/><rect x="392.50" y="35.6" width="3.05" height="3.4" fill="#c0cce0"/><rect x="395.50" y="35.6" width="3.05" height="3.4" fill="#b4b8dc"/><rect x="398.50" y="35.6" width="3.05" height="3.4" fill="#b8c0dc"/><rect x="401.50" y="35.6" width="1.55" height="3.4" fill="#c4cee0"/><rect x="403.00" y="35.6" width="3.05" height="3.4" fill="#ccd4e4"/><rect x="406.00" y="35.6" width="1.05" height="3.4" fill="#c0cce0"/><rect x="407.00" y="35.6" width="1.55" height="3.4" fill="#b8c0dc"/><rect x="408.50" y="35.6" width="2.05" height="3.4" fill="#b4b8dc"/><rect x="410.50" y="35.6" width="2.05" height="3.4" fill="#c0cce0"/><rect x="412.50" y="35.6" width="2.05" height="3.4" fill="#b8c0dc"/><rect x="414.50" y="35.6" width="1.55" height="3.4" fill="#b4b8dc"/><rect x="416.00" y="35.6" width="1.05" height="3.4" fill="#c8d2e2"/><rect x="417.00" y="35.6" width="1.05" height="3.4" fill="#c0cce0"/><rect x="418.00" y="35.6" width="1.05" height="3.4" fill="#b4b8dc"/><rect x="419.00" y="35.6" width="3.05" height="3.4" fill="#c4cee0"/><rect x="422.00" y="35.6" width="1.55" height="3.4" fill="#c4cee0"/><rect x="423.50" y="35.6" width="1.05" height="3.4" fill="#c4cee0"/><rect x="424.50" y="35.6" width="1.55" height="3.4" fill="#b4b8dc"/><rect x="426.00" y="35.6" width="1.55" height="3.4" fill="#bcc6dc"/><rect x="427.50" y="35.6" width="1.05" height="3.4" fill="#b8c0dc"/><rect x="428.50" y="35.6" width="1.05" height="3.4" fill="#c4cee0"/><rect x="429.50" y="35.6" width="3.05" height="3.4" fill="#c0cce0"/><rect x="432.50" y="35.6" width="1.05" height="3.4" fill="#bcc6dc"/><rect x="433.50" y="35.6" width="3.05" height="3.4" fill="#c8d2e2"/><rect x="436.50" y="35.6" width="3.05" height="3.4" fill="#b8c0dc"/><rect x="439.50" y="35.6" width="2.05" height="3.4" fill="#c8d2e2"/><rect x="441.50" y="35.6" width="1.55" height="3.4" fill="#b8c0dc"/><rect x="443.00" y="35.6" width="2.05" height="3.4" fill="#c0cce0"/><rect x="445.00" y="35.6" width="1.05" height="3.4" fill="#b4b8dc"/><rect x="446.00" y="35.6" width="1.55" height="3.4" fill="#c4cee0"/><rect x="447.50" y="35.6" width="3.05" height="3.4" fill="#c8d2e2"/><rect x="450.50" y="35.6" width="2.05" height="3.4" fill="#ccd4e4"/><rect x="452.50" y="35.6" width="2.05" height="3.4" fill="#c8d2e2"/><rect x="454.50" y="35.6" width="1.55" height="3.4" fill="#b8c0dc"/><rect x="456.00" y="35.6" width="1.55" height="3.4" fill="#c0cce0"/><rect x="457.50" y="35.6" width="1.05" height="3.4" fill="#bcc6dc"/><rect x="458.50" y="35.6" width="1.05" height="3.4" fill="#b4b8dc"/><rect x="459.50" y="35.6" width="3.05" height="3.4" fill="#b8c0dc"/><rect x="462.50" y="35.6" width="1.55" height="3.4" fill="#b8c0dc"/><rect x="464.00" y="35.6" width="2.05" height="3.4" fill="#b4b8dc"/><rect x="466.00" y="35.6" width="2.05" height="3.4" fill="#bcc6dc"/><rect x="468.00" y="35.6" width="1.05" height="3.4" fill="#ccd4e4"/><rect x="469.00" y="35.6" width="1.55" height="3.4" fill="#b4b8dc"/><rect x="470.50" y="35.6" width="3.05" height="3.4" fill="#c4cee0"/><rect x="473.50" y="35.6" width="2.05" height="3.4" fill="#b8c0dc"/><rect x="475.50" y="35.6" width="2.05" height="3.4" fill="#b4b8dc"/><rect x="477.50" y="35.6" width="3.05" height="3.4" fill="#b4b8dc"/><rect x="480.50" y="35.6" width="1.55" height="3.4" fill="#c8d2e2"/><rect x="482.00" y="35.6" width="1.55" height="3.4" fill="#ccd4e4"/><rect x="483.50" y="35.6" width="1.55" height="3.4" fill="#c0cce0"/><rect x="485.00" y="35.6" width="2.05" height="3.4" fill="#bcc6dc"/><rect x="487.00" y="35.6" width="3.05" height="3.4" fill="#c0cce0"/><rect x="490.00" y="35.6" width="1.05" height="3.4" fill="#bcc6dc"/><rect x="491.00" y="35.6" width="1.05" height="3.4" fill="#c4cee0"/><rect x="492.00" y="35.6" width="2.05" height="3.4" fill="#ccd4e4"/><rect x="494.00" y="35.6" width="2.05" height="3.4" fill="#bcc6dc"/><rect x="496.00" y="35.6" width="1.55" height="3.4" fill="#ccd4e4"/><rect x="497.50" y="35.6" width="3.05" height="3.4" fill="#b8c0dc"/><rect x="500.50" y="35.6" width="1.55" height="3.4" fill="#b8c0dc"/><rect x="502.00" y="35.6" width="1.05" height="3.4" fill="#c8d2e2"/><rect x="503.00" y="35.6" width="3.05" height="3.4" fill="#ccd4e4"/><rect x="506.00" y="35.6" width="1.55" height="3.4" fill="#ccd4e4"/><rect x="507.50" y="35.6" width="1.05" height="3.4" fill="#b4b8dc"/><rect x="508.50" y="35.6" width="3.05" height="3.4" fill="#b8c0dc"/><rect x="511.50" y="35.6" width="1.05" height="3.4" fill="#c0cce0"/><rect x="512.50" y="35.6" width="1.05" height="3.4" fill="#ccd4e4"/><rect x="513.50" y="35.6" width="1.55" height="3.4" fill="#bcc6dc"/><rect x="515.00" y="35.6" width="3.05" height="3.4" fill="#c8d2e2"/><rect x="518.00" y="35.6" width="1.05" height="3.4" fill="#b4b8dc"/><rect x="519.00" y="35.6" width="1.55" height="3.4" fill="#ccd4e4"/><rect x="520.50" y="35.6" width="3.05" height="3.4" fill="#c0cce0"/><rect x="523.50" y="35.6" width="1.05" height="3.4" fill="#bcc6dc"/><rect x="524.50" y="35.6" width="2.05" height="3.4" fill="#bcc6dc"/><rect x="526.50" y="35.6" width="2.05" height="3.4" fill="#b8c0dc"/><rect x="528.50" y="35.6" width="3.05" height="3.4" fill="#b8c0dc"/><rect x="531.50" y="35.6" width="1.05" height="3.4" fill="#ccd4e4"/><rect x="532.50" y="35.6" width="3.05" height="3.4" fill="#b4b8dc"/><rect x="535.50" y="35.6" width="1.05" height="3.4" fill="#b8c0dc"/><rect x="536.50" y="35.6" width="1.05" height="3.4" fill="#c8d2e2"/><rect x="537.50" y="35.6" width="1.55" height="3.4" fill="#c8d2e2"/><rect x="539.00" y="35.6" width="3.05" height="3.4" fill="#c4cee0"/><rect x="542.00" y="35.6" width="3.05" height="3.4" fill="#b8c0dc"/><rect x="545.00" y="35.6" width="1.05" height="3.4" fill="#c8d2e2"/><rect x="546.00" y="35.6" width="3.05" height="3.4" fill="#c8d2e2"/><rect x="549.00" y="35.6" width="2.05" height="3.4" fill="#b8c0dc"/><rect x="551.00" y="35.6" width="3.05" height="3.4" fill="#b8c0dc"/><rect x="554.00" y="35.6" width="2.05" height="3.4" fill="#bcc6dc"/><rect x="556.00" y="35.6" width="2.05" height="3.4" fill="#c8d2e2"/><rect x="558.00" y="35.6" width="0.45" height="3.4" fill="#b8c0dc"/><rect x="44" y="35.6" width="2" height="3.4" fill="#8c78b8"/>
<g><line x1="45.30" y1="10.30" x2="425.30" y2="10.30" stroke="#333" stroke-width="0.80"/><line x1="45.30" y1="10.30" x2="45.30" y2="25.50" stroke="#333" stroke-width="0.80"/><line x1="425.30" y1="10.30" x2="425.30" y2="18.10" stroke="#333" stroke-width="0.80"/><line x1="315.80" y1="18.10" x2="534.80" y2="18.10" stroke="#333" stroke-width="0.80"/><line x1="534.80" y1="18.10" x2="534.80" y2="18.70" stroke="#333" stroke-width="0.80"/><line x1="512.00" y1="18.70" x2="557.00" y2="18.70" stroke="#333" stroke-width="0.80"/><line x1="557.00" y1="18.70" x2="557.00" y2="22.20" stroke="#333" stroke-width="0.70"/><line x1="512.00" y1="18.70" x2="512.00" y2="22.20" stroke="#333" stroke-width="0.70"/><line x1="496.60" y1="22.20" x2="527.00" y2="22.20" stroke="#444" stroke-width="0.70"/><line x1="315.80" y1="18.10" x2="315.80" y2="21.40" stroke="#333" stroke-width="0.80"/><line x1="188.00" y1="21.40" x2="443.60" y2="21.40" stroke="#333" stroke-width="0.80"/><line x1="188.00" y1="21.40" x2="188.00" y2="23.40" stroke="#333" stroke-width="0.70"/><line x1="443.60" y1="21.40" x2="443.60" y2="22.30" stroke="#333" stroke-width="0.70"/><line x1="433.00" y1="22.30" x2="453.60" y2="22.30" stroke="#555" stroke-width="0.70"/><line x1="51.90" y1="23.40" x2="324.00" y2="23.40" stroke="#444" stroke-width="0.70"/><line x1="324.00" y1="23.40" x2="324.00" y2="23.90" stroke="#444" stroke-width="0.60"/><line x1="74.80" y1="23.10" x2="99.00" y2="23.10" stroke="#444" stroke-width="0.90"/><line x1="212.00" y1="23.80" x2="240.00" y2="23.80" stroke="#555" stroke-width="0.80"/><line x1="316.70" y1="23.60" x2="360.70" y2="23.60" stroke="#666" stroke-width="0.70"/><path d="M47.6 27.60V27.45H48.6V27.60M46.6 27.60V27.19H48.1V27.45M47.3 27.19V26.50H49.5V27.60M48.4 26.50V25.53H50.5V27.60M51.5 27.60V27.54H52.5V27.60M52.0 27.54V27.39H53.5V27.60M55.5 27.60V27.57H56.5V27.60M56.0 27.57V27.52H57.5V27.60M54.5 27.60V27.44H56.7V27.52M59.4 27.60V27.59H60.4V27.60M58.5 27.60V27.58H59.9V27.59M62.4 27.60V27.58H63.4V27.60M61.4 27.60V27.56H62.9V27.58M59.2 27.58V27.54H62.2V27.56M65.4 27.60V27.58H66.4V27.60M64.4 27.60V27.56H65.9V27.58M60.7 27.54V27.50H65.1V27.56M55.6 27.44V27.29H62.9V27.50M69.3 27.60V27.57H70.3V27.60M71.3 27.60V27.55H72.3V27.60M69.8 27.57V27.51H71.8V27.55M68.4 27.60V27.46H70.8V27.51M67.4 27.60V27.31H69.6V27.46M59.3 27.29V27.11H68.5V27.31M52.8 27.39V26.79H63.9V27.11M58.3 26.79V26.16H73.3V27.60M49.5 25.53V23.11H65.8V26.16M74.3 27.60V27.46H75.3V27.60M74.8 27.46V27.25H76.3V27.60M78.2 27.60V27.59H79.2V27.60M81.2 27.60V27.60H82.2V27.60M81.7 27.60V27.60H83.2V27.60M82.5 27.60V27.60H84.2V27.60M80.2 27.60V27.59H83.3V27.60M78.7 27.59V27.58H81.8V27.59M85.2 27.60V27.59H86.2V27.60M85.7 27.59V27.58H87.2V27.60M80.3 27.58V27.55H86.4V27.58M83.3 27.55V27.52H88.1V27.60M77.3 27.60V27.48H85.7V27.52M81.5 27.48V27.37H89.1V27.60M85.3 27.37V27.19H90.1V27.60M75.5 27.25V26.61H87.7V27.19M91.1 27.60V27.25H92.1V27.60M91.6 27.25V26.75H93.1V27.60M81.6 26.61V24.55H92.3V26.75M96.1 27.60V27.49H97.0V27.60M100.0 27.60V27.60H101.0V27.60M100.5 27.60V27.59H102.0V27.60M99.0 27.60V27.59H101.3V27.59M100.1 27.59V27.56H103.0V27.60M101.6 27.56V27.52H104.0V27.60M98.0 27.60V27.48H102.8V27.52M96.6 27.49V27.41H100.4V27.48M95.1 27.60V27.11H98.5V27.41M94.1 27.60V26.34H96.8V27.11M105.0 27.60V26.65H106.0V27.60M105.5 26.65V25.18H106.9V27.60M95.4 26.34V23.83H106.2V25.18M107.9 27.60V26.94H108.9V27.60M110.9 27.60V27.54H111.9V27.60M111.4 27.54V27.49H112.9V27.60M109.9 27.60V27.21H112.1V27.49M113.9 27.60V27.52H114.9V27.60M118.8 27.60V27.59H119.8V27.60M117.8 27.60V27.59H119.3V27.59M118.6 27.59V27.58H120.8V27.60M116.8 27.60V27.56H119.7V27.58M115.9 27.60V27.48H118.3V27.56M114.4 27.52V27.36H117.1V27.48M111.0 27.21V26.89H115.7V27.36M108.4 26.94V25.85H113.4V26.89M122.8 27.60V27.14H123.8V27.60M121.8 27.60V26.71H123.3V27.14M124.8 27.60V26.71H125.7V27.60M129.7 27.60V27.59H130.7V27.60M128.7 27.60V27.58H130.2V27.59M129.5 27.58V27.54H131.7V27.60M133.7 27.60V27.58H134.7V27.60M132.7 27.60V27.55H134.2V27.58M130.6 27.54V27.51H133.4V27.55M127.7 27.60V27.28H132.0V27.51M126.7 27.60V27.00H129.9V27.28M125.3 26.71V26.10H128.3V27.00M122.5 26.71V25.21H126.8V26.10M110.9 25.85V23.86H124.7V25.21M136.6 27.60V27.47H137.6V27.60M135.6 27.60V27.22H137.1V27.47M136.4 27.22V26.25H138.6V27.60M137.5 26.25V25.30H139.6V27.60M138.5 25.30V22.88H140.6V27.60M145.5 27.60V27.60H146.5V27.60M146.0 27.60V27.59H147.5V27.60M144.5 27.60V27.58H146.8V27.59M148.5 27.60V27.60H149.5V27.60M149.0 27.60V27.60H150.5V27.60M149.7 27.60V27.59H151.5V27.60M152.5 27.60V27.60H153.5V27.60M150.6 27.59V27.59H153.0V27.60M145.7 27.58V27.56H151.8V27.59M143.6 27.60V27.53H148.7V27.56M155.4 27.60V27.59H156.4V27.60M154.4 27.60V27.57H155.9V27.59M157.4 27.60V27.57H158.4V27.60M155.2 27.57V27.55H157.9V27.57M156.5 27.55V27.51H159.4V27.60M146.1 27.53V27.41H158.0V27.51M152.1 27.41V27.02H160.4V27.60M142.6 27.60V26.46H156.2V27.02M141.6 27.60V25.92H149.4V26.46M163.4 27.60V27.58H164.3V27.60M162.4 27.60V27.57H163.8V27.58M163.1 27.57V27.53H165.3V27.60M166.3 27.60V27.55H167.3V27.60M164.2 27.53V27.50H166.8V27.55M168.3 27.60V27.54H169.3V27.60M165.5 27.50V27.38H168.8V27.54M161.4 27.60V27.27H167.2V27.38M170.3 27.60V27.52H171.3V27.60M172.3 27.60V27.58H173.2V27.60M174.2 27.60V27.59H175.2V27.60M174.7 27.59V27.58H176.2V27.60M172.8 27.58V27.54H175.5V27.58M174.1 27.54V27.45H177.2V27.60M170.8 27.52V27.38H175.7V27.45M178.2 27.60V27.48H179.2V27.60M180.2 27.60V27.55H181.2V27.60M182.2 27.60V27.59H183.1V27.60M182.6 27.59V27.58H184.1V27.60M183.4 27.58V27.55H185.1V27.60M180.7 27.55V27.52H184.3V27.55M178.7 27.48V27.37H182.5V27.52M173.2 27.38V27.26H180.6V27.37M164.3 27.27V27.01H176.9V27.26M187.1 27.60V27.49H188.1V27.60M186.1 27.60V27.27H187.6V27.49M186.9 27.27V26.92H189.1V27.60M170.6 27.01V26.10H188.0V26.92M179.3 26.10V25.18H190.1V27.60M145.5 25.92V23.36H184.7V25.18M192.0 27.60V27.53H193.0V27.60M195.0 27.60V27.56H196.0V27.60M194.0 27.60V27.51H195.5V27.56M192.5 27.53V27.46H194.8V27.51M193.7 27.46V27.33H197.0V27.60M199.0 27.60V27.50H200.0V27.60M198.0 27.60V27.39H199.5V27.50M195.3 27.33V27.14H198.7V27.39M201.0 27.60V27.20H201.9V27.60M202.9 27.60V27.27H203.9V27.60M201.5 27.20V27.00H203.4V27.27M197.0 27.14V26.47H202.4V27.00M191.1 27.60V24.48H199.7V26.47M204.9 27.60V27.41H205.9V27.60M207.9 27.60V27.56H208.9V27.60M206.9 27.60V27.45H208.4V27.56M207.6 27.45V27.32H209.9V27.60M205.4 27.41V27.11H208.7V27.32M207.1 27.11V26.73H210.9V27.60M212.8 27.60V27.19H213.8V27.60M213.3 27.19V26.95H214.8V27.60M211.8 27.60V26.65H214.1V26.95M209.0 26.73V25.71H213.0V26.65M216.8 27.60V26.89H217.8V27.60M215.8 27.60V26.12H217.3V26.89M211.0 25.71V23.78H216.5V26.12M220.7 27.60V27.40H221.7V27.60M219.8 27.60V27.16H221.2V27.40M222.7 27.60V27.57H223.7V27.60M225.7 27.60V27.59H226.7V27.60M224.7 27.60V27.59H226.2V27.59M227.7 27.60V27.59H228.7V27.60M225.4 27.59V27.58H228.2V27.59M229.7 27.60V27.59H230.6V27.60M232.6 27.60V27.60H233.6V27.60M231.6 27.60V27.60H233.1V27.60M230.1 27.59V27.59H232.4V27.60M226.8 27.58V27.58H231.3V27.59M234.6 27.60V27.59H235.6V27.60M235.1 27.59V27.58H236.6V27.60M229.0 27.58V27.56H235.8V27.58M223.2 27.57V27.51H232.4V27.56M227.8 27.51V27.28H237.6V27.60M220.5 27.16V26.92H232.7V27.28M218.8 27.60V26.28H226.6V26.92M238.6 27.60V27.58H239.6V27.60M239.1 27.58V27.50H240.5V27.60M242.5 27.60V27.59H243.5V27.60M241.5 27.60V27.55H243.0V27.59M242.3 27.55V27.50H244.5V27.60M239.8 27.50V27.32H243.4V27.50M241.6 27.32V27.17H245.5V27.60M248.5 27.60V27.60H249.4V27.60M247.5 27.60V27.59H249.0V27.60M251.4 27.60V27.60H252.4V27.60M251.9 27.60V27.60H253.4V27.60M250.4 27.60V27.60H252.7V27.60M254.4 27.60V27.60H255.4V27.60M251.5 27.60V27.59H254.9V27.60M248.2 27.59V27.59H253.2V27.59M257.4 27.60V27.60H258.4V27.60M257.9 27.60V27.60H259.3V27.60M258.6 27.60V27.60H260.3V27.60M256.4 27.60V27.59H259.5V27.60M250.7 27.59V27.58H257.9V27.59M254.3 27.58V27.57H261.3V27.60M246.5 27.60V27.55H257.8V27.57M263.3 27.60V27.59H264.3V27.60M262.3 27.60V27.57H263.8V27.59M263.1 27.57V27.55H265.3V27.60M252.1 27.55V27.52H264.2V27.55M258.2 27.52V27.36H266.3V27.60M243.5 27.17V26.86H262.2V27.36M222.7 26.28V25.63H252.9V26.86M237.8 25.63V23.86H267.3V27.60M268.2 27.60V27.36H269.2V27.60M268.7 27.36V27.24H270.2V27.60M272.2 27.60V27.58H273.2V27.60M271.2 27.60V27.55H272.7V27.58M272.0 27.55V27.50H274.2V27.60M273.1 27.50V27.41H275.2V27.60M269.5 27.24V26.83H274.1V27.41M276.2 27.60V27.43H277.2V27.60M278.1 27.60V27.60H279.1V27.60M278.6 27.60V27.59H280.1V27.60M279.4 27.59V27.59H281.1V27.60M280.2 27.59V27.58H282.1V27.60M281.2 27.58V27.54H283.1V27.60M282.1 27.54V27.48H284.1V27.60M283.1 27.48V27.41H285.1V27.60M276.7 27.43V27.32H284.1V27.41M280.4 27.32V27.18H286.1V27.60M287.1 27.60V27.41H288.0V27.60M289.0 27.60V27.57H290.0V27.60M289.5 27.57V27.55H291.0V27.60M290.3 27.55V27.52H292.0V27.60M291.1 27.52V27.39H293.0V27.60M287.5 27.41V27.24H292.1V27.39M283.2 27.18V26.91H289.8V27.24M271.8 26.83V26.24H286.5V26.91M279.2 26.24V25.18H294.0V27.60M286.6 25.18V24.06H295.0V27.60M296.9 27.60V27.55H297.9V27.60M298.9 27.60V27.57H299.9V27.60M297.4 27.55V27.52H299.4V27.57M298.4 27.52V27.32H300.9V27.60M299.7 27.32V26.87H301.9V27.60M300.8 26.87V26.54H302.9V27.60M296.0 27.60V25.97H301.8V26.54M303.9 27.60V26.05H304.9V27.60M298.9 25.97V23.81H304.4V26.05M305.9 27.60V25.87H306.8V27.60M309.8 27.60V27.57H310.8V27.60M308.8 27.60V27.52H310.3V27.57M309.6 27.52V27.47H311.8V27.60M310.7 27.47V27.20H312.8V27.60M311.7 27.20V26.44H313.8V27.60M312.7 26.44V25.88H314.8V27.60M307.8 27.60V25.13H313.8V25.88M306.3 25.87V23.43H310.8V25.13M318.7 27.60V27.54H319.7V27.60M317.7 27.60V27.49H319.2V27.54M316.7 27.60V27.20H318.5V27.49M320.7 27.60V27.56H321.7V27.60M321.2 27.56V27.49H322.7V27.60M321.9 27.49V27.38H323.7V27.60M317.6 27.20V26.97H322.8V27.38M320.2 26.97V26.09H324.7V27.60M315.7 27.60V23.33H322.4V26.09M327.6 27.60V27.50H328.6V27.60M326.6 27.60V27.31H328.1V27.50M330.6 27.60V27.51H331.6V27.60M329.6 27.60V27.27H331.1V27.51M327.4 27.31V27.11H330.3V27.27M328.9 27.11V26.87H332.6V27.60M333.6 27.60V27.11H334.6V27.60M335.5 27.60V27.48H336.5V27.60M338.5 27.60V27.59H339.5V27.60M341.5 27.60V27.60H342.5V27.60M340.5 27.60V27.60H342.0V27.60M341.2 27.60V27.60H343.5V27.60M342.3 27.60V27.59H344.4V27.60M339.0 27.59V27.58H343.4V27.59M337.5 27.60V27.57H341.2V27.58M347.4 27.60V27.60H348.4V27.60M346.4 27.60V27.59H347.9V27.60M347.2 27.59V27.58H349.4V27.60M348.3 27.58V27.57H350.4V27.60M345.4 27.60V27.56H349.3V27.57M339.4 27.57V27.53H347.4V27.56M343.4 27.53V27.34H351.4V27.60M336.0 27.48V27.21H347.4V27.34M334.1 27.11V26.88H341.7V27.21M330.7 26.87V26.51H337.9V26.88M325.6 27.60V25.66H334.3V26.51M330.0 25.66V23.84H352.4V27.60M354.3 27.60V26.22H355.3V27.60M357.3 27.60V27.53H358.3V27.60M357.8 27.53V27.49H359.3V27.60M358.5 27.49V27.29H360.3V27.60M356.3 27.60V27.12H359.4V27.29M361.3 27.60V27.24H362.3V27.60M357.9 27.12V26.85H361.8V27.24M354.8 26.22V25.52H359.8V26.85M353.4 27.60V24.41H357.3V25.52M364.2 27.60V27.58H365.2V27.60M364.7 27.58V27.53H366.2V27.60M363.2 27.60V27.49H365.5V27.53M364.4 27.49V27.44H367.2V27.60M365.8 27.44V27.01H368.2V27.60M367.0 27.01V26.02H369.2V27.60M370.2 27.60V27.09H371.2V27.60M370.7 27.09V26.17H372.2V27.60M368.1 26.02V24.92H371.4V26.17M373.1 27.60V26.98H374.1V27.60M373.6 26.98V26.24H375.1V27.60M374.4 26.24V25.01H376.1V27.60M369.8 24.92V23.38H375.2V25.01M380.1 27.60V27.48H381.1V27.60M379.1 27.60V27.32H380.6V27.48M378.1 27.60V27.13H379.8V27.32M379.0 27.13V26.31H382.1V27.60M377.1 27.60V23.98H380.5V26.31M384.0 27.60V27.58H385.0V27.60M384.5 27.58V27.56H386.0V27.60M385.3 27.56V27.54H387.0V27.60M383.0 27.60V27.51H386.1V27.54M388.0 27.60V27.55H389.0V27.60M391.0 27.60V27.59H391.9V27.60M391.5 27.59V27.58H392.9V27.60M390.0 27.60V27.56H392.2V27.58M388.5 27.55V27.51H391.1V27.56M384.6 27.51V27.26H389.8V27.51M393.9 27.60V27.04H394.9V27.60M387.2 27.26V26.36H394.4V27.04M390.8 26.36V23.43H395.9V27.60M397.9 27.60V27.12H398.9V27.60M400.9 27.60V27.55H401.8V27.60M401.3 27.55V27.52H402.8V27.60M399.9 27.60V27.38H402.1V27.52M398.4 27.12V26.83H401.0V27.38M396.9 27.60V26.19H399.7V26.83M404.8 27.60V26.62H405.8V27.60M403.8 27.60V25.11H405.3V26.62M398.3 26.19V22.63H404.6V25.11M406.8 27.60V26.05H407.8V27.60M408.8 27.60V26.23H409.8V27.60M407.3 26.05V24.80H409.3V26.23M411.7 27.60V27.52H412.7V27.60M410.8 27.60V27.47H412.2V27.52M414.7 27.60V27.59H415.7V27.60M415.2 27.59V27.59H416.7V27.60M415.9 27.59V27.58H417.7V27.60M418.7 27.60V27.59H419.7V27.60M420.6 27.60V27.58H421.6V27.60M419.2 27.59V27.57H421.1V27.58M416.8 27.58V27.55H420.2V27.57M413.7 27.60V27.52H418.5V27.55M416.1 27.52V27.43H422.6V27.60M411.5 27.47V27.28H419.4V27.43M423.6 27.60V27.34H424.6V27.60M415.4 27.28V27.03H424.1V27.34M426.6 27.60V27.57H427.6V27.60M428.6 27.60V27.58H429.6V27.60M427.1 27.57V27.54H429.1V27.58M425.6 27.60V27.42H428.1V27.54M430.5 27.60V27.57H431.5V27.60M431.0 27.57V27.50H432.5V27.60M426.8 27.42V27.23H431.8V27.50M435.5 27.60V27.59H436.5V27.60M437.5 27.60V27.59H438.5V27.60M436.0 27.59V27.58H438.0V27.59M434.5 27.60V27.58H437.0V27.58M433.5 27.60V27.54H435.7V27.58M441.4 27.60V27.58H442.4V27.60M440.4 27.60V27.57H441.9V27.58M439.4 27.60V27.54H441.2V27.57M434.6 27.54V27.48H440.3V27.54M443.4 27.60V27.56H444.4V27.60M443.9 27.56V27.48H445.4V27.60M437.5 27.48V27.41H444.6V27.48M447.4 27.60V27.56H448.4V27.60M446.4 27.60V27.53H447.9V27.56M449.3 27.60V27.59H450.3V27.60M449.8 27.59V27.58H451.3V27.60M454.3 27.60V27.59H455.3V27.60M453.3 27.60V27.59H454.8V27.59M452.3 27.60V27.58H454.0V27.59M450.6 27.58V27.56H453.2V27.58M447.1 27.53V27.44H451.9V27.56M441.1 27.41V27.14H449.5V27.44M429.3 27.23V26.86H445.3V27.14M419.8 27.03V25.92H437.3V26.86M408.3 24.80V22.90H428.5V25.92M456.3 27.60V27.46H457.3V27.60M459.2 27.60V27.59H460.2V27.60M459.7 27.59V27.55H461.2V27.60M462.2 27.60V27.60H463.2V27.60M462.7 27.60V27.59H464.2V27.60M463.4 27.59V27.58H465.2V27.60M464.3 27.58V27.54H466.2V27.60M460.5 27.55V27.50H465.2V27.54M458.3 27.60V27.31H462.9V27.50M456.8 27.46V27.16H460.6V27.31M467.2 27.60V27.59H468.1V27.60M467.7 27.59V27.58H469.1V27.60M468.4 27.58V27.55H470.1V27.60M472.1 27.60V27.59H473.1V27.60M471.1 27.60V27.58H472.6V27.59M471.9 27.58V27.54H474.1V27.60M469.3 27.55V27.48H473.0V27.54M476.1 27.60V27.58H477.1V27.60M475.1 27.60V27.54H476.6V27.58M475.8 27.54V27.50H478.0V27.60M471.1 27.48V27.19H476.9V27.50M458.7 27.16V26.53H474.0V27.19M481.0 27.60V27.60H482.0V27.60M480.0 27.60V27.60H481.5V27.60M480.8 27.60V27.58H483.0V27.60M481.9 27.58V27.56H484.0V27.60M482.9 27.56V27.44H485.0V27.60M486.0 27.60V27.59H486.9V27.60M486.5 27.59V27.56H487.9V27.60M487.2 27.56V27.47H488.9V27.60M489.9 27.60V27.48H490.9V27.60M488.1 27.47V27.41H490.4V27.48M483.9 27.44V27.08H489.2V27.41M479.0 27.60V26.11H486.6V27.08M466.3 26.53V24.23H482.8V26.11M492.9 27.60V27.56H493.9V27.60M493.4 27.56V27.51H494.9V27.60M496.8 27.60V27.58H497.8V27.60M495.9 27.60V27.54H497.3V27.58M499.8 27.60V27.60H500.8V27.60M498.8 27.60V27.60H500.3V27.60M501.8 27.60V27.60H502.8V27.60M499.6 27.60V27.59H502.3V27.60M504.8 27.60V27.60H505.8V27.60M505.3 27.60V27.60H506.7V27.60M503.8 27.60V27.59H506.0V27.60M500.9 27.59V27.58H504.9V27.59M502.9 27.58V27.56H507.7V27.60M496.6 27.54V27.52H505.3V27.56M494.1 27.51V27.33H501.0V27.52M497.5 27.33V27.18H508.7V27.60M491.9 27.60V26.92H503.1V27.18M510.7 27.60V27.41H511.7V27.60M511.2 27.41V27.25H512.7V27.60M509.7 27.60V26.61H511.9V27.25M497.5 26.92V25.82H510.8V26.61M513.7 27.60V26.96H514.7V27.60M514.2 26.96V26.60H515.6V27.60M504.2 25.82V25.04H514.9V26.60M517.6 27.60V26.41H518.6V27.60M516.6 27.60V25.31H518.1V26.41M509.5 25.04V23.31H517.4V25.31M519.6 27.60V26.67H520.6V27.60M521.6 27.60V27.24H522.6V27.60M520.1 26.67V26.26H522.1V27.24M524.6 27.60V27.45H525.5V27.60M523.6 27.60V27.27H525.0V27.45M527.5 27.60V27.53H528.5V27.60M526.5 27.60V27.45H528.0V27.53M532.5 27.60V27.60H533.5V27.60M533.0 27.60V27.60H534.4V27.60M531.5 27.60V27.60H533.7V27.60M530.5 27.60V27.59H532.6V27.60M535.4 27.60V27.59H536.4V27.60M531.5 27.59V27.59H535.9V27.59M529.5 27.60V27.57H533.7V27.59M539.4 27.60V27.59H540.4V27.60M538.4 27.60V27.59H539.9V27.59M537.4 27.60V27.55H539.2V27.59M531.6 27.57V27.50H538.3V27.55M527.3 27.45V27.32H535.0V27.50M524.3 27.27V26.83H531.1V27.32M521.1 26.26V24.66H527.7V26.83M544.3 27.60V27.49H545.3V27.60M543.4 27.60V27.37H544.8V27.49M542.4 27.60V27.26H544.1V27.37M541.4 27.60V26.69H543.2V27.26M542.3 26.69V25.26H546.3V27.60M524.4 24.66V22.81H544.3V25.26M549.3 27.60V27.57H550.3V27.60M549.8 27.57V27.49H551.3V27.60M548.3 27.60V27.27H550.5V27.49M547.3 27.60V26.72H549.4V27.27M548.4 26.72V24.38H552.3V27.60M554.2 27.60V27.28H555.2V27.60M554.7 27.28V26.44H556.2V27.60M557.2 27.60V26.33H558.2V27.60M555.5 26.44V25.75H557.7V26.33M553.3 27.60V23.19H556.6V25.75M44.6 27.60V25.50H45.6V27.60" fill="none" stroke="#000" stroke-width="0.5"/></g>
<text x="2.4" y="12.8" font-size="14.6" font-family="Liberation Sans, sans-serif" fill="#000" stroke="#000" stroke-width="0.25">A</text>
<text x="2.2" y="166.6" font-size="14.8" font-family="Liberation Sans, sans-serif" fill="#000" stroke="#000" stroke-width="0.25">B</text>
<text x="332.3" y="170.8" font-size="14.8" font-family="Liberation Sans, sans-serif" fill="#000" stroke="#000" stroke-width="0.25">C</text>
<text x="560.1" y="30.3" font-size="3.15" font-weight="bold" font-family="Liberation Sans, sans-serif" fill="#000" stroke="#000" stroke-width="0.12">Cluster</text>
<text x="560.1" y="34.3" font-size="3.15" font-weight="bold" font-family="Liberation Sans, sans-serif" fill="#000" stroke="#000" stroke-width="0.12">RiskType</text>
<text x="560.1" y="38.2" font-size="3.15" font-weight="bold" font-family="Liberation Sans, sans-serif" fill="#000" stroke="#000" stroke-width="0.12">RiskScore</text>
<text x="559.9" y="46.70" font-size="4.36" font-family="Liberation Sans, sans-serif" fill="#111" stroke="#111" stroke-width="0.1">KEGG_JAK_STAT_SIGNALING_PATHWAY</text>
<text x="559.9" y="58.10" font-size="4.36" font-family="Liberation Sans, sans-serif" fill="#111" stroke="#111" stroke-width="0.1">KEGG_VASCULAR_SMOOTH_MUSCLE_CONTRACTION</text>
<text x="559.9" y="69.50" font-size="4.36" font-family="Liberation Sans, sans-serif" fill="#111" stroke="#111" stroke-width="0.1">KEGG_NEUROACTIVE_LIGAND_RECEPTOR_INTERACTION</text>
<text x="559.9" y="81.00" font-size="4.36" font-family="Liberation Sans, sans-serif" fill="#111" stroke="#111" stroke-width="0.1">KEGG_CALCIUM_SIGNALING_PATHWAY</text>
<text x="559.9" y="92.65" font-size="4.36" font-family="Liberation Sans, sans-serif" fill="#111" stroke="#111" stroke-width="0.1">KEGG_PATHWAYS_IN_CANCER</text>
<text x="559.9" y="104.10" font-size="4.36" font-family="Liberation Sans, sans-serif" fill="#111" stroke="#111" stroke-width="0.1">KEGG_MELANOMA</text>
<text x="559.9" y="115.55" font-size="4.36" font-family="Liberation Sans, sans-serif" fill="#111" stroke="#111" stroke-width="0.1">KEGG_SPLICEOSOME</text>
<text x="559.9" y="127.10" font-size="4.36" font-family="Liberation Sans, sans-serif" fill="#111" stroke="#111" stroke-width="0.1">KEGG_ANTIGEN_PROCESSING_AND_PRESENTATION</text>
<text x="559.9" y="138.45" font-size="4.36" font-family="Liberation Sans, sans-serif" fill="#111" stroke="#111" stroke-width="0.1">KEGG_PRION_DISEASES</text>
<text x="559.9" y="149.80" font-size="4.36" font-family="Liberation Sans, sans-serif" fill="#111" stroke="#111" stroke-width="0.1">KEGG_CYTOKINE_CYTOKINE_RECEPTOR_INTERACTION</text>
<defs><linearGradient id="cb" x1="0" y1="0" x2="0" y2="1"><stop offset="0" stop-color="#d73027"/><stop offset="0.17" stop-color="#f46d43"/><stop offset="0.33" stop-color="#fdcf8a"/><stop offset="0.5" stop-color="#ffffe0"/><stop offset="0.67" stop-color="#c6dbef"/><stop offset="0.83" stop-color="#6f9cc9"/><stop offset="1" stop-color="#3a66a8"/></linearGradient></defs>
<rect x="2.2" y="19.8" width="3.9" height="59" fill="url(#cb)"/>
<text x="7.6" y="21.5" font-size="4.4" font-family="Liberation Sans, sans-serif" fill="#222" class="s" stroke="#222">3</text>
<text x="7.6" y="31.3" font-size="4.4" font-family="Liberation Sans, sans-serif" fill="#222" class="s" stroke="#222">2</text>
<text x="7.6" y="41.1" font-size="4.4" font-family="Liberation Sans, sans-serif" fill="#222" class="s" stroke="#222">1</text>
<text x="7.6" y="50.8" font-size="4.4" font-family="Liberation Sans, sans-serif" fill="#222" class="s" stroke="#222">0</text>
<text x="7.6" y="60.6" font-size="4.4" font-family="Liberation Sans, sans-serif" fill="#222" class="s" stroke="#222">−1</text>
<text x="7.6" y="70.3" font-size="4.4" font-family="Liberation Sans, sans-serif" fill="#222" class="s" stroke="#222">−2</text>
<text x="7.6" y="80.0" font-size="4.4" font-family="Liberation Sans, sans-serif" fill="#222" class="s" stroke="#222">−3</text>
<text x="13.9" y="23.1" font-size="3.85" font-weight="bold" font-family="Liberation Sans, sans-serif" fill="#222" class="s" stroke="#222">Cluster</text>
<rect x="13.9" y="24.5" width="5.4" height="4.9" fill="#f0a0a0"/>
<rect x="13.9" y="29.4" width="5.4" height="4.9" fill="#4fc4cf"/>
<text x="20.4" y="28.5" font-size="3.87" font-family="Liberation Sans, sans-serif" fill="#333" class="s" stroke="#333">Cluster1</text>
<text x="20.4" y="33.4" font-size="3.87" font-family="Liberation Sans, sans-serif" fill="#333" class="s" stroke="#333">Cluster2</text>
<text x="13.9" y="42.4" font-size="3.85" font-weight="bold" font-family="Liberation Sans, sans-serif" fill="#222" class="s" stroke="#222">RiskType</text>
<rect x="13.9" y="44" width="5.4" height="4.7" fill="#c4a0d8"/>
<rect x="13.9" y="48.7" width="5.4" height="4.7" fill="#8cc63e"/>
<text x="20.4" y="47.9" font-size="3.87" font-family="Liberation Sans, sans-serif" fill="#333" class="s" stroke="#333">Risk−H</text>
<text x="20.4" y="52.6" font-size="3.87" font-family="Liberation Sans, sans-serif" fill="#333" class="s" stroke="#333">Risk−L</text>
<text x="13.9" y="62.3" font-size="3.85" font-weight="bold" font-family="Liberation Sans, sans-serif" fill="#222" class="s" stroke="#222">RiskScore</text>
<rect x="13.9" y="64.0" width="5.4" height="5.55" fill="#7b52a8"/>
<rect x="13.9" y="69.5" width="5.4" height="5.55" fill="#a39ad0"/>
<rect x="13.9" y="75.0" width="5.4" height="5.55" fill="#c6d2ea"/>
<rect x="13.9" y="80.5" width="5.4" height="5.55" fill="#eaf0f5"/>
<text x="20.4" y="68.3" font-size="3.87" font-family="Liberation Sans, sans-serif" fill="#333" class="s" stroke="#333">−15</text>
<text x="20.4" y="85.1" font-size="3.87" font-family="Liberation Sans, sans-serif" fill="#333" class="s" stroke="#333">−20</text>
<text x="13.9" y="93.6" font-size="3.85" font-weight="bold" font-family="Liberation Sans, sans-serif" fill="#222" class="s" stroke="#222">Correlation</text>
<rect x="13.9" y="94.8" width="5.4" height="5.55" fill="#1f9e5a"/>
<rect x="13.9" y="100.3" width="5.4" height="5.55" fill="#5ab98f"/>
<rect x="13.9" y="105.8" width="5.4" height="5.55" fill="#a8dbd6"/>
<rect x="13.9" y="111.3" width="5.4" height="5.55" fill="#e6f2f2"/>
<text x="20.4" y="98.6" font-size="3.87" font-family="Liberation Sans, sans-serif" fill="#333" class="s" stroke="#333">0.3</text>
<text x="20.4" y="116" font-size="3.87" font-family="Liberation Sans, sans-serif" fill="#333" class="s" stroke="#333">−0.3</text>
<rect x="36.30" y="171.30" width="194.00" height="45.10" fill="none" stroke="#666" stroke-width="0.95"/>
<circle cx="43.00" cy="215.20" r="0.6" fill="#3a78b5"/>
<circle cx="43.40" cy="213.90" r="0.6" fill="#3a78b5"/>
<polyline points="43.90,211.50 45.40,209.00 47.40,207.50 49.80,206.10 54.70,204.90 59.60,203.60 64.50,202.40 69.40,201.40 74.30,200.70 79.20,199.70 84.10,199.00 89.00,198.50 100.00,198.00 110.00,197.30 120.00,196.70 132.70,195.80" fill="none" stroke="#3a78b5" stroke-width="1.2" stroke-linecap="round" stroke-linejoin="round"/>
<polyline points="132.70,195.80 145.00,194.80 160.00,193.20 170.20,191.90 180.40,190.60 190.60,189.50 200.90,188.40 207.00,187.70 211.10,186.80 215.20,185.80 218.20,184.90 219.80,183.70 221.30,181.60" fill="none" stroke="#d62d2d" stroke-width="1.2" stroke-linecap="round" stroke-linejoin="round"/>
<circle cx="221.80" cy="180.20" r="0.6" fill="#d62d2d"/>
<circle cx="222.30" cy="177.80" r="0.6" fill="#d62d2d"/>
<circle cx="222.60" cy="175.50" r="0.6" fill="#d62d2d"/>
<circle cx="223.00" cy="173.50" r="0.6" fill="#d62d2d"/>
<circle cx="223.30" cy="172.20" r="0.6" fill="#d62d2d"/>
<line x1="42.80" y1="216.40" x2="42.80" y2="218.00" stroke="#666" stroke-width="0.5"/>
<text x="42.80" y="222.80" font-size="3.10" text-anchor="middle" font-family="Liberation Sans, sans-serif" fill="#444" class="s" stroke="#444">0</text>
<line x1="77.15" y1="216.40" x2="77.15" y2="218.00" stroke="#666" stroke-width="0.5"/>
<text x="77.15" y="222.80" font-size="3.10" text-anchor="middle" font-family="Liberation Sans, sans-serif" fill="#444" class="s" stroke="#444">100</text>
<line x1="111.50" y1="216.40" x2="111.50" y2="218.00" stroke="#666" stroke-width="0.5"/>
<text x="111.50" y="222.80" font-size="3.10" text-anchor="middle" font-family="Liberation Sans, sans-serif" fill="#444" class="s" stroke="#444">200</text>
<line x1="145.85" y1="216.40" x2="145.85" y2="218.00" stroke="#666" stroke-width="0.5"/>
<text x="145.85" y="222.80" font-size="3.10" text-anchor="middle" font-family="Liberation Sans, sans-serif" fill="#444" class="s" stroke="#444">300</text>
<line x1="180.20" y1="216.40" x2="180.20" y2="218.00" stroke="#666" stroke-width="0.5"/>
<text x="180.20" y="222.80" font-size="3.10" text-anchor="middle" font-family="Liberation Sans, sans-serif" fill="#444" class="s" stroke="#444">400</text>
<line x1="214.55" y1="216.40" x2="214.55" y2="218.00" stroke="#666" stroke-width="0.5"/>
<text x="214.55" y="222.80" font-size="3.10" text-anchor="middle" font-family="Liberation Sans, sans-serif" fill="#444" class="s" stroke="#444">500</text>
<line x1="34.70" y1="173.90" x2="36.30" y2="173.90" stroke="#666" stroke-width="0.5"/>
<text x="31.20" y="173.90" font-size="3.00" text-anchor="middle" transform="rotate(-90 31.20 173.90)" font-family="Liberation Sans, sans-serif" fill="#444" class="s" stroke="#444">−10</text>
<line x1="34.70" y1="181.60" x2="36.30" y2="181.60" stroke="#666" stroke-width="0.5"/>
<text x="31.20" y="181.60" font-size="3.00" text-anchor="middle" transform="rotate(-90 31.20 181.60)" font-family="Liberation Sans, sans-serif" fill="#444" class="s" stroke="#444">−12</text>
<line x1="34.70" y1="189.30" x2="36.30" y2="189.30" stroke="#666" stroke-width="0.5"/>
<text x="31.20" y="189.30" font-size="3.00" text-anchor="middle" transform="rotate(-90 31.20 189.30)" font-family="Liberation Sans, sans-serif" fill="#444" class="s" stroke="#444">−14</text>
<line x1="34.70" y1="197.00" x2="36.30" y2="197.00" stroke="#666" stroke-width="0.5"/>
<text x="31.20" y="197.00" font-size="3.00" text-anchor="middle" transform="rotate(-90 31.20 197.00)" font-family="Liberation Sans, sans-serif" fill="#444" class="s" stroke="#444">−16</text>
<line x1="34.70" y1="204.70" x2="36.30" y2="204.70" stroke="#666" stroke-width="0.5"/>
<text x="31.20" y="204.70" font-size="3.00" text-anchor="middle" transform="rotate(-90 31.20 204.70)" font-family="Liberation Sans, sans-serif" fill="#444" class="s" stroke="#444">−18</text>
<line x1="34.70" y1="212.40" x2="36.30" y2="212.40" stroke="#666" stroke-width="0.5"/>
<text x="31.20" y="212.40" font-size="3.00" text-anchor="middle" transform="rotate(-90 31.20 212.40)" font-family="Liberation Sans, sans-serif" fill="#444" class="s" stroke="#444">−20</text>
<text x="25.90" y="193.85" font-size="3.00" text-anchor="middle" transform="rotate(-90 25.90 193.85)" font-family="Liberation Sans, sans-serif" fill="#444" class="s" stroke="#444">RiskScore</text>
<rect x="36.30" y="171.30" width="18.80" height="9.30" fill="none" stroke="#555" stroke-width="0.70"/>
<circle cx="37.20" cy="173.40" r="0.75" fill="#3a78b5"/>
<circle cx="37.20" cy="178.00" r="0.75" fill="#d62d2d"/>
<text x="40.30" y="175.30" font-size="4.25" text-anchor="start" font-family="Liberation Sans, sans-serif" fill="#111" class="s" stroke="#111">Risk−L</text>
<text x="40.30" y="179.80" font-size="4.25" text-anchor="start" font-family="Liberation Sans, sans-serif" fill="#111" class="s" stroke="#111">Risk−H</text>
<rect x="202.60" y="206.80" width="27.70" height="9.60" fill="none" stroke="#666" stroke-width="0.80"/>
<text x="203.80" y="211.50" font-size="4.60" text-anchor="start" font-family="Liberation Sans, sans-serif" fill="#111" class="s" stroke="#111">Cor 0.37524</text>
<text x="203.80" y="215.70" font-size="4.60" text-anchor="start" font-family="Liberation Sans, sans-serif" fill="#111" class="s" stroke="#111">P<0.001</text>
<rect x="36.10" y="245.10" width="194.30" height="46.20" fill="none" stroke="#666" stroke-width="0.95"/>
<g><rect x="60.0" y="246.9" width="1.35" height="1.2" fill="#000"/><rect x="69.5" y="246.9" width="1.35" height="1.2" fill="#000"/><rect x="82.5" y="246.9" width="1.35" height="1.2" fill="#000"/><rect x="86.0" y="246.9" width="1.35" height="1.2" fill="#000"/><rect x="113.5" y="246.9" width="1.35" height="1.2" fill="#000"/><rect x="139.0" y="246.9" width="1.35" height="1.2" fill="#000"/><rect x="161.0" y="246.9" width="1.35" height="1.2" fill="#000"/><rect x="163.5" y="246.9" width="1.35" height="1.2" fill="#000"/><rect x="166.0" y="246.9" width="1.35" height="1.2" fill="#000"/><rect x="167.5" y="246.9" width="1.35" height="1.2" fill="#000"/><rect x="169.0" y="246.9" width="1.35" height="1.2" fill="#000"/><rect x="171.0" y="246.9" width="1.35" height="1.2" fill="#000"/><rect x="176.0" y="246.9" width="1.35" height="1.2" fill="#000"/><rect x="179.5" y="246.9" width="1.35" height="1.2" fill="#000"/><rect x="195.5" y="246.9" width="1.35" height="1.2" fill="#000"/><rect x="198.5" y="246.9" width="1.35" height="1.2" fill="#000"/><rect x="206.0" y="246.9" width="1.35" height="1.2" fill="#000"/><rect x="207.5" y="246.9" width="1.35" height="1.2" fill="#000"/><rect x="212.0" y="246.9" width="1.35" height="1.2" fill="#000"/><rect x="215.0" y="246.9" width="1.35" height="1.2" fill="#000"/><rect x="134.0" y="248.9" width="1.35" height="1.2" fill="#000"/><rect x="167.0" y="248.9" width="1.35" height="1.2" fill="#000"/><rect x="207.0" y="248.9" width="1.35" height="1.2" fill="#000"/><rect x="52.5" y="251.9" width="1.35" height="1.2" fill="#000"/><rect x="57.0" y="251.9" width="1.35" height="1.2" fill="#000"/><rect x="163.0" y="251.9" width="1.35" height="1.2" fill="#000"/><rect x="192.5" y="251.9" width="1.35" height="1.2" fill="#000"/><rect x="200.5" y="251.9" width="1.35" height="1.2" fill="#000"/><rect x="43.5" y="258.9" width="1.35" height="1.2" fill="#000"/><rect x="45.0" y="258.9" width="1.35" height="1.2" fill="#000"/><rect x="46.5" y="258.9" width="1.35" height="1.2" fill="#000"/><rect x="49.0" y="258.9" width="1.35" height="1.2" fill="#000"/><rect x="50.0" y="258.9" width="1.35" height="1.2" fill="#000"/><rect x="51.5" y="258.9" width="1.35" height="1.2" fill="#000"/><rect x="54.0" y="258.9" width="1.35" height="1.2" fill="#000"/><rect x="59.5" y="258.9" width="1.35" height="1.2" fill="#000"/><rect x="74.0" y="258.9" width="1.35" height="1.2" fill="#000"/><rect x="80.0" y="258.9" width="1.35" height="1.2" fill="#000"/><rect x="81.0" y="258.9" width="1.35" height="1.2" fill="#000"/><rect x="82.5" y="258.9" width="1.35" height="1.2" fill="#000"/><rect x="85.0" y="258.9" width="1.35" height="1.2" fill="#000"/><rect x="88.5" y="258.9" width="1.35" height="1.2" fill="#000"/><rect x="89.0" y="258.9" width="1.35" height="1.2" fill="#000"/><rect x="101.0" y="258.9" width="1.35" height="1.2" fill="#000"/><rect x="102.5" y="258.9" width="1.35" height="1.2" fill="#000"/><rect x="109.0" y="258.9" width="1.35" height="1.2" fill="#000"/><rect x="110.0" y="258.9" width="1.35" height="1.2" fill="#000"/><rect x="111.5" y="258.9" width="1.35" height="1.2" fill="#000"/><rect x="113.0" y="258.9" width="1.35" height="1.2" fill="#000"/><rect x="117.0" y="258.9" width="1.35" height="1.2" fill="#000"/><rect x="118.0" y="258.9" width="1.35" height="1.2" fill="#000"/><rect x="126.0" y="258.9" width="1.35" height="1.2" fill="#000"/><rect x="130.0" y="258.9" width="1.35" height="1.2" fill="#000"/><rect x="136.5" y="258.9" width="1.35" height="1.2" fill="#000"/><rect x="139.5" y="258.9" width="1.35" height="1.2" fill="#000"/><rect x="144.0" y="258.9" width="1.35" height="1.2" fill="#000"/><rect x="146.0" y="258.9" width="1.35" height="1.2" fill="#000"/><rect x="147.5" y="258.9" width="1.35" height="1.2" fill="#000"/><rect x="148.0" y="258.9" width="1.35" height="1.2" fill="#000"/><rect x="151.5" y="258.9" width="1.35" height="1.2" fill="#000"/><rect x="154.5" y="258.9" width="1.35" height="1.2" fill="#000"/><rect x="158.0" y="258.9" width="1.35" height="1.2" fill="#000"/><rect x="161.0" y="258.9" width="1.35" height="1.2" fill="#000"/><rect x="162.0" y="258.9" width="1.35" height="1.2" fill="#000"/><rect x="163.5" y="258.9" width="1.35" height="1.2" fill="#000"/><rect x="164.0" y="258.9" width="1.35" height="1.2" fill="#000"/><rect x="167.0" y="258.9" width="1.35" height="1.2" fill="#000"/><rect x="170.0" y="258.9" width="1.35" height="1.2" fill="#000"/><rect x="172.0" y="258.9" width="1.35" height="1.2" fill="#000"/><rect x="175.0" y="258.9" width="1.35" height="1.2" fill="#000"/><rect x="176.0" y="258.9" width="1.35" height="1.2" fill="#000"/><rect x="177.0" y="258.9" width="1.35" height="1.2" fill="#000"/><rect x="182.5" y="258.9" width="1.35" height="1.2" fill="#000"/><rect x="183.5" y="258.9" width="1.35" height="1.2" fill="#000"/><rect x="186.5" y="258.9" width="1.35" height="1.2" fill="#000"/><rect x="188.0" y="258.9" width="1.35" height="1.2" fill="#000"/><rect x="189.5" y="258.9" width="1.35" height="1.2" fill="#000"/><rect x="190.0" y="258.9" width="1.35" height="1.2" fill="#000"/><rect x="191.0" y="258.9" width="1.35" height="1.2" fill="#000"/><rect x="191.5" y="258.9" width="1.35" height="1.2" fill="#000"/><rect x="193.5" y="258.9" width="1.35" height="1.2" fill="#000"/><rect x="193.5" y="258.9" width="1.35" height="1.2" fill="#000"/><rect x="195.0" y="258.9" width="1.35" height="1.2" fill="#000"/><rect x="202.0" y="258.9" width="1.35" height="1.2" fill="#000"/><rect x="205.0" y="258.9" width="1.35" height="1.2" fill="#000"/><rect x="206.5" y="258.9" width="1.35" height="1.2" fill="#000"/><rect x="207.5" y="258.9" width="1.35" height="1.2" fill="#000"/><rect x="208.0" y="258.9" width="1.35" height="1.2" fill="#000"/><rect x="210.0" y="258.9" width="1.35" height="1.2" fill="#000"/><rect x="211.5" y="258.9" width="1.35" height="1.2" fill="#000"/><rect x="213.0" y="258.9" width="1.35" height="1.2" fill="#000"/><rect x="216.5" y="258.9" width="1.35" height="1.2" fill="#000"/><rect x="220.0" y="258.9" width="1.35" height="1.2" fill="#000"/><rect x="223.0" y="258.9" width="1.35" height="1.2" fill="#000"/><rect x="44.5" y="260.9" width="1.35" height="1.2" fill="#000"/><rect x="46.0" y="260.9" width="1.35" height="1.2" fill="#000"/><rect x="47.0" y="260.9" width="1.35" height="1.2" fill="#000"/><rect x="48.0" y="260.9" width="1.35" height="1.2" fill="#000"/><rect x="54.0" y="260.9" width="1.35" height="1.2" fill="#000"/><rect x="61.5" y="260.9" width="1.35" height="1.2" fill="#000"/><rect x="68.5" y="260.9" width="1.35" height="1.2" fill="#000"/><rect x="71.5" y="260.9" width="1.35" height="1.2" fill="#000"/><rect x="72.5" y="260.9" width="1.35" height="1.2" fill="#000"/><rect x="79.0" y="260.9" width="1.35" height="1.2" fill="#000"/><rect x="84.0" y="260.9" width="1.35" height="1.2" fill="#000"/><rect x="93.5" y="260.9" width="1.35" height="1.2" fill="#000"/><rect x="97.0" y="260.9" width="1.35" height="1.2" fill="#000"/><rect x="100.0" y="260.9" width="1.35" height="1.2" fill="#000"/><rect x="102.5" y="260.9" width="1.35" height="1.2" fill="#000"/><rect x="105.5" y="260.9" width="1.35" height="1.2" fill="#000"/><rect x="109.5" y="260.9" width="1.35" height="1.2" fill="#000"/><rect x="115.5" y="260.9" width="1.35" height="1.2" fill="#000"/><rect x="118.0" y="260.9" width="1.35" height="1.2" fill="#000"/><rect x="120.0" y="260.9" width="1.35" height="1.2" fill="#000"/><rect x="130.0" y="260.9" width="1.35" height="1.2" fill="#000"/><rect x="131.0" y="260.9" width="1.35" height="1.2" fill="#000"/><rect x="137.0" y="260.9" width="1.35" height="1.2" fill="#000"/><rect x="140.5" y="260.9" width="1.35" height="1.2" fill="#000"/><rect x="143.0" y="260.9" width="1.35" height="1.2" fill="#000"/><rect x="143.5" y="260.9" width="1.35" height="1.2" fill="#000"/><rect x="146.5" y="260.9" width="1.35" height="1.2" fill="#000"/><rect x="154.0" y="260.9" width="1.35" height="1.2" fill="#000"/><rect x="155.0" y="260.9" width="1.35" height="1.2" fill="#000"/><rect x="156.5" y="260.9" width="1.35" height="1.2" fill="#000"/><rect x="160.0" y="260.9" width="1.35" height="1.2" fill="#000"/><rect x="161.0" y="260.9" width="1.35" height="1.2" fill="#000"/><rect x="165.0" y="260.9" width="1.35" height="1.2" fill="#000"/><rect x="174.0" y="260.9" width="1.35" height="1.2" fill="#000"/><rect x="178.0" y="260.9" width="1.35" height="1.2" fill="#000"/><rect x="179.5" y="260.9" width="1.35" height="1.2" fill="#000"/><rect x="181.5" y="260.9" width="1.35" height="1.2" fill="#000"/><rect x="182.0" y="260.9" width="1.35" height="1.2" fill="#000"/><rect x="182.5" y="260.9" width="1.35" height="1.2" fill="#000"/><rect x="184.0" y="260.9" width="1.35" height="1.2" fill="#000"/><rect x="185.0" y="260.9" width="1.35" height="1.2" fill="#000"/><rect x="189.5" y="260.9" width="1.35" height="1.2" fill="#000"/><rect x="190.5" y="260.9" width="1.35" height="1.2" fill="#000"/><rect x="192.0" y="260.9" width="1.35" height="1.2" fill="#000"/><rect x="193.5" y="260.9" width="1.35" height="1.2" fill="#000"/><rect x="195.5" y="260.9" width="1.35" height="1.2" fill="#000"/><rect x="197.0" y="260.9" width="1.35" height="1.2" fill="#000"/><rect x="199.5" y="260.9" width="1.35" height="1.2" fill="#000"/><rect x="201.0" y="260.9" width="1.35" height="1.2" fill="#000"/><rect x="203.5" y="260.9" width="1.35" height="1.2" fill="#000"/><rect x="204.5" y="260.9" width="1.35" height="1.2" fill="#000"/><rect x="208.0" y="260.9" width="1.35" height="1.2" fill="#000"/><rect x="208.5" y="260.9" width="1.35" height="1.2" fill="#000"/><rect x="212.0" y="260.9" width="1.35" height="1.2" fill="#000"/><rect x="216.5" y="260.9" width="1.35" height="1.2" fill="#000"/><rect x="221.0" y="260.9" width="1.35" height="1.2" fill="#000"/><rect x="222.5" y="260.9" width="1.35" height="1.2" fill="#000"/><rect x="223.5" y="260.9" width="1.35" height="1.2" fill="#000"/><rect x="43.5" y="263.9" width="1.35" height="1.2" fill="#000"/><rect x="48.5" y="263.9" width="1.35" height="1.2" fill="#000"/><rect x="50.5" y="263.9" width="1.35" height="1.2" fill="#000"/><rect x="54.0" y="263.9" width="1.35" height="1.2" fill="#000"/><rect x="59.0" y="263.9" width="1.35" height="1.2" fill="#000"/><rect x="66.5" y="263.9" width="1.35" height="1.2" fill="#000"/><rect x="68.0" y="263.9" width="1.35" height="1.2" fill="#000"/><rect x="71.0" y="263.9" width="1.35" height="1.2" fill="#000"/><rect x="75.5" y="263.9" width="1.35" height="1.2" fill="#000"/><rect x="77.0" y="263.9" width="1.35" height="1.2" fill="#000"/><rect x="95.5" y="263.9" width="1.35" height="1.2" fill="#000"/><rect x="96.5" y="263.9" width="1.35" height="1.2" fill="#000"/><rect x="101.0" y="263.9" width="1.35" height="1.2" fill="#000"/><rect x="102.0" y="263.9" width="1.35" height="1.2" fill="#000"/><rect x="104.0" y="263.9" width="1.35" height="1.2" fill="#000"/><rect x="107.0" y="263.9" width="1.35" height="1.2" fill="#000"/><rect x="109.0" y="263.9" width="1.35" height="1.2" fill="#000"/><rect x="110.0" y="263.9" width="1.35" height="1.2" fill="#000"/><rect x="112.5" y="263.9" width="1.35" height="1.2" fill="#000"/><rect x="113.0" y="263.9" width="1.35" height="1.2" fill="#000"/><rect x="113.5" y="263.9" width="1.35" height="1.2" fill="#000"/><rect x="118.5" y="263.9" width="1.35" height="1.2" fill="#000"/><rect x="127.0" y="263.9" width="1.35" height="1.2" fill="#000"/><rect x="127.5" y="263.9" width="1.35" height="1.2" fill="#000"/><rect x="128.0" y="263.9" width="1.35" height="1.2" fill="#000"/><rect x="129.0" y="263.9" width="1.35" height="1.2" fill="#000"/><rect x="129.5" y="263.9" width="1.35" height="1.2" fill="#000"/><rect x="130.0" y="263.9" width="1.35" height="1.2" fill="#000"/><rect x="132.5" y="263.9" width="1.35" height="1.2" fill="#000"/><rect x="135.0" y="263.9" width="1.35" height="1.2" fill="#000"/><rect x="136.5" y="263.9" width="1.35" height="1.2" fill="#000"/><rect x="138.0" y="263.9" width="1.35" height="1.2" fill="#000"/><rect x="138.0" y="263.9" width="1.35" height="1.2" fill="#000"/><rect x="139.5" y="263.9" width="1.35" height="1.2" fill="#000"/><rect x="144.5" y="263.9" width="1.35" height="1.2" fill="#000"/><rect x="146.0" y="263.9" width="1.35" height="1.2" fill="#000"/><rect x="147.0" y="263.9" width="1.35" height="1.2" fill="#000"/><rect x="149.0" y="263.9" width="1.35" height="1.2" fill="#000"/><rect x="150.0" y="263.9" width="1.35" height="1.2" fill="#000"/><rect x="151.5" y="263.9" width="1.35" height="1.2" fill="#000"/><rect x="152.5" y="263.9" width="1.35" height="1.2" fill="#000"/><rect x="158.0" y="263.9" width="1.35" height="1.2" fill="#000"/><rect x="158.5" y="263.9" width="1.35" height="1.2" fill="#000"/><rect x="161.0" y="263.9" width="1.35" height="1.2" fill="#000"/><rect x="164.0" y="263.9" width="1.35" height="1.2" fill="#000"/><rect x="164.5" y="263.9" width="1.35" height="1.2" fill="#000"/><rect x="168.0" y="263.9" width="1.35" height="1.2" fill="#000"/><rect x="168.5" y="263.9" width="1.35" height="1.2" fill="#000"/><rect x="169.5" y="263.9" width="1.35" height="1.2" fill="#000"/><rect x="170.5" y="263.9" width="1.35" height="1.2" fill="#000"/><rect x="174.5" y="263.9" width="1.35" height="1.2" fill="#000"/><rect x="175.0" y="263.9" width="1.35" height="1.2" fill="#000"/><rect x="177.0" y="263.9" width="1.35" height="1.2" fill="#000"/><rect x="177.5" y="263.9" width="1.35" height="1.2" fill="#000"/><rect x="178.0" y="263.9" width="1.35" height="1.2" fill="#000"/><rect x="178.5" y="263.9" width="1.35" height="1.2" fill="#000"/><rect x="179.5" y="263.9" width="1.35" height="1.2" fill="#000"/><rect x="182.0" y="263.9" width="1.35" height="1.2" fill="#000"/><rect x="182.5" y="263.9" width="1.35" height="1.2" fill="#000"/><rect x="184.5" y="263.9" width="1.35" height="1.2" fill="#000"/><rect x="186.5" y="263.9" width="1.35" height="1.2" fill="#000"/><rect x="189.5" y="263.9" width="1.35" height="1.2" fill="#000"/><rect x="195.0" y="263.9" width="1.35" height="1.2" fill="#000"/><rect x="196.5" y="263.9" width="1.35" height="1.2" fill="#000"/><rect x="198.0" y="263.9" width="1.35" height="1.2" fill="#000"/><rect x="199.5" y="263.9" width="1.35" height="1.2" fill="#000"/><rect x="202.0" y="263.9" width="1.35" height="1.2" fill="#000"/><rect x="203.5" y="263.9" width="1.35" height="1.2" fill="#000"/><rect x="206.5" y="263.9" width="1.35" height="1.2" fill="#000"/><rect x="207.0" y="263.9" width="1.35" height="1.2" fill="#000"/><rect x="208.0" y="263.9" width="1.35" height="1.2" fill="#000"/><rect x="210.5" y="263.9" width="1.35" height="1.2" fill="#000"/><rect x="211.5" y="263.9" width="1.35" height="1.2" fill="#000"/><rect x="212.0" y="263.9" width="1.35" height="1.2" fill="#000"/><rect x="215.0" y="263.9" width="1.35" height="1.2" fill="#000"/><rect x="217.5" y="263.9" width="1.35" height="1.2" fill="#000"/><rect x="219.0" y="263.9" width="1.35" height="1.2" fill="#000"/><rect x="220.5" y="263.9" width="1.35" height="1.2" fill="#000"/><rect x="223.5" y="263.9" width="1.35" height="1.2" fill="#000"/><rect x="51.5" y="266.9" width="1.35" height="1.2" fill="#000"/><rect x="54.0" y="266.9" width="1.35" height="1.2" fill="#000"/><rect x="56.5" y="266.9" width="1.35" height="1.2" fill="#000"/><rect x="68.5" y="266.9" width="1.35" height="1.2" fill="#000"/><rect x="70.5" y="266.9" width="1.35" height="1.2" fill="#000"/><rect x="74.5" y="266.9" width="1.35" height="1.2" fill="#000"/><rect x="85.0" y="266.9" width="1.35" height="1.2" fill="#000"/><rect x="95.5" y="266.9" width="1.35" height="1.2" fill="#000"/><rect x="100.5" y="266.9" width="1.35" height="1.2" fill="#000"/><rect x="104.0" y="266.9" width="1.35" height="1.2" fill="#000"/><rect x="115.5" y="266.9" width="1.35" height="1.2" fill="#000"/><rect x="123.0" y="266.9" width="1.35" height="1.2" fill="#000"/><rect x="127.0" y="266.9" width="1.35" height="1.2" fill="#000"/><rect x="135.0" y="266.9" width="1.35" height="1.2" fill="#000"/><rect x="136.5" y="266.9" width="1.35" height="1.2" fill="#000"/><rect x="138.0" y="266.9" width="1.35" height="1.2" fill="#000"/><rect x="147.5" y="266.9" width="1.35" height="1.2" fill="#000"/><rect x="150.0" y="266.9" width="1.35" height="1.2" fill="#000"/><rect x="153.0" y="266.9" width="1.35" height="1.2" fill="#000"/><rect x="156.0" y="266.9" width="1.35" height="1.2" fill="#000"/><rect x="157.5" y="266.9" width="1.35" height="1.2" fill="#000"/><rect x="161.0" y="266.9" width="1.35" height="1.2" fill="#000"/><rect x="163.0" y="266.9" width="1.35" height="1.2" fill="#000"/><rect x="165.5" y="266.9" width="1.35" height="1.2" fill="#000"/><rect x="167.5" y="266.9" width="1.35" height="1.2" fill="#000"/><rect x="180.5" y="266.9" width="1.35" height="1.2" fill="#000"/><rect x="184.0" y="266.9" width="1.35" height="1.2" fill="#000"/><rect x="187.5" y="266.9" width="1.35" height="1.2" fill="#000"/><rect x="188.0" y="266.9" width="1.35" height="1.2" fill="#000"/><rect x="189.5" y="266.9" width="1.35" height="1.2" fill="#000"/><rect x="196.5" y="266.9" width="1.35" height="1.2" fill="#000"/><rect x="198.5" y="266.9" width="1.35" height="1.2" fill="#000"/><rect x="200.5" y="266.9" width="1.35" height="1.2" fill="#000"/><rect x="203.0" y="266.9" width="1.35" height="1.2" fill="#000"/><rect x="205.5" y="266.9" width="1.35" height="1.2" fill="#000"/><rect x="208.0" y="266.9" width="1.35" height="1.2" fill="#000"/><rect x="209.0" y="266.9" width="1.35" height="1.2" fill="#000"/><rect x="212.0" y="266.9" width="1.35" height="1.2" fill="#000"/><rect x="215.0" y="266.9" width="1.35" height="1.2" fill="#000"/><rect x="216.0" y="266.9" width="1.35" height="1.2" fill="#000"/><rect x="217.5" y="266.9" width="1.35" height="1.2" fill="#000"/><rect x="219.0" y="266.9" width="1.35" height="1.2" fill="#000"/><rect x="220.5" y="266.9" width="1.35" height="1.2" fill="#000"/><rect x="221.0" y="266.9" width="1.35" height="1.2" fill="#000"/><rect x="54.0" y="268.9" width="1.35" height="1.2" fill="#000"/><rect x="55.5" y="268.9" width="1.35" height="1.2" fill="#000"/><rect x="58.5" y="268.9" width="1.35" height="1.2" fill="#000"/><rect x="60.0" y="268.9" width="1.35" height="1.2" fill="#000"/><rect x="64.0" y="268.9" width="1.35" height="1.2" fill="#000"/><rect x="67.0" y="268.9" width="1.35" height="1.2" fill="#000"/><rect x="89.0" y="268.9" width="1.35" height="1.2" fill="#000"/><rect x="108.5" y="268.9" width="1.35" height="1.2" fill="#000"/><rect x="141.5" y="268.9" width="1.35" height="1.2" fill="#000"/><rect x="143.5" y="268.9" width="1.35" height="1.2" fill="#000"/><rect x="152.5" y="268.9" width="1.35" height="1.2" fill="#000"/><rect x="158.0" y="268.9" width="1.35" height="1.2" fill="#000"/><rect x="162.5" y="268.9" width="1.35" height="1.2" fill="#000"/><rect x="165.0" y="268.9" width="1.35" height="1.2" fill="#000"/><rect x="179.0" y="268.9" width="1.35" height="1.2" fill="#000"/><rect x="188.0" y="268.9" width="1.35" height="1.2" fill="#000"/><rect x="194.0" y="268.9" width="1.35" height="1.2" fill="#000"/><rect x="195.0" y="268.9" width="1.35" height="1.2" fill="#000"/><rect x="199.5" y="268.9" width="1.35" height="1.2" fill="#000"/><rect x="209.5" y="268.9" width="1.35" height="1.2" fill="#000"/><rect x="219.5" y="268.9" width="1.35" height="1.2" fill="#000"/><rect x="221.0" y="268.9" width="1.35" height="1.2" fill="#000"/><rect x="60.0" y="271.9" width="1.35" height="1.2" fill="#000"/><rect x="61.5" y="271.9" width="1.35" height="1.2" fill="#000"/><rect x="62.0" y="271.9" width="1.35" height="1.2" fill="#000"/><rect x="81.0" y="271.9" width="1.35" height="1.2" fill="#000"/><rect x="84.0" y="271.9" width="1.35" height="1.2" fill="#000"/><rect x="87.0" y="271.9" width="1.35" height="1.2" fill="#000"/><rect x="89.5" y="271.9" width="1.35" height="1.2" fill="#000"/><rect x="90.5" y="271.9" width="1.35" height="1.2" fill="#000"/><rect x="95.0" y="271.9" width="1.35" height="1.2" fill="#000"/><rect x="97.0" y="271.9" width="1.35" height="1.2" fill="#000"/><rect x="109.5" y="271.9" width="1.35" height="1.2" fill="#000"/><rect x="113.0" y="271.9" width="1.35" height="1.2" fill="#000"/><rect x="120.5" y="271.9" width="1.35" height="1.2" fill="#000"/><rect x="125.0" y="271.9" width="1.35" height="1.2" fill="#000"/><rect x="129.5" y="271.9" width="1.35" height="1.2" fill="#000"/><rect x="132.5" y="271.9" width="1.35" height="1.2" fill="#000"/><rect x="141.5" y="271.9" width="1.35" height="1.2" fill="#000"/><rect x="146.0" y="271.9" width="1.35" height="1.2" fill="#000"/><rect x="149.5" y="271.9" width="1.35" height="1.2" fill="#000"/><rect x="157.5" y="271.9" width="1.35" height="1.2" fill="#000"/><rect x="158.0" y="271.9" width="1.35" height="1.2" fill="#000"/><rect x="159.5" y="271.9" width="1.35" height="1.2" fill="#000"/><rect x="164.0" y="271.9" width="1.35" height="1.2" fill="#000"/><rect x="165.5" y="271.9" width="1.35" height="1.2" fill="#000"/><rect x="178.0" y="271.9" width="1.35" height="1.2" fill="#000"/><rect x="183.5" y="271.9" width="1.35" height="1.2" fill="#000"/><rect x="213.0" y="271.9" width="1.35" height="1.2" fill="#000"/><rect x="215.0" y="271.9" width="1.35" height="1.2" fill="#000"/><rect x="46.0" y="273.9" width="1.35" height="1.2" fill="#000"/><rect x="78.5" y="273.9" width="1.35" height="1.2" fill="#000"/><rect x="81.5" y="273.9" width="1.35" height="1.2" fill="#000"/><rect x="85.5" y="273.9" width="1.35" height="1.2" fill="#000"/><rect x="87.5" y="273.9" width="1.35" height="1.2" fill="#000"/><rect x="96.0" y="273.9" width="1.35" height="1.2" fill="#000"/><rect x="98.5" y="273.9" width="1.35" height="1.2" fill="#000"/><rect x="101.0" y="273.9" width="1.35" height="1.2" fill="#000"/><rect x="102.5" y="273.9" width="1.35" height="1.2" fill="#000"/><rect x="112.0" y="273.9" width="1.35" height="1.2" fill="#000"/><rect x="127.5" y="273.9" width="1.35" height="1.2" fill="#000"/><rect x="131.0" y="273.9" width="1.35" height="1.2" fill="#000"/><rect x="133.5" y="273.9" width="1.35" height="1.2" fill="#000"/><rect x="134.5" y="273.9" width="1.35" height="1.2" fill="#000"/><rect x="136.0" y="273.9" width="1.35" height="1.2" fill="#000"/><rect x="140.0" y="273.9" width="1.35" height="1.2" fill="#000"/><rect x="158.0" y="273.9" width="1.35" height="1.2" fill="#000"/><rect x="167.5" y="273.9" width="1.35" height="1.2" fill="#000"/><rect x="186.5" y="273.9" width="1.35" height="1.2" fill="#000"/><rect x="193.5" y="273.9" width="1.35" height="1.2" fill="#000"/><rect x="193.5" y="273.9" width="1.35" height="1.2" fill="#000"/><rect x="221.5" y="273.9" width="1.35" height="1.2" fill="#000"/><rect x="61.5" y="276.9" width="1.35" height="1.2" fill="#000"/><rect x="67.5" y="276.9" width="1.35" height="1.2" fill="#000"/><rect x="76.5" y="276.9" width="1.35" height="1.2" fill="#000"/><rect x="78.5" y="276.9" width="1.35" height="1.2" fill="#000"/><rect x="109.0" y="276.9" width="1.35" height="1.2" fill="#000"/><rect x="113.0" y="276.9" width="1.35" height="1.2" fill="#000"/><rect x="122.5" y="276.9" width="1.35" height="1.2" fill="#000"/><rect x="123.0" y="276.9" width="1.35" height="1.2" fill="#000"/><rect x="129.0" y="276.9" width="1.35" height="1.2" fill="#000"/><rect x="137.0" y="276.9" width="1.35" height="1.2" fill="#000"/><rect x="148.0" y="276.9" width="1.35" height="1.2" fill="#000"/><rect x="162.0" y="276.9" width="1.35" height="1.2" fill="#000"/><rect x="169.5" y="276.9" width="1.35" height="1.2" fill="#000"/><rect x="170.5" y="276.9" width="1.35" height="1.2" fill="#000"/><rect x="185.5" y="276.9" width="1.35" height="1.2" fill="#000"/><rect x="195.0" y="276.9" width="1.35" height="1.2" fill="#000"/><rect x="197.5" y="276.9" width="1.35" height="1.2" fill="#000"/><rect x="218.0" y="276.9" width="1.35" height="1.2" fill="#000"/><rect x="45.5" y="278.9" width="1.35" height="1.2" fill="#000"/><rect x="59.0" y="278.9" width="1.35" height="1.2" fill="#000"/><rect x="63.5" y="278.9" width="1.35" height="1.2" fill="#000"/><rect x="65.0" y="278.9" width="1.35" height="1.2" fill="#000"/><rect x="72.5" y="278.9" width="1.35" height="1.2" fill="#000"/><rect x="78.5" y="278.9" width="1.35" height="1.2" fill="#000"/><rect x="80.5" y="278.9" width="1.35" height="1.2" fill="#000"/><rect x="91.5" y="278.9" width="1.35" height="1.2" fill="#000"/><rect x="98.5" y="278.9" width="1.35" height="1.2" fill="#000"/><rect x="103.5" y="278.9" width="1.35" height="1.2" fill="#000"/><rect x="112.0" y="278.9" width="1.35" height="1.2" fill="#000"/><rect x="115.5" y="278.9" width="1.35" height="1.2" fill="#000"/><rect x="143.0" y="278.9" width="1.35" height="1.2" fill="#000"/><rect x="165.5" y="278.9" width="1.35" height="1.2" fill="#000"/><rect x="181.0" y="278.9" width="1.35" height="1.2" fill="#000"/><rect x="205.5" y="278.9" width="1.35" height="1.2" fill="#000"/><rect x="208.5" y="278.9" width="1.35" height="1.2" fill="#000"/><rect x="212.5" y="278.9" width="1.35" height="1.2" fill="#000"/><rect x="51.5" y="280.9" width="1.35" height="1.2" fill="#000"/><rect x="53.0" y="280.9" width="1.35" height="1.2" fill="#000"/><rect x="70.0" y="280.9" width="1.35" height="1.2" fill="#000"/><rect x="95.5" y="280.9" width="1.35" height="1.2" fill="#000"/><rect x="104.0" y="280.9" width="1.35" height="1.2" fill="#000"/><rect x="107.0" y="280.9" width="1.35" height="1.2" fill="#000"/><rect x="107.5" y="280.9" width="1.35" height="1.2" fill="#000"/><rect x="111.0" y="280.9" width="1.35" height="1.2" fill="#000"/><rect x="120.0" y="280.9" width="1.35" height="1.2" fill="#000"/><rect x="121.0" y="280.9" width="1.35" height="1.2" fill="#000"/><rect x="124.0" y="280.9" width="1.35" height="1.2" fill="#000"/><rect x="125.5" y="280.9" width="1.35" height="1.2" fill="#000"/><rect x="127.0" y="280.9" width="1.35" height="1.2" fill="#000"/><rect x="127.5" y="280.9" width="1.35" height="1.2" fill="#000"/><rect x="135.0" y="280.9" width="1.35" height="1.2" fill="#000"/><rect x="144.0" y="280.9" width="1.35" height="1.2" fill="#000"/><rect x="145.5" y="280.9" width="1.35" height="1.2" fill="#000"/><rect x="149.0" y="280.9" width="1.35" height="1.2" fill="#000"/><rect x="151.0" y="280.9" width="1.35" height="1.2" fill="#000"/><rect x="153.0" y="280.9" width="1.35" height="1.2" fill="#000"/><rect x="157.5" y="280.9" width="1.35" height="1.2" fill="#000"/><rect x="159.5" y="280.9" width="1.35" height="1.2" fill="#000"/><rect x="164.5" y="280.9" width="1.35" height="1.2" fill="#000"/><rect x="204.0" y="280.9" width="1.35" height="1.2" fill="#000"/><rect x="215.0" y="280.9" width="1.35" height="1.2" fill="#000"/><rect x="50.5" y="283.9" width="1.35" height="1.2" fill="#000"/><rect x="57.0" y="283.9" width="1.35" height="1.2" fill="#000"/><rect x="58.5" y="283.9" width="1.35" height="1.2" fill="#000"/><rect x="65.0" y="283.9" width="1.35" height="1.2" fill="#000"/><rect x="66.0" y="283.9" width="1.35" height="1.2" fill="#000"/><rect x="72.0" y="283.9" width="1.35" height="1.2" fill="#000"/><rect x="75.5" y="283.9" width="1.35" height="1.2" fill="#000"/><rect x="79.5" y="283.9" width="1.35" height="1.2" fill="#000"/><rect x="84.0" y="283.9" width="1.35" height="1.2" fill="#000"/><rect x="91.5" y="283.9" width="1.35" height="1.2" fill="#000"/><rect x="111.5" y="283.9" width="1.35" height="1.2" fill="#000"/><rect x="116.0" y="283.9" width="1.35" height="1.2" fill="#000"/><rect x="117.0" y="283.9" width="1.35" height="1.2" fill="#000"/><rect x="124.5" y="283.9" width="1.35" height="1.2" fill="#000"/><rect x="132.0" y="283.9" width="1.35" height="1.2" fill="#000"/><rect x="168.5" y="283.9" width="1.35" height="1.2" fill="#000"/><rect x="215.0" y="283.9" width="1.35" height="1.2" fill="#000"/><rect x="45.5" y="285.9" width="1.35" height="1.2" fill="#000"/><rect x="48.5" y="285.9" width="1.35" height="1.2" fill="#000"/><rect x="53.5" y="285.9" width="1.35" height="1.2" fill="#000"/><rect x="54.0" y="285.9" width="1.35" height="1.2" fill="#000"/><rect x="60.5" y="285.9" width="1.35" height="1.2" fill="#000"/><rect x="67.0" y="285.9" width="1.35" height="1.2" fill="#000"/><rect x="97.0" y="285.9" width="1.35" height="1.2" fill="#000"/><rect x="98.0" y="285.9" width="1.35" height="1.2" fill="#000"/><rect x="105.5" y="285.9" width="1.35" height="1.2" fill="#000"/><rect x="107.0" y="285.9" width="1.35" height="1.2" fill="#000"/><rect x="117.0" y="285.9" width="1.35" height="1.2" fill="#000"/><rect x="128.0" y="285.9" width="1.35" height="1.2" fill="#000"/><rect x="136.0" y="285.9" width="1.35" height="1.2" fill="#000"/><rect x="162.5" y="285.9" width="1.35" height="1.2" fill="#000"/><rect x="186.0" y="285.9" width="1.35" height="1.2" fill="#000"/><rect x="201.0" y="285.9" width="1.35" height="1.2" fill="#000"/><rect x="208.0" y="285.9" width="1.35" height="1.2" fill="#000"/><rect x="215.0" y="285.9" width="1.35" height="1.2" fill="#000"/><rect x="43.5" y="288.9" width="1.35" height="1.2" fill="#000"/><rect x="48.5" y="288.9" width="1.35" height="1.2" fill="#000"/><rect x="54.0" y="288.9" width="1.35" height="1.2" fill="#000"/><rect x="55.0" y="288.9" width="1.35" height="1.2" fill="#000"/><rect x="56.5" y="288.9" width="1.35" height="1.2" fill="#000"/><rect x="58.0" y="288.9" width="1.35" height="1.2" fill="#000"/><rect x="59.5" y="288.9" width="1.35" height="1.2" fill="#000"/><rect x="60.0" y="288.9" width="1.35" height="1.2" fill="#000"/><rect x="61.5" y="288.9" width="1.35" height="1.2" fill="#000"/><rect x="66.5" y="288.9" width="1.35" height="1.2" fill="#000"/><rect x="67.5" y="288.9" width="1.35" height="1.2" fill="#000"/><rect x="68.0" y="288.9" width="1.35" height="1.2" fill="#000"/><rect x="69.5" y="288.9" width="1.35" height="1.2" fill="#000"/><rect x="70.5" y="288.9" width="1.35" height="1.2" fill="#000"/><rect x="73.5" y="288.9" width="1.35" height="1.2" fill="#000"/><rect x="74.0" y="288.9" width="1.35" height="1.2" fill="#000"/><rect x="75.5" y="288.9" width="1.35" height="1.2" fill="#000"/><rect x="76.0" y="288.9" width="1.35" height="1.2" fill="#000"/><rect x="77.5" y="288.9" width="1.35" height="1.2" fill="#000"/><rect x="79.0" y="288.9" width="1.35" height="1.2" fill="#000"/><rect x="80.0" y="288.9" width="1.35" height="1.2" fill="#000"/><rect x="81.5" y="288.9" width="1.35" height="1.2" fill="#000"/><rect x="87.0" y="288.9" width="1.35" height="1.2" fill="#000"/><rect x="88.0" y="288.9" width="1.35" height="1.2" fill="#000"/><rect x="88.5" y="288.9" width="1.35" height="1.2" fill="#000"/><rect x="90.0" y="288.9" width="1.35" height="1.2" fill="#000"/><rect x="91.5" y="288.9" width="1.35" height="1.2" fill="#000"/><rect x="95.5" y="288.9" width="1.35" height="1.2" fill="#000"/><rect x="97.0" y="288.9" width="1.35" height="1.2" fill="#000"/><rect x="99.0" y="288.9" width="1.35" height="1.2" fill="#000"/><rect x="107.0" y="288.9" width="1.35" height="1.2" fill="#000"/><rect x="107.5" y="288.9" width="1.35" height="1.2" fill="#000"/><rect x="108.0" y="288.9" width="1.35" height="1.2" fill="#000"/><rect x="112.5" y="288.9" width="1.35" height="1.2" fill="#000"/><rect x="114.0" y="288.9" width="1.35" height="1.2" fill="#000"/><rect x="117.0" y="288.9" width="1.35" height="1.2" fill="#000"/><rect x="118.0" y="288.9" width="1.35" height="1.2" fill="#000"/><rect x="118.0" y="288.9" width="1.35" height="1.2" fill="#000"/><rect x="119.0" y="288.9" width="1.35" height="1.2" fill="#000"/><rect x="119.5" y="288.9" width="1.35" height="1.2" fill="#000"/><rect x="121.0" y="288.9" width="1.35" height="1.2" fill="#000"/><rect x="124.0" y="288.9" width="1.35" height="1.2" fill="#000"/><rect x="124.5" y="288.9" width="1.35" height="1.2" fill="#000"/><rect x="126.0" y="288.9" width="1.35" height="1.2" fill="#000"/><rect x="127.5" y="288.9" width="1.35" height="1.2" fill="#000"/><rect x="128.0" y="288.9" width="1.35" height="1.2" fill="#000"/><rect x="150.0" y="288.9" width="1.35" height="1.2" fill="#000"/><rect x="174.0" y="288.9" width="1.35" height="1.2" fill="#000"/><rect x="174.5" y="288.9" width="1.35" height="1.2" fill="#000"/><rect x="185.0" y="288.9" width="1.35" height="1.2" fill="#000"/><rect x="199.5" y="288.9" width="1.35" height="1.2" fill="#000"/><rect x="202.5" y="288.9" width="1.35" height="1.2" fill="#000"/><rect x="218.5" y="288.9" width="1.35" height="1.2" fill="#000"/></g>
<line x1="42.80" y1="291.30" x2="42.80" y2="292.90" stroke="#666" stroke-width="0.5"/>
<text x="42.80" y="296.70" font-size="3.10" text-anchor="middle" font-family="Liberation Sans, sans-serif" fill="#444" class="s" stroke="#444">0</text>
<line x1="77.15" y1="291.30" x2="77.15" y2="292.90" stroke="#666" stroke-width="0.5"/>
<text x="77.15" y="296.70" font-size="3.10" text-anchor="middle" font-family="Liberation Sans, sans-serif" fill="#444" class="s" stroke="#444">100</text>
<line x1="111.50" y1="291.30" x2="111.50" y2="292.90" stroke="#666" stroke-width="0.5"/>
<text x="111.50" y="296.70" font-size="3.10" text-anchor="middle" font-family="Liberation Sans, sans-serif" fill="#444" class="s" stroke="#444">200</text>
<line x1="145.85" y1="291.30" x2="145.85" y2="292.90" stroke="#666" stroke-width="0.5"/>
<text x="145.85" y="296.70" font-size="3.10" text-anchor="middle" font-family="Liberation Sans, sans-serif" fill="#444" class="s" stroke="#444">300</text>
<line x1="180.20" y1="291.30" x2="180.20" y2="292.90" stroke="#666" stroke-width="0.5"/>
<text x="180.20" y="296.70" font-size="3.10" text-anchor="middle" font-family="Liberation Sans, sans-serif" fill="#444" class="s" stroke="#444">400</text>
<line x1="214.55" y1="291.30" x2="214.55" y2="292.90" stroke="#666" stroke-width="0.5"/>
<text x="214.55" y="296.70" font-size="3.10" text-anchor="middle" font-family="Liberation Sans, sans-serif" fill="#444" class="s" stroke="#444">500</text>
<line x1="34.50" y1="251.20" x2="36.10" y2="251.20" stroke="#666" stroke-width="0.5"/>
<text x="31.60" y="251.20" font-size="3.00" text-anchor="middle" transform="rotate(-90 31.60 251.20)" font-family="Liberation Sans, sans-serif" fill="#444" class="s" stroke="#444">0.4</text>
<line x1="34.50" y1="259.90" x2="36.10" y2="259.90" stroke="#666" stroke-width="0.5"/>
<text x="31.60" y="259.90" font-size="3.00" text-anchor="middle" transform="rotate(-90 31.60 259.90)" font-family="Liberation Sans, sans-serif" fill="#444" class="s" stroke="#444">0.2</text>
<line x1="34.50" y1="268.10" x2="36.10" y2="268.10" stroke="#666" stroke-width="0.5"/>
<text x="31.60" y="268.10" font-size="3.00" text-anchor="middle" transform="rotate(-90 31.60 268.10)" font-family="Liberation Sans, sans-serif" fill="#444" class="s" stroke="#444">0.0</text>
<line x1="34.50" y1="276.70" x2="36.10" y2="276.70" stroke="#666" stroke-width="0.5"/>
<text x="31.60" y="276.70" font-size="3.00" text-anchor="middle" transform="rotate(-90 31.60 276.70)" font-family="Liberation Sans, sans-serif" fill="#444" class="s" stroke="#444">−0.2</text>
<line x1="34.50" y1="285.30" x2="36.10" y2="285.30" stroke="#666" stroke-width="0.5"/>
<text x="31.60" y="285.30" font-size="3.00" text-anchor="middle" transform="rotate(-90 31.60 285.30)" font-family="Liberation Sans, sans-serif" fill="#444" class="s" stroke="#444">−0.4</text>
<text x="24.70" y="268.20" font-size="3.00" text-anchor="middle" transform="rotate(-90 24.70 268.20)" font-family="Liberation Sans, sans-serif" fill="#444" class="s" stroke="#444">KEGG pathway Score</text>
<text x="133.25" y="302.50" font-size="3.20" text-anchor="middle" font-family="Liberation Sans, sans-serif" fill="#444" class="s" stroke="#444">Samples</text>
<rect x="249.60" y="171.40" width="51.90" height="119.80" fill="none" stroke="#666" stroke-width="0.95"/>
<line x1="263.10" y1="176.00" x2="263.10" y2="208.00" stroke="#222" stroke-width="0.8" stroke-dasharray="1.6,1.6"/>
<line x1="263.10" y1="240.70" x2="263.10" y2="286.20" stroke="#222" stroke-width="0.8" stroke-dasharray="1.6,1.6"/>
<line x1="261.30" y1="176.00" x2="264.90" y2="176.00" stroke="#222" stroke-width="0.6"/>
<line x1="261.30" y1="286.20" x2="264.90" y2="286.20" stroke="#222" stroke-width="0.6"/>
<rect x="259.30" y="208.00" width="7.60" height="32.70" fill="#d62d2d" stroke="#222" stroke-width="0.6"/>
<line x1="259.30" y1="221.30" x2="266.90" y2="221.30" stroke="#111" stroke-width="1.1"/>
<line x1="263.10" y1="291.20" x2="263.10" y2="292.80" stroke="#666" stroke-width="0.5"/>
<line x1="287.10" y1="176.00" x2="287.10" y2="221.30" stroke="#222" stroke-width="0.8" stroke-dasharray="1.6,1.6"/>
<line x1="287.10" y1="266.90" x2="287.10" y2="286.20" stroke="#222" stroke-width="0.8" stroke-dasharray="1.6,1.6"/>
<line x1="285.30" y1="176.00" x2="288.90" y2="176.00" stroke="#222" stroke-width="0.6"/>
<line x1="285.30" y1="286.20" x2="288.90" y2="286.20" stroke="#222" stroke-width="0.6"/>
<rect x="283.30" y="221.30" width="7.60" height="45.60" fill="#3a78b5" stroke="#222" stroke-width="0.6"/>
<line x1="283.30" y1="234.30" x2="290.90" y2="234.30" stroke="#111" stroke-width="1.1"/>
<line x1="287.10" y1="291.20" x2="287.10" y2="292.80" stroke="#666" stroke-width="0.5"/>
<text x="263.10" y="296.50" font-size="3.00" text-anchor="middle" font-family="Liberation Sans, sans-serif" fill="#444" class="s" stroke="#444">Risk−H</text>
<text x="287.10" y="296.50" font-size="3.00" text-anchor="middle" font-family="Liberation Sans, sans-serif" fill="#444" class="s" stroke="#444">Risk−L</text>
<line x1="248.00" y1="187.40" x2="249.60" y2="187.40" stroke="#666" stroke-width="0.5"/>
<text x="246.20" y="187.40" font-size="3.00" text-anchor="middle" transform="rotate(-90 246.20 187.40)" font-family="Liberation Sans, sans-serif" fill="#444" class="s" stroke="#444">0.4</text>
<line x1="248.00" y1="209.10" x2="249.60" y2="209.10" stroke="#666" stroke-width="0.5"/>
<text x="246.20" y="209.10" font-size="3.00" text-anchor="middle" transform="rotate(-90 246.20 209.10)" font-family="Liberation Sans, sans-serif" fill="#444" class="s" stroke="#444">0.2</text>
<line x1="248.00" y1="230.90" x2="249.60" y2="230.90" stroke="#666" stroke-width="0.5"/>
<text x="246.20" y="230.90" font-size="3.00" text-anchor="middle" transform="rotate(-90 246.20 230.90)" font-family="Liberation Sans, sans-serif" fill="#444" class="s" stroke="#444">0.0</text>
<line x1="248.00" y1="252.90" x2="249.60" y2="252.90" stroke="#666" stroke-width="0.5"/>
<text x="246.20" y="252.90" font-size="3.00" text-anchor="middle" transform="rotate(-90 246.20 252.90)" font-family="Liberation Sans, sans-serif" fill="#444" class="s" stroke="#444">−0.2</text>
<line x1="248.00" y1="275.00" x2="249.60" y2="275.00" stroke="#666" stroke-width="0.5"/>
<text x="246.20" y="275.00" font-size="3.00" text-anchor="middle" transform="rotate(-90 246.20 275.00)" font-family="Liberation Sans, sans-serif" fill="#444" class="s" stroke="#444">−0.4</text>
<text x="238.50" y="231.30" font-size="2.80" text-anchor="middle" transform="rotate(-90 238.50 231.30)" font-family="Liberation Sans, sans-serif" fill="#444" class="s" stroke="#444">KEGG pathway Score</text>
<rect x="283.00" y="172.10" width="18.20" height="5.60" fill="none" stroke="#444" stroke-width="0.70"/>
<text x="292.40" y="176.20" font-size="4.25" text-anchor="middle" font-family="Liberation Sans, sans-serif" fill="#222" class="s" stroke="#222">P≤0.001</text>
<rect x="356.70" y="171.40" width="194.00" height="45.10" fill="none" stroke="#666" stroke-width="0.95"/>
<circle cx="363.40" cy="215.20" r="0.6" fill="#3a78b5"/>
<circle cx="363.80" cy="213.90" r="0.6" fill="#3a78b5"/>
<polyline points="364.30,211.50 365.80,209.00 367.80,207.50 370.20,206.10 375.10,204.90 380.00,203.60 384.90,202.40 389.80,201.40 394.70,200.70 399.60,199.70 404.50,199.00 409.40,198.50 420.40,198.00 430.40,197.30 440.40,196.70 453.10,195.80" fill="none" stroke="#3a78b5" stroke-width="1.2" stroke-linecap="round" stroke-linejoin="round"/>
<polyline points="453.10,195.80 465.40,194.80 480.40,193.20 490.60,191.90 500.80,190.60 511.00,189.50 521.30,188.40 527.40,187.70 531.50,186.80 535.60,185.80 538.60,184.90 540.20,183.70 541.70,181.60" fill="none" stroke="#d62d2d" stroke-width="1.2" stroke-linecap="round" stroke-linejoin="round"/>
<circle cx="542.20" cy="180.20" r="0.6" fill="#d62d2d"/>
<circle cx="542.70" cy="177.80" r="0.6" fill="#d62d2d"/>
<circle cx="543.00" cy="175.50" r="0.6" fill="#d62d2d"/>
<circle cx="543.40" cy="173.50" r="0.6" fill="#d62d2d"/>
<circle cx="543.70" cy="172.20" r="0.6" fill="#d62d2d"/>
<line x1="363.20" y1="216.50" x2="363.20" y2="218.10" stroke="#666" stroke-width="0.5"/>
<text x="363.20" y="222.90" font-size="3.10" text-anchor="middle" font-family="Liberation Sans, sans-serif" fill="#444" class="s" stroke="#444">0</text>
<line x1="397.55" y1="216.50" x2="397.55" y2="218.10" stroke="#666" stroke-width="0.5"/>
<text x="397.55" y="222.90" font-size="3.10" text-anchor="middle" font-family="Liberation Sans, sans-serif" fill="#444" class="s" stroke="#444">100</text>
<line x1="431.90" y1="216.50" x2="431.90" y2="218.10" stroke="#666" stroke-width="0.5"/>
<text x="431.90" y="222.90" font-size="3.10" text-anchor="middle" font-family="Liberation Sans, sans-serif" fill="#444" class="s" stroke="#444">200</text>
<line x1="466.25" y1="216.50" x2="466.25" y2="218.10" stroke="#666" stroke-width="0.5"/>
<text x="466.25" y="222.90" font-size="3.10" text-anchor="middle" font-family="Liberation Sans, sans-serif" fill="#444" class="s" stroke="#444">300</text>
<line x1="500.60" y1="216.50" x2="500.60" y2="218.10" stroke="#666" stroke-width="0.5"/>
<text x="500.60" y="222.90" font-size="3.10" text-anchor="middle" font-family="Liberation Sans, sans-serif" fill="#444" class="s" stroke="#444">400</text>
<line x1="534.95" y1="216.50" x2="534.95" y2="218.10" stroke="#666" stroke-width="0.5"/>
<text x="534.95" y="222.90" font-size="3.10" text-anchor="middle" font-family="Liberation Sans, sans-serif" fill="#444" class="s" stroke="#444">500</text>
<line x1="355.10" y1="174.20" x2="356.70" y2="174.20" stroke="#666" stroke-width="0.5"/>
<text x="351.60" y="174.20" font-size="3.00" text-anchor="middle" transform="rotate(-90 351.60 174.20)" font-family="Liberation Sans, sans-serif" fill="#444" class="s" stroke="#444">−10</text>
<line x1="355.10" y1="181.90" x2="356.70" y2="181.90" stroke="#666" stroke-width="0.5"/>
<text x="351.60" y="181.90" font-size="3.00" text-anchor="middle" transform="rotate(-90 351.60 181.90)" font-family="Liberation Sans, sans-serif" fill="#444" class="s" stroke="#444">−12</text>
<line x1="355.10" y1="189.60" x2="356.70" y2="189.60" stroke="#666" stroke-width="0.5"/>
<text x="351.60" y="189.60" font-size="3.00" text-anchor="middle" transform="rotate(-90 351.60 189.60)" font-family="Liberation Sans, sans-serif" fill="#444" class="s" stroke="#444">−14</text>
<line x1="355.10" y1="197.30" x2="356.70" y2="197.30" stroke="#666" stroke-width="0.5"/>
<text x="351.60" y="197.30" font-size="3.00" text-anchor="middle" transform="rotate(-90 351.60 197.30)" font-family="Liberation Sans, sans-serif" fill="#444" class="s" stroke="#444">−16</text>
<line x1="355.10" y1="205.00" x2="356.70" y2="205.00" stroke="#666" stroke-width="0.5"/>
<text x="351.60" y="205.00" font-size="3.00" text-anchor="middle" transform="rotate(-90 351.60 205.00)" font-family="Liberation Sans, sans-serif" fill="#444" class="s" stroke="#444">−18</text>
<line x1="355.10" y1="212.70" x2="356.70" y2="212.70" stroke="#666" stroke-width="0.5"/>
<text x="351.60" y="212.70" font-size="3.00" text-anchor="middle" transform="rotate(-90 351.60 212.70)" font-family="Liberation Sans, sans-serif" fill="#444" class="s" stroke="#444">−20</text>
<text x="346.20" y="193.95" font-size="3.00" text-anchor="middle" transform="rotate(-90 346.20 193.95)" font-family="Liberation Sans, sans-serif" fill="#444" class="s" stroke="#444">RiskScore</text>
<rect x="356.70" y="171.40" width="18.80" height="9.30" fill="none" stroke="#555" stroke-width="0.70"/>
<circle cx="357.60" cy="173.50" r="0.75" fill="#3a78b5"/>
<circle cx="357.60" cy="178.10" r="0.75" fill="#d62d2d"/>
<text x="360.70" y="175.40" font-size="4.25" text-anchor="start" font-family="Liberation Sans, sans-serif" fill="#111" class="s" stroke="#111">Risk−L</text>
<text x="360.70" y="179.90" font-size="4.25" text-anchor="start" font-family="Liberation Sans, sans-serif" fill="#111" class="s" stroke="#111">Risk−H</text>
<rect x="516.60" y="207.20" width="34.10" height="9.30" fill="none" stroke="#666" stroke-width="0.80"/>
<text x="533.65" y="211.80" font-size="4.50" text-anchor="middle" font-family="Liberation Sans, sans-serif" fill="#111" class="s" stroke="#111">Corr:−0.35923</text>
<text x="533.65" y="216.00" font-size="4.50" text-anchor="middle" font-family="Liberation Sans, sans-serif" fill="#111" class="s" stroke="#111">P<0.0001</text>
<rect x="356.70" y="245.10" width="193.50" height="46.40" fill="none" stroke="#666" stroke-width="0.95"/>
<g><rect x="365.0" y="246.9" width="1.35" height="1.2" fill="#000"/><rect x="396.5" y="246.9" width="1.35" height="1.2" fill="#000"/><rect x="402.0" y="246.9" width="1.35" height="1.2" fill="#000"/><rect x="404.0" y="246.9" width="1.35" height="1.2" fill="#000"/><rect x="521.0" y="246.9" width="1.35" height="1.2" fill="#000"/><rect x="369.5" y="250.9" width="1.35" height="1.2" fill="#000"/><rect x="382.0" y="250.9" width="1.35" height="1.2" fill="#000"/><rect x="427.0" y="250.9" width="1.35" height="1.2" fill="#000"/><rect x="428.0" y="250.9" width="1.35" height="1.2" fill="#000"/><rect x="431.0" y="250.9" width="1.35" height="1.2" fill="#000"/><rect x="437.0" y="250.9" width="1.35" height="1.2" fill="#000"/><rect x="445.5" y="250.9" width="1.35" height="1.2" fill="#000"/><rect x="453.0" y="250.9" width="1.35" height="1.2" fill="#000"/><rect x="462.5" y="250.9" width="1.35" height="1.2" fill="#000"/><rect x="477.5" y="250.9" width="1.35" height="1.2" fill="#000"/><rect x="501.5" y="250.9" width="1.35" height="1.2" fill="#000"/><rect x="502.5" y="250.9" width="1.35" height="1.2" fill="#000"/><rect x="537.0" y="250.9" width="1.35" height="1.2" fill="#000"/><rect x="366.0" y="254.9" width="1.35" height="1.2" fill="#000"/><rect x="367.5" y="254.9" width="1.35" height="1.2" fill="#000"/><rect x="369.0" y="254.9" width="1.35" height="1.2" fill="#000"/><rect x="370.0" y="254.9" width="1.35" height="1.2" fill="#000"/><rect x="371.5" y="254.9" width="1.35" height="1.2" fill="#000"/><rect x="372.5" y="254.9" width="1.35" height="1.2" fill="#000"/><rect x="373.0" y="254.9" width="1.35" height="1.2" fill="#000"/><rect x="374.0" y="254.9" width="1.35" height="1.2" fill="#000"/><rect x="377.0" y="254.9" width="1.35" height="1.2" fill="#000"/><rect x="379.5" y="254.9" width="1.35" height="1.2" fill="#000"/><rect x="380.0" y="254.9" width="1.35" height="1.2" fill="#000"/><rect x="381.5" y="254.9" width="1.35" height="1.2" fill="#000"/><rect x="383.0" y="254.9" width="1.35" height="1.2" fill="#000"/><rect x="385.5" y="254.9" width="1.35" height="1.2" fill="#000"/><rect x="385.5" y="254.9" width="1.35" height="1.2" fill="#000"/><rect x="387.0" y="254.9" width="1.35" height="1.2" fill="#000"/><rect x="388.0" y="254.9" width="1.35" height="1.2" fill="#000"/><rect x="390.0" y="254.9" width="1.35" height="1.2" fill="#000"/><rect x="392.5" y="254.9" width="1.35" height="1.2" fill="#000"/><rect x="394.5" y="254.9" width="1.35" height="1.2" fill="#000"/><rect x="397.0" y="254.9" width="1.35" height="1.2" fill="#000"/><rect x="397.5" y="254.9" width="1.35" height="1.2" fill="#000"/><rect x="399.0" y="254.9" width="1.35" height="1.2" fill="#000"/><rect x="401.5" y="254.9" width="1.35" height="1.2" fill="#000"/><rect x="403.0" y="254.9" width="1.35" height="1.2" fill="#000"/><rect x="405.0" y="254.9" width="1.35" height="1.2" fill="#000"/><rect x="406.0" y="254.9" width="1.35" height="1.2" fill="#000"/><rect x="407.5" y="254.9" width="1.35" height="1.2" fill="#000"/><rect x="412.0" y="254.9" width="1.35" height="1.2" fill="#000"/><rect x="413.5" y="254.9" width="1.35" height="1.2" fill="#000"/><rect x="414.0" y="254.9" width="1.35" height="1.2" fill="#000"/><rect x="423.5" y="254.9" width="1.35" height="1.2" fill="#000"/><rect x="432.5" y="254.9" width="1.35" height="1.2" fill="#000"/><rect x="434.0" y="254.9" width="1.35" height="1.2" fill="#000"/><rect x="439.5" y="254.9" width="1.35" height="1.2" fill="#000"/><rect x="439.5" y="254.9" width="1.35" height="1.2" fill="#000"/><rect x="443.5" y="254.9" width="1.35" height="1.2" fill="#000"/><rect x="445.5" y="254.9" width="1.35" height="1.2" fill="#000"/><rect x="449.5" y="254.9" width="1.35" height="1.2" fill="#000"/><rect x="455.5" y="254.9" width="1.35" height="1.2" fill="#000"/><rect x="466.5" y="254.9" width="1.35" height="1.2" fill="#000"/><rect x="467.0" y="254.9" width="1.35" height="1.2" fill="#000"/><rect x="473.0" y="254.9" width="1.35" height="1.2" fill="#000"/><rect x="494.0" y="254.9" width="1.35" height="1.2" fill="#000"/><rect x="500.5" y="254.9" width="1.35" height="1.2" fill="#000"/><rect x="501.5" y="254.9" width="1.35" height="1.2" fill="#000"/><rect x="502.5" y="254.9" width="1.35" height="1.2" fill="#000"/><rect x="511.0" y="254.9" width="1.35" height="1.2" fill="#000"/><rect x="527.0" y="254.9" width="1.35" height="1.2" fill="#000"/><rect x="528.0" y="254.9" width="1.35" height="1.2" fill="#000"/><rect x="533.5" y="254.9" width="1.35" height="1.2" fill="#000"/><rect x="534.0" y="254.9" width="1.35" height="1.2" fill="#000"/><rect x="539.5" y="254.9" width="1.35" height="1.2" fill="#000"/><rect x="540.0" y="254.9" width="1.35" height="1.2" fill="#000"/><rect x="540.5" y="254.9" width="1.35" height="1.2" fill="#000"/><rect x="366.5" y="259.9" width="1.35" height="1.2" fill="#000"/><rect x="370.0" y="259.9" width="1.35" height="1.2" fill="#000"/><rect x="370.5" y="259.9" width="1.35" height="1.2" fill="#000"/><rect x="378.5" y="259.9" width="1.35" height="1.2" fill="#000"/><rect x="380.0" y="259.9" width="1.35" height="1.2" fill="#000"/><rect x="383.0" y="259.9" width="1.35" height="1.2" fill="#000"/><rect x="394.0" y="259.9" width="1.35" height="1.2" fill="#000"/><rect x="395.0" y="259.9" width="1.35" height="1.2" fill="#000"/><rect x="398.5" y="259.9" width="1.35" height="1.2" fill="#000"/><rect x="400.0" y="259.9" width="1.35" height="1.2" fill="#000"/><rect x="402.5" y="259.9" width="1.35" height="1.2" fill="#000"/><rect x="404.0" y="259.9" width="1.35" height="1.2" fill="#000"/><rect x="408.5" y="259.9" width="1.35" height="1.2" fill="#000"/><rect x="410.0" y="259.9" width="1.35" height="1.2" fill="#000"/><rect x="410.0" y="259.9" width="1.35" height="1.2" fill="#000"/><rect x="410.5" y="259.9" width="1.35" height="1.2" fill="#000"/><rect x="411.5" y="259.9" width="1.35" height="1.2" fill="#000"/><rect x="412.5" y="259.9" width="1.35" height="1.2" fill="#000"/><rect x="414.5" y="259.9" width="1.35" height="1.2" fill="#000"/><rect x="419.5" y="259.9" width="1.35" height="1.2" fill="#000"/><rect x="422.0" y="259.9" width="1.35" height="1.2" fill="#000"/><rect x="423.0" y="259.9" width="1.35" height="1.2" fill="#000"/><rect x="425.5" y="259.9" width="1.35" height="1.2" fill="#000"/><rect x="425.5" y="259.9" width="1.35" height="1.2" fill="#000"/><rect x="428.0" y="259.9" width="1.35" height="1.2" fill="#000"/><rect x="429.5" y="259.9" width="1.35" height="1.2" fill="#000"/><rect x="431.5" y="259.9" width="1.35" height="1.2" fill="#000"/><rect x="432.5" y="259.9" width="1.35" height="1.2" fill="#000"/><rect x="433.5" y="259.9" width="1.35" height="1.2" fill="#000"/><rect x="434.0" y="259.9" width="1.35" height="1.2" fill="#000"/><rect x="435.5" y="259.9" width="1.35" height="1.2" fill="#000"/><rect x="440.0" y="259.9" width="1.35" height="1.2" fill="#000"/><rect x="441.5" y="259.9" width="1.35" height="1.2" fill="#000"/><rect x="442.5" y="259.9" width="1.35" height="1.2" fill="#000"/><rect x="443.5" y="259.9" width="1.35" height="1.2" fill="#000"/><rect x="449.0" y="259.9" width="1.35" height="1.2" fill="#000"/><rect x="450.0" y="259.9" width="1.35" height="1.2" fill="#000"/><rect x="451.0" y="259.9" width="1.35" height="1.2" fill="#000"/><rect x="452.5" y="259.9" width="1.35" height="1.2" fill="#000"/><rect x="453.0" y="259.9" width="1.35" height="1.2" fill="#000"/><rect x="455.5" y="259.9" width="1.35" height="1.2" fill="#000"/><rect x="456.0" y="259.9" width="1.35" height="1.2" fill="#000"/><rect x="458.5" y="259.9" width="1.35" height="1.2" fill="#000"/><rect x="462.5" y="259.9" width="1.35" height="1.2" fill="#000"/><rect x="464.0" y="259.9" width="1.35" height="1.2" fill="#000"/><rect x="474.0" y="259.9" width="1.35" height="1.2" fill="#000"/><rect x="475.0" y="259.9" width="1.35" height="1.2" fill="#000"/><rect x="480.0" y="259.9" width="1.35" height="1.2" fill="#000"/><rect x="482.0" y="259.9" width="1.35" height="1.2" fill="#000"/><rect x="483.0" y="259.9" width="1.35" height="1.2" fill="#000"/><rect x="483.5" y="259.9" width="1.35" height="1.2" fill="#000"/><rect x="484.5" y="259.9" width="1.35" height="1.2" fill="#000"/><rect x="486.0" y="259.9" width="1.35" height="1.2" fill="#000"/><rect x="490.5" y="259.9" width="1.35" height="1.2" fill="#000"/><rect x="492.5" y="259.9" width="1.35" height="1.2" fill="#000"/><rect x="495.0" y="259.9" width="1.35" height="1.2" fill="#000"/><rect x="498.0" y="259.9" width="1.35" height="1.2" fill="#000"/><rect x="500.5" y="259.9" width="1.35" height="1.2" fill="#000"/><rect x="502.0" y="259.9" width="1.35" height="1.2" fill="#000"/><rect x="506.5" y="259.9" width="1.35" height="1.2" fill="#000"/><rect x="510.5" y="259.9" width="1.35" height="1.2" fill="#000"/><rect x="512.0" y="259.9" width="1.35" height="1.2" fill="#000"/><rect x="513.5" y="259.9" width="1.35" height="1.2" fill="#000"/><rect x="516.5" y="259.9" width="1.35" height="1.2" fill="#000"/><rect x="518.0" y="259.9" width="1.35" height="1.2" fill="#000"/><rect x="522.0" y="259.9" width="1.35" height="1.2" fill="#000"/><rect x="523.5" y="259.9" width="1.35" height="1.2" fill="#000"/><rect x="524.5" y="259.9" width="1.35" height="1.2" fill="#000"/><rect x="528.5" y="259.9" width="1.35" height="1.2" fill="#000"/><rect x="529.0" y="259.9" width="1.35" height="1.2" fill="#000"/><rect x="530.5" y="259.9" width="1.35" height="1.2" fill="#000"/><rect x="530.5" y="259.9" width="1.35" height="1.2" fill="#000"/><rect x="533.5" y="259.9" width="1.35" height="1.2" fill="#000"/><rect x="535.0" y="259.9" width="1.35" height="1.2" fill="#000"/><rect x="536.5" y="259.9" width="1.35" height="1.2" fill="#000"/><rect x="538.0" y="259.9" width="1.35" height="1.2" fill="#000"/><rect x="539.5" y="259.9" width="1.35" height="1.2" fill="#000"/><rect x="370.0" y="263.9" width="1.35" height="1.2" fill="#000"/><rect x="373.0" y="263.9" width="1.35" height="1.2" fill="#000"/><rect x="374.0" y="263.9" width="1.35" height="1.2" fill="#000"/><rect x="375.5" y="263.9" width="1.35" height="1.2" fill="#000"/><rect x="381.5" y="263.9" width="1.35" height="1.2" fill="#000"/><rect x="385.5" y="263.9" width="1.35" height="1.2" fill="#000"/><rect x="386.0" y="263.9" width="1.35" height="1.2" fill="#000"/><rect x="389.5" y="263.9" width="1.35" height="1.2" fill="#000"/><rect x="391.5" y="263.9" width="1.35" height="1.2" fill="#000"/><rect x="394.0" y="263.9" width="1.35" height="1.2" fill="#000"/><rect x="396.5" y="263.9" width="1.35" height="1.2" fill="#000"/><rect x="398.0" y="263.9" width="1.35" height="1.2" fill="#000"/><rect x="399.5" y="263.9" width="1.35" height="1.2" fill="#000"/><rect x="402.0" y="263.9" width="1.35" height="1.2" fill="#000"/><rect x="404.0" y="263.9" width="1.35" height="1.2" fill="#000"/><rect x="410.0" y="263.9" width="1.35" height="1.2" fill="#000"/><rect x="411.0" y="263.9" width="1.35" height="1.2" fill="#000"/><rect x="414.0" y="263.9" width="1.35" height="1.2" fill="#000"/><rect x="415.0" y="263.9" width="1.35" height="1.2" fill="#000"/><rect x="417.0" y="263.9" width="1.35" height="1.2" fill="#000"/><rect x="418.5" y="263.9" width="1.35" height="1.2" fill="#000"/><rect x="420.0" y="263.9" width="1.35" height="1.2" fill="#000"/><rect x="421.0" y="263.9" width="1.35" height="1.2" fill="#000"/><rect x="422.5" y="263.9" width="1.35" height="1.2" fill="#000"/><rect x="423.5" y="263.9" width="1.35" height="1.2" fill="#000"/><rect x="424.5" y="263.9" width="1.35" height="1.2" fill="#000"/><rect x="427.0" y="263.9" width="1.35" height="1.2" fill="#000"/><rect x="428.0" y="263.9" width="1.35" height="1.2" fill="#000"/><rect x="429.5" y="263.9" width="1.35" height="1.2" fill="#000"/><rect x="430.5" y="263.9" width="1.35" height="1.2" fill="#000"/><rect x="434.0" y="263.9" width="1.35" height="1.2" fill="#000"/><rect x="435.5" y="263.9" width="1.35" height="1.2" fill="#000"/><rect x="436.0" y="263.9" width="1.35" height="1.2" fill="#000"/><rect x="437.0" y="263.9" width="1.35" height="1.2" fill="#000"/><rect x="440.0" y="263.9" width="1.35" height="1.2" fill="#000"/><rect x="441.0" y="263.9" width="1.35" height="1.2" fill="#000"/><rect x="444.0" y="263.9" width="1.35" height="1.2" fill="#000"/><rect x="444.5" y="263.9" width="1.35" height="1.2" fill="#000"/><rect x="445.5" y="263.9" width="1.35" height="1.2" fill="#000"/><rect x="447.0" y="263.9" width="1.35" height="1.2" fill="#000"/><rect x="449.0" y="263.9" width="1.35" height="1.2" fill="#000"/><rect x="451.0" y="263.9" width="1.35" height="1.2" fill="#000"/><rect x="452.0" y="263.9" width="1.35" height="1.2" fill="#000"/><rect x="456.0" y="263.9" width="1.35" height="1.2" fill="#000"/><rect x="458.5" y="263.9" width="1.35" height="1.2" fill="#000"/><rect x="462.5" y="263.9" width="1.35" height="1.2" fill="#000"/><rect x="463.0" y="263.9" width="1.35" height="1.2" fill="#000"/><rect x="464.5" y="263.9" width="1.35" height="1.2" fill="#000"/><rect x="465.5" y="263.9" width="1.35" height="1.2" fill="#000"/><rect x="466.0" y="263.9" width="1.35" height="1.2" fill="#000"/><rect x="467.5" y="263.9" width="1.35" height="1.2" fill="#000"/><rect x="468.5" y="263.9" width="1.35" height="1.2" fill="#000"/><rect x="471.0" y="263.9" width="1.35" height="1.2" fill="#000"/><rect x="472.0" y="263.9" width="1.35" height="1.2" fill="#000"/><rect x="472.5" y="263.9" width="1.35" height="1.2" fill="#000"/><rect x="473.0" y="263.9" width="1.35" height="1.2" fill="#000"/><rect x="477.0" y="263.9" width="1.35" height="1.2" fill="#000"/><rect x="477.5" y="263.9" width="1.35" height="1.2" fill="#000"/><rect x="478.0" y="263.9" width="1.35" height="1.2" fill="#000"/><rect x="488.0" y="263.9" width="1.35" height="1.2" fill="#000"/><rect x="488.5" y="263.9" width="1.35" height="1.2" fill="#000"/><rect x="490.5" y="263.9" width="1.35" height="1.2" fill="#000"/><rect x="491.0" y="263.9" width="1.35" height="1.2" fill="#000"/><rect x="491.5" y="263.9" width="1.35" height="1.2" fill="#000"/><rect x="492.5" y="263.9" width="1.35" height="1.2" fill="#000"/><rect x="494.0" y="263.9" width="1.35" height="1.2" fill="#000"/><rect x="495.0" y="263.9" width="1.35" height="1.2" fill="#000"/><rect x="496.5" y="263.9" width="1.35" height="1.2" fill="#000"/><rect x="500.5" y="263.9" width="1.35" height="1.2" fill="#000"/><rect x="501.5" y="263.9" width="1.35" height="1.2" fill="#000"/><rect x="503.0" y="263.9" width="1.35" height="1.2" fill="#000"/><rect x="503.5" y="263.9" width="1.35" height="1.2" fill="#000"/><rect x="506.5" y="263.9" width="1.35" height="1.2" fill="#000"/><rect x="511.0" y="263.9" width="1.35" height="1.2" fill="#000"/><rect x="512.5" y="263.9" width="1.35" height="1.2" fill="#000"/><rect x="514.5" y="263.9" width="1.35" height="1.2" fill="#000"/><rect x="515.0" y="263.9" width="1.35" height="1.2" fill="#000"/><rect x="516.5" y="263.9" width="1.35" height="1.2" fill="#000"/><rect x="518.0" y="263.9" width="1.35" height="1.2" fill="#000"/><rect x="518.5" y="263.9" width="1.35" height="1.2" fill="#000"/><rect x="519.5" y="263.9" width="1.35" height="1.2" fill="#000"/><rect x="520.5" y="263.9" width="1.35" height="1.2" fill="#000"/><rect x="523.5" y="263.9" width="1.35" height="1.2" fill="#000"/><rect x="526.5" y="263.9" width="1.35" height="1.2" fill="#000"/><rect x="528.0" y="263.9" width="1.35" height="1.2" fill="#000"/><rect x="529.5" y="263.9" width="1.35" height="1.2" fill="#000"/><rect x="530.5" y="263.9" width="1.35" height="1.2" fill="#000"/><rect x="532.0" y="263.9" width="1.35" height="1.2" fill="#000"/><rect x="532.0" y="263.9" width="1.35" height="1.2" fill="#000"/><rect x="532.5" y="263.9" width="1.35" height="1.2" fill="#000"/><rect x="534.0" y="263.9" width="1.35" height="1.2" fill="#000"/><rect x="536.0" y="263.9" width="1.35" height="1.2" fill="#000"/><rect x="537.0" y="263.9" width="1.35" height="1.2" fill="#000"/><rect x="538.5" y="263.9" width="1.35" height="1.2" fill="#000"/><rect x="539.5" y="263.9" width="1.35" height="1.2" fill="#000"/><rect x="540.5" y="263.9" width="1.35" height="1.2" fill="#000"/><rect x="541.5" y="263.9" width="1.35" height="1.2" fill="#000"/><rect x="542.0" y="263.9" width="1.35" height="1.2" fill="#000"/><rect x="363.5" y="267.9" width="1.35" height="1.2" fill="#000"/><rect x="374.0" y="267.9" width="1.35" height="1.2" fill="#000"/><rect x="378.0" y="267.9" width="1.35" height="1.2" fill="#000"/><rect x="380.0" y="267.9" width="1.35" height="1.2" fill="#000"/><rect x="389.5" y="267.9" width="1.35" height="1.2" fill="#000"/><rect x="391.5" y="267.9" width="1.35" height="1.2" fill="#000"/><rect x="392.5" y="267.9" width="1.35" height="1.2" fill="#000"/><rect x="395.5" y="267.9" width="1.35" height="1.2" fill="#000"/><rect x="400.0" y="267.9" width="1.35" height="1.2" fill="#000"/><rect x="400.5" y="267.9" width="1.35" height="1.2" fill="#000"/><rect x="405.5" y="267.9" width="1.35" height="1.2" fill="#000"/><rect x="408.5" y="267.9" width="1.35" height="1.2" fill="#000"/><rect x="410.5" y="267.9" width="1.35" height="1.2" fill="#000"/><rect x="411.0" y="267.9" width="1.35" height="1.2" fill="#000"/><rect x="412.5" y="267.9" width="1.35" height="1.2" fill="#000"/><rect x="412.5" y="267.9" width="1.35" height="1.2" fill="#000"/><rect x="414.0" y="267.9" width="1.35" height="1.2" fill="#000"/><rect x="417.0" y="267.9" width="1.35" height="1.2" fill="#000"/><rect x="417.0" y="267.9" width="1.35" height="1.2" fill="#000"/><rect x="419.5" y="267.9" width="1.35" height="1.2" fill="#000"/><rect x="422.5" y="267.9" width="1.35" height="1.2" fill="#000"/><rect x="425.5" y="267.9" width="1.35" height="1.2" fill="#000"/><rect x="426.0" y="267.9" width="1.35" height="1.2" fill="#000"/><rect x="427.0" y="267.9" width="1.35" height="1.2" fill="#000"/><rect x="428.0" y="267.9" width="1.35" height="1.2" fill="#000"/><rect x="428.5" y="267.9" width="1.35" height="1.2" fill="#000"/><rect x="429.5" y="267.9" width="1.35" height="1.2" fill="#000"/><rect x="431.0" y="267.9" width="1.35" height="1.2" fill="#000"/><rect x="434.5" y="267.9" width="1.35" height="1.2" fill="#000"/><rect x="436.5" y="267.9" width="1.35" height="1.2" fill="#000"/><rect x="438.0" y="267.9" width="1.35" height="1.2" fill="#000"/><rect x="440.5" y="267.9" width="1.35" height="1.2" fill="#000"/><rect x="446.5" y="267.9" width="1.35" height="1.2" fill="#000"/><rect x="448.0" y="267.9" width="1.35" height="1.2" fill="#000"/><rect x="452.5" y="267.9" width="1.35" height="1.2" fill="#000"/><rect x="454.0" y="267.9" width="1.35" height="1.2" fill="#000"/><rect x="456.5" y="267.9" width="1.35" height="1.2" fill="#000"/><rect x="459.0" y="267.9" width="1.35" height="1.2" fill="#000"/><rect x="462.5" y="267.9" width="1.35" height="1.2" fill="#000"/><rect x="464.0" y="267.9" width="1.35" height="1.2" fill="#000"/><rect x="466.5" y="267.9" width="1.35" height="1.2" fill="#000"/><rect x="469.0" y="267.9" width="1.35" height="1.2" fill="#000"/><rect x="470.5" y="267.9" width="1.35" height="1.2" fill="#000"/><rect x="474.5" y="267.9" width="1.35" height="1.2" fill="#000"/><rect x="476.0" y="267.9" width="1.35" height="1.2" fill="#000"/><rect x="477.0" y="267.9" width="1.35" height="1.2" fill="#000"/><rect x="478.0" y="267.9" width="1.35" height="1.2" fill="#000"/><rect x="481.0" y="267.9" width="1.35" height="1.2" fill="#000"/><rect x="482.5" y="267.9" width="1.35" height="1.2" fill="#000"/><rect x="484.0" y="267.9" width="1.35" height="1.2" fill="#000"/><rect x="488.5" y="267.9" width="1.35" height="1.2" fill="#000"/><rect x="491.5" y="267.9" width="1.35" height="1.2" fill="#000"/><rect x="493.5" y="267.9" width="1.35" height="1.2" fill="#000"/><rect x="495.0" y="267.9" width="1.35" height="1.2" fill="#000"/><rect x="496.5" y="267.9" width="1.35" height="1.2" fill="#000"/><rect x="499.5" y="267.9" width="1.35" height="1.2" fill="#000"/><rect x="502.0" y="267.9" width="1.35" height="1.2" fill="#000"/><rect x="503.5" y="267.9" width="1.35" height="1.2" fill="#000"/><rect x="506.0" y="267.9" width="1.35" height="1.2" fill="#000"/><rect x="509.0" y="267.9" width="1.35" height="1.2" fill="#000"/><rect x="513.0" y="267.9" width="1.35" height="1.2" fill="#000"/><rect x="514.0" y="267.9" width="1.35" height="1.2" fill="#000"/><rect x="514.5" y="267.9" width="1.35" height="1.2" fill="#000"/><rect x="515.5" y="267.9" width="1.35" height="1.2" fill="#000"/><rect x="517.0" y="267.9" width="1.35" height="1.2" fill="#000"/><rect x="518.5" y="267.9" width="1.35" height="1.2" fill="#000"/><rect x="519.5" y="267.9" width="1.35" height="1.2" fill="#000"/><rect x="520.5" y="267.9" width="1.35" height="1.2" fill="#000"/><rect x="523.0" y="267.9" width="1.35" height="1.2" fill="#000"/><rect x="523.5" y="267.9" width="1.35" height="1.2" fill="#000"/><rect x="527.0" y="267.9" width="1.35" height="1.2" fill="#000"/><rect x="529.5" y="267.9" width="1.35" height="1.2" fill="#000"/><rect x="530.5" y="267.9" width="1.35" height="1.2" fill="#000"/><rect x="532.0" y="267.9" width="1.35" height="1.2" fill="#000"/><rect x="535.0" y="267.9" width="1.35" height="1.2" fill="#000"/><rect x="536.5" y="267.9" width="1.35" height="1.2" fill="#000"/><rect x="538.0" y="267.9" width="1.35" height="1.2" fill="#000"/><rect x="538.0" y="267.9" width="1.35" height="1.2" fill="#000"/><rect x="539.5" y="267.9" width="1.35" height="1.2" fill="#000"/><rect x="539.5" y="267.9" width="1.35" height="1.2" fill="#000"/><rect x="540.5" y="267.9" width="1.35" height="1.2" fill="#000"/><rect x="541.0" y="267.9" width="1.35" height="1.2" fill="#000"/><rect x="542.0" y="267.9" width="1.35" height="1.2" fill="#000"/><rect x="370.0" y="271.9" width="1.35" height="1.2" fill="#000"/><rect x="386.0" y="271.9" width="1.35" height="1.2" fill="#000"/><rect x="387.5" y="271.9" width="1.35" height="1.2" fill="#000"/><rect x="390.0" y="271.9" width="1.35" height="1.2" fill="#000"/><rect x="391.5" y="271.9" width="1.35" height="1.2" fill="#000"/><rect x="392.0" y="271.9" width="1.35" height="1.2" fill="#000"/><rect x="416.5" y="271.9" width="1.35" height="1.2" fill="#000"/><rect x="418.5" y="271.9" width="1.35" height="1.2" fill="#000"/><rect x="422.5" y="271.9" width="1.35" height="1.2" fill="#000"/><rect x="426.0" y="271.9" width="1.35" height="1.2" fill="#000"/><rect x="434.0" y="271.9" width="1.35" height="1.2" fill="#000"/><rect x="436.0" y="271.9" width="1.35" height="1.2" fill="#000"/><rect x="448.5" y="271.9" width="1.35" height="1.2" fill="#000"/><rect x="451.0" y="271.9" width="1.35" height="1.2" fill="#000"/><rect x="453.5" y="271.9" width="1.35" height="1.2" fill="#000"/><rect x="454.0" y="271.9" width="1.35" height="1.2" fill="#000"/><rect x="455.0" y="271.9" width="1.35" height="1.2" fill="#000"/><rect x="455.5" y="271.9" width="1.35" height="1.2" fill="#000"/><rect x="457.0" y="271.9" width="1.35" height="1.2" fill="#000"/><rect x="458.5" y="271.9" width="1.35" height="1.2" fill="#000"/><rect x="461.0" y="271.9" width="1.35" height="1.2" fill="#000"/><rect x="466.0" y="271.9" width="1.35" height="1.2" fill="#000"/><rect x="466.5" y="271.9" width="1.35" height="1.2" fill="#000"/><rect x="469.0" y="271.9" width="1.35" height="1.2" fill="#000"/><rect x="470.5" y="271.9" width="1.35" height="1.2" fill="#000"/><rect x="472.0" y="271.9" width="1.35" height="1.2" fill="#000"/><rect x="475.5" y="271.9" width="1.35" height="1.2" fill="#000"/><rect x="478.0" y="271.9" width="1.35" height="1.2" fill="#000"/><rect x="481.0" y="271.9" width="1.35" height="1.2" fill="#000"/><rect x="485.5" y="271.9" width="1.35" height="1.2" fill="#000"/><rect x="488.0" y="271.9" width="1.35" height="1.2" fill="#000"/><rect x="497.0" y="271.9" width="1.35" height="1.2" fill="#000"/><rect x="498.0" y="271.9" width="1.35" height="1.2" fill="#000"/><rect x="502.5" y="271.9" width="1.35" height="1.2" fill="#000"/><rect x="505.0" y="271.9" width="1.35" height="1.2" fill="#000"/><rect x="507.0" y="271.9" width="1.35" height="1.2" fill="#000"/><rect x="508.5" y="271.9" width="1.35" height="1.2" fill="#000"/><rect x="511.0" y="271.9" width="1.35" height="1.2" fill="#000"/><rect x="514.0" y="271.9" width="1.35" height="1.2" fill="#000"/><rect x="515.0" y="271.9" width="1.35" height="1.2" fill="#000"/><rect x="518.5" y="271.9" width="1.35" height="1.2" fill="#000"/><rect x="529.0" y="271.9" width="1.35" height="1.2" fill="#000"/><rect x="530.5" y="271.9" width="1.35" height="1.2" fill="#000"/><rect x="536.5" y="271.9" width="1.35" height="1.2" fill="#000"/><rect x="537.5" y="271.9" width="1.35" height="1.2" fill="#000"/><rect x="540.0" y="271.9" width="1.35" height="1.2" fill="#000"/><rect x="540.5" y="271.9" width="1.35" height="1.2" fill="#000"/><rect x="379.5" y="276.9" width="1.35" height="1.2" fill="#000"/><rect x="402.0" y="276.9" width="1.35" height="1.2" fill="#000"/><rect x="441.5" y="276.9" width="1.35" height="1.2" fill="#000"/><rect x="443.5" y="276.9" width="1.35" height="1.2" fill="#000"/><rect x="450.5" y="276.9" width="1.35" height="1.2" fill="#000"/><rect x="464.0" y="276.9" width="1.35" height="1.2" fill="#000"/><rect x="486.5" y="276.9" width="1.35" height="1.2" fill="#000"/><rect x="514.0" y="276.9" width="1.35" height="1.2" fill="#000"/><rect x="522.5" y="276.9" width="1.35" height="1.2" fill="#000"/><rect x="523.5" y="276.9" width="1.35" height="1.2" fill="#000"/><rect x="526.5" y="276.9" width="1.35" height="1.2" fill="#000"/><rect x="527.0" y="276.9" width="1.35" height="1.2" fill="#000"/><rect x="535.0" y="276.9" width="1.35" height="1.2" fill="#000"/><rect x="381.0" y="280.9" width="1.35" height="1.2" fill="#000"/><rect x="394.5" y="280.9" width="1.35" height="1.2" fill="#000"/><rect x="412.0" y="280.9" width="1.35" height="1.2" fill="#000"/><rect x="491.0" y="280.9" width="1.35" height="1.2" fill="#000"/><rect x="514.0" y="280.9" width="1.35" height="1.2" fill="#000"/></g>
<line x1="363.20" y1="291.50" x2="363.20" y2="293.10" stroke="#666" stroke-width="0.5"/>
<text x="363.20" y="296.90" font-size="3.10" text-anchor="middle" font-family="Liberation Sans, sans-serif" fill="#444" class="s" stroke="#444">0</text>
<line x1="397.55" y1="291.50" x2="397.55" y2="293.10" stroke="#666" stroke-width="0.5"/>
<text x="397.55" y="296.90" font-size="3.10" text-anchor="middle" font-family="Liberation Sans, sans-serif" fill="#444" class="s" stroke="#444">100</text>
<line x1="431.90" y1="291.50" x2="431.90" y2="293.10" stroke="#666" stroke-width="0.5"/>
<text x="431.90" y="296.90" font-size="3.10" text-anchor="middle" font-family="Liberation Sans, sans-serif" fill="#444" class="s" stroke="#444">200</text>
<line x1="466.25" y1="291.50" x2="466.25" y2="293.10" stroke="#666" stroke-width="0.5"/>
<text x="466.25" y="296.90" font-size="3.10" text-anchor="middle" font-family="Liberation Sans, sans-serif" fill="#444" class="s" stroke="#444">300</text>
<line x1="500.60" y1="291.50" x2="500.60" y2="293.10" stroke="#666" stroke-width="0.5"/>
<text x="500.60" y="296.90" font-size="3.10" text-anchor="middle" font-family="Liberation Sans, sans-serif" fill="#444" class="s" stroke="#444">400</text>
<line x1="534.95" y1="291.50" x2="534.95" y2="293.10" stroke="#666" stroke-width="0.5"/>
<text x="534.95" y="296.90" font-size="3.10" text-anchor="middle" font-family="Liberation Sans, sans-serif" fill="#444" class="s" stroke="#444">500</text>
<line x1="355.10" y1="247.20" x2="356.70" y2="247.20" stroke="#666" stroke-width="0.5"/>
<text x="352.00" y="247.20" font-size="3.00" text-anchor="middle" transform="rotate(-90 352.00 247.20)" font-family="Liberation Sans, sans-serif" fill="#444" class="s" stroke="#444">0.2</text>
<line x1="355.10" y1="254.70" x2="356.70" y2="254.70" stroke="#666" stroke-width="0.5"/>
<text x="352.00" y="254.70" font-size="3.00" text-anchor="middle" transform="rotate(-90 352.00 254.70)" font-family="Liberation Sans, sans-serif" fill="#444" class="s" stroke="#444">0.1</text>
<line x1="355.10" y1="261.90" x2="356.70" y2="261.90" stroke="#666" stroke-width="0.5"/>
<text x="352.00" y="261.90" font-size="3.00" text-anchor="middle" transform="rotate(-90 352.00 261.90)" font-family="Liberation Sans, sans-serif" fill="#444" class="s" stroke="#444">0.0</text>
<line x1="355.10" y1="269.30" x2="356.70" y2="269.30" stroke="#666" stroke-width="0.5"/>
<text x="352.00" y="269.30" font-size="3.00" text-anchor="middle" transform="rotate(-90 352.00 269.30)" font-family="Liberation Sans, sans-serif" fill="#444" class="s" stroke="#444">−0.1</text>
<line x1="355.10" y1="276.70" x2="356.70" y2="276.70" stroke="#666" stroke-width="0.5"/>
<text x="352.00" y="276.70" font-size="3.00" text-anchor="middle" transform="rotate(-90 352.00 276.70)" font-family="Liberation Sans, sans-serif" fill="#444" class="s" stroke="#444">−0.2</text>
<line x1="355.10" y1="283.80" x2="356.70" y2="283.80" stroke="#666" stroke-width="0.5"/>
<text x="352.00" y="283.80" font-size="3.00" text-anchor="middle" transform="rotate(-90 352.00 283.80)" font-family="Liberation Sans, sans-serif" fill="#444" class="s" stroke="#444">−0.3</text>
<line x1="355.10" y1="290.70" x2="356.70" y2="290.70" stroke="#666" stroke-width="0.5"/>
<text x="352.00" y="290.70" font-size="3.00" text-anchor="middle" transform="rotate(-90 352.00 290.70)" font-family="Liberation Sans, sans-serif" fill="#444" class="s" stroke="#444">−0.4</text>
<text x="345.00" y="268.30" font-size="3.00" text-anchor="middle" transform="rotate(-90 345.00 268.30)" font-family="Liberation Sans, sans-serif" fill="#444" class="s" stroke="#444">KEGG pathway Score</text>
<text x="453.45" y="302.70" font-size="3.20" text-anchor="middle" font-family="Liberation Sans, sans-serif" fill="#444" class="s" stroke="#444">Samples</text>
<rect x="569.50" y="171.30" width="51.80" height="119.80" fill="none" stroke="#666" stroke-width="0.95"/>
<line x1="583.40" y1="175.30" x2="583.40" y2="208.90" stroke="#222" stroke-width="0.8" stroke-dasharray="1.6,1.6"/>
<line x1="583.40" y1="231.30" x2="583.40" y2="264.00" stroke="#222" stroke-width="0.8" stroke-dasharray="1.6,1.6"/>
<line x1="581.60" y1="175.30" x2="585.20" y2="175.30" stroke="#222" stroke-width="0.6"/>
<line x1="581.60" y1="264.00" x2="585.20" y2="264.00" stroke="#222" stroke-width="0.6"/>
<rect x="579.70" y="208.90" width="7.40" height="22.40" fill="#d62d2d" stroke="#222" stroke-width="0.6"/>
<line x1="579.70" y1="219.90" x2="587.10" y2="219.90" stroke="#111" stroke-width="1.1"/>
<circle cx="583.40" cy="286.60" r="0.6" fill="#222"/>
<line x1="583.40" y1="291.10" x2="583.40" y2="292.70" stroke="#666" stroke-width="0.5"/>
<line x1="607.30" y1="175.30" x2="607.30" y2="198.20" stroke="#222" stroke-width="0.8" stroke-dasharray="1.6,1.6"/>
<line x1="607.30" y1="219.90" x2="607.30" y2="253.10" stroke="#222" stroke-width="0.8" stroke-dasharray="1.6,1.6"/>
<line x1="605.50" y1="175.30" x2="609.10" y2="175.30" stroke="#222" stroke-width="0.6"/>
<line x1="605.50" y1="253.10" x2="609.10" y2="253.10" stroke="#222" stroke-width="0.6"/>
<rect x="603.60" y="198.20" width="7.40" height="21.70" fill="#3a78b5" stroke="#222" stroke-width="0.6"/>
<line x1="603.60" y1="208.90" x2="611.00" y2="208.90" stroke="#111" stroke-width="1.1"/>
<circle cx="607.30" cy="264.30" r="0.6" fill="#222"/>
<line x1="607.30" y1="291.10" x2="607.30" y2="292.70" stroke="#666" stroke-width="0.5"/>
<text x="583.40" y="296.40" font-size="3.00" text-anchor="middle" font-family="Liberation Sans, sans-serif" fill="#444" class="s" stroke="#444">Risk−H</text>
<text x="607.30" y="296.40" font-size="3.00" text-anchor="middle" font-family="Liberation Sans, sans-serif" fill="#444" class="s" stroke="#444">Risk−L</text>
<line x1="567.90" y1="176.40" x2="569.50" y2="176.40" stroke="#666" stroke-width="0.5"/>
<text x="565.00" y="176.40" font-size="3.00" text-anchor="middle" transform="rotate(-90 565.00 176.40)" font-family="Liberation Sans, sans-serif" fill="#444" class="s" stroke="#444">0.2</text>
<line x1="567.90" y1="195.40" x2="569.50" y2="195.40" stroke="#666" stroke-width="0.5"/>
<text x="565.00" y="195.40" font-size="3.00" text-anchor="middle" transform="rotate(-90 565.00 195.40)" font-family="Liberation Sans, sans-serif" fill="#444" class="s" stroke="#444">0.1</text>
<line x1="567.90" y1="214.30" x2="569.50" y2="214.30" stroke="#666" stroke-width="0.5"/>
<text x="565.00" y="214.30" font-size="3.00" text-anchor="middle" transform="rotate(-90 565.00 214.30)" font-family="Liberation Sans, sans-serif" fill="#444" class="s" stroke="#444">0.0</text>
<line x1="567.90" y1="233.10" x2="569.50" y2="233.10" stroke="#666" stroke-width="0.5"/>
<text x="565.00" y="233.10" font-size="3.00" text-anchor="middle" transform="rotate(-90 565.00 233.10)" font-family="Liberation Sans, sans-serif" fill="#444" class="s" stroke="#444">−0.1</text>
<line x1="567.90" y1="252.20" x2="569.50" y2="252.20" stroke="#666" stroke-width="0.5"/>
<text x="565.00" y="252.20" font-size="3.00" text-anchor="middle" transform="rotate(-90 565.00 252.20)" font-family="Liberation Sans, sans-serif" fill="#444" class="s" stroke="#444">−0.2</text>
<line x1="567.90" y1="271.30" x2="569.50" y2="271.30" stroke="#666" stroke-width="0.5"/>
<text x="565.00" y="271.30" font-size="3.00" text-anchor="middle" transform="rotate(-90 565.00 271.30)" font-family="Liberation Sans, sans-serif" fill="#444" class="s" stroke="#444">−0.3</text>
<line x1="567.90" y1="290.00" x2="569.50" y2="290.00" stroke="#666" stroke-width="0.5"/>
<text x="565.00" y="290.00" font-size="3.00" text-anchor="middle" transform="rotate(-90 565.00 290.00)" font-family="Liberation Sans, sans-serif" fill="#444" class="s" stroke="#444">−0.4</text>
<text x="557.00" y="231.20" font-size="2.80" text-anchor="middle" transform="rotate(-90 557.00 231.20)" font-family="Liberation Sans, sans-serif" fill="#444" class="s" stroke="#444">KEGG pathway Score</text>
<rect x="600.30" y="171.90" width="20.90" height="5.70" fill="none" stroke="#444" stroke-width="0.70"/>
<text x="611.05" y="176.10" font-size="4.25" text-anchor="middle" font-family="Liberation Sans, sans-serif" fill="#222" class="s" stroke="#222">P≤0.001</text>
</svg></body></html>
